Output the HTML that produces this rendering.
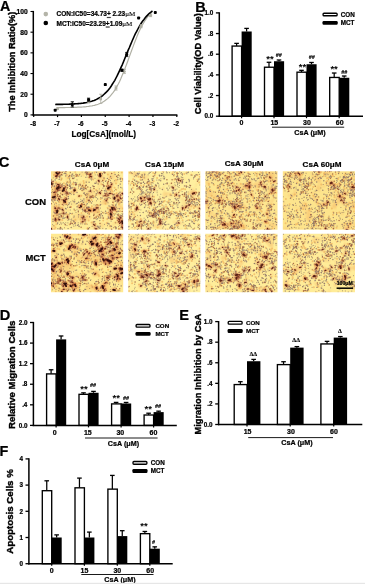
<!DOCTYPE html>
<html lang="en">
<head>
<meta charset="utf-8">
<title>Figure</title>
<style>
html,body{margin:0;padding:0;background:#fff;}
body{width:365px;height:584px;overflow:hidden;}
svg.fig{display:block;font-family:'Liberation Sans', Arial, sans-serif;fill:#000;}
svg.fig text{stroke:#000;stroke-width:.22px;stroke-linejoin:round;}
</style>
</head>
<body>
<svg class="fig" width="365" height="584" viewBox="0 0 365 584">
<text x="0.00" y="11.40" font-size="14.3" text-anchor="start" font-weight="bold">A</text>
<line x1="33.30" y1="10.90" x2="33.30" y2="115.60" stroke="#000" stroke-width="1.5"/>
<line x1="32.60" y1="114.90" x2="177.40" y2="114.90" stroke="#000" stroke-width="1.5"/>
<line x1="30.50" y1="114.90" x2="33.30" y2="114.90" stroke="#000" stroke-width="1.1"/>
<text x="27.70" y="117.30" font-size="6.7" text-anchor="end" font-weight="bold">0</text>
<line x1="30.50" y1="94.22" x2="33.30" y2="94.22" stroke="#000" stroke-width="1.1"/>
<text x="27.70" y="96.62" font-size="6.7" text-anchor="end" font-weight="bold">20</text>
<line x1="30.50" y1="73.54" x2="33.30" y2="73.54" stroke="#000" stroke-width="1.1"/>
<text x="27.70" y="75.94" font-size="6.7" text-anchor="end" font-weight="bold">40</text>
<line x1="30.50" y1="52.86" x2="33.30" y2="52.86" stroke="#000" stroke-width="1.1"/>
<text x="27.70" y="55.26" font-size="6.7" text-anchor="end" font-weight="bold">60</text>
<line x1="30.50" y1="32.18" x2="33.30" y2="32.18" stroke="#000" stroke-width="1.1"/>
<text x="27.70" y="34.58" font-size="6.7" text-anchor="end" font-weight="bold">80</text>
<line x1="30.50" y1="11.50" x2="33.30" y2="11.50" stroke="#000" stroke-width="1.1"/>
<text x="27.70" y="13.90" font-size="6.7" text-anchor="end" font-weight="bold">100</text>
<line x1="33.70" y1="114.90" x2="33.70" y2="117.10" stroke="#000" stroke-width="1.2"/>
<text x="33.10" y="125.80" font-size="6.3" text-anchor="middle" font-weight="bold">-8</text>
<line x1="57.55" y1="114.90" x2="57.55" y2="117.10" stroke="#000" stroke-width="1.2"/>
<text x="56.95" y="125.80" font-size="6.3" text-anchor="middle" font-weight="bold">-7</text>
<line x1="81.40" y1="114.90" x2="81.40" y2="117.10" stroke="#000" stroke-width="1.2"/>
<text x="80.80" y="125.80" font-size="6.3" text-anchor="middle" font-weight="bold">-6</text>
<line x1="105.25" y1="114.90" x2="105.25" y2="117.10" stroke="#000" stroke-width="1.2"/>
<text x="104.65" y="125.80" font-size="6.3" text-anchor="middle" font-weight="bold">-5</text>
<line x1="129.10" y1="114.90" x2="129.10" y2="117.10" stroke="#000" stroke-width="1.2"/>
<text x="128.50" y="125.80" font-size="6.3" text-anchor="middle" font-weight="bold">-4</text>
<line x1="152.95" y1="114.90" x2="152.95" y2="117.10" stroke="#000" stroke-width="1.2"/>
<text x="152.35" y="125.80" font-size="6.3" text-anchor="middle" font-weight="bold">-3</text>
<line x1="176.80" y1="114.90" x2="176.80" y2="117.10" stroke="#000" stroke-width="1.2"/>
<text x="176.20" y="125.80" font-size="6.3" text-anchor="middle" font-weight="bold">-2</text>
<text x="103.80" y="136.80" font-size="8.25" text-anchor="middle" font-weight="bold">Log[CsA](mol/L)</text>
<text transform="translate(15.30,61.80) rotate(-90)" font-size="9.2" text-anchor="middle" font-weight="bold" style="stroke-width:.38px">The Inhibition Ratio(%)</text>
<circle cx="45.8" cy="14.1" r="2.3" fill="#b4b4a8"/>
<circle cx="45.8" cy="23" r="2.3" fill="#000"/>
<text x="56.50" y="16.20" font-size="6.5" text-anchor="start" font-weight="bold">CON:IC50=34.73<tspan text-decoration="underline">+</tspan> 2.23<tspan font-family="'Liberation Serif', 'Times New Roman', serif" font-weight="normal" font-size="7.1" style="stroke-width:.12px">μM</tspan></text>
<text x="56.50" y="25.70" font-size="6.5" text-anchor="start" font-weight="bold">MCT:IC50=23.29<tspan text-decoration="underline">+</tspan>1.09<tspan font-family="'Liberation Serif', 'Times New Roman', serif" font-weight="normal" font-size="7.1" style="stroke-width:.12px">μM</tspan></text>
<polyline points="56.4,107.6 57.6,107.6 58.7,107.6 59.9,107.6 61.1,107.6 62.3,107.6 63.5,107.6 64.7,107.6 65.9,107.5 67.1,107.5 68.3,107.5 69.5,107.5 70.7,107.5 71.9,107.4 73.1,107.4 74.2,107.4 75.4,107.3 76.6,107.3 77.8,107.2 79.0,107.2 80.2,107.1 81.4,107.1 82.6,107.0 83.8,106.9 85.0,106.8 86.2,106.7 87.4,106.5 88.6,106.4 89.7,106.2 90.9,106.0 92.1,105.8 93.3,105.5 94.5,105.3 95.7,104.9 96.9,104.6 98.1,104.2 99.3,103.7 100.5,103.2 101.7,102.7 102.9,102.0 104.1,101.3 105.2,100.5 106.4,99.6 107.6,98.6 108.8,97.5 110.0,96.3 111.2,94.9 112.4,93.5 113.6,91.8 114.8,90.1 116.0,88.1 117.2,86.0 118.4,83.8 119.6,81.4 120.8,78.8 121.9,76.1 123.1,73.2 124.3,70.2 125.5,67.1 126.7,64.0 127.9,60.7 129.1,57.4 130.3,54.1 131.5,50.8 132.7,47.6 133.9,44.4 135.1,41.3 136.3,38.3 137.4,35.4 138.6,32.6 139.8,30.0 141.0,27.6 142.2,25.3 143.4,23.2 144.6,21.2 145.8,19.4 147.0,17.7 148.2,16.2 149.4,14.9 150.6,13.6 151.8,12.5" fill="none" stroke="#b0b0a4" stroke-width="1.2"/>
<polyline points="55.2,104.5 56.4,104.4 57.6,104.4 58.8,104.4 60.0,104.4 61.2,104.4 62.5,104.4 63.7,104.3 64.9,104.3 66.1,104.3 67.3,104.2 68.5,104.2 69.8,104.1 71.0,104.1 72.2,104.0 73.4,104.0 74.6,103.9 75.8,103.8 77.1,103.7 78.3,103.6 79.5,103.5 80.7,103.4 81.9,103.2 83.1,103.1 84.4,102.9 85.6,102.7 86.8,102.5 88.0,102.2 89.2,101.9 90.4,101.6 91.7,101.2 92.9,100.8 94.1,100.4 95.3,99.9 96.5,99.4 97.7,98.7 99.0,98.1 100.2,97.3 101.4,96.5 102.6,95.6 103.8,94.5 105.0,93.4 106.3,92.2 107.5,90.9 108.7,89.4 109.9,87.9 111.1,86.2 112.3,84.3 113.5,82.4 114.8,80.3 116.0,78.0 117.2,75.7 118.4,73.2 119.6,70.6 120.8,67.9 122.1,65.1 123.3,62.2 124.5,59.3 125.7,56.3 126.9,53.4 128.1,50.4 129.4,47.5 130.6,44.6 131.8,41.7 133.0,39.0 134.2,36.3 135.4,33.7 136.7,31.3 137.9,29.0 139.1,26.8 140.3,24.7 141.5,22.8 142.7,21.0 144.0,19.4 145.2,17.8 146.4,16.4 147.6,15.1 148.8,13.9 150.0,12.9 151.3,11.9 152.5,11.0" fill="none" stroke="#000" stroke-width="1.6"/>
<circle cx="57.6" cy="108.7" r="1.5" fill="#b0b0a4"/>
<line x1="72.34" y1="107.15" x2="72.34" y2="101.98" stroke="#b0b0a4" stroke-width="0.8"/>
<line x1="70.74" y1="101.98" x2="73.94" y2="101.98" stroke="#b0b0a4" stroke-width="0.8"/>
<line x1="70.74" y1="107.15" x2="73.94" y2="107.15" stroke="#b0b0a4" stroke-width="0.8"/>
<circle cx="72.3" cy="104.6" r="1.5" fill="#b0b0a4"/>
<line x1="88.56" y1="103.01" x2="88.56" y2="99.91" stroke="#b0b0a4" stroke-width="0.8"/>
<line x1="86.96" y1="99.91" x2="90.16" y2="99.91" stroke="#b0b0a4" stroke-width="0.8"/>
<line x1="86.96" y1="103.01" x2="90.16" y2="103.01" stroke="#b0b0a4" stroke-width="0.8"/>
<circle cx="88.6" cy="101.5" r="1.5" fill="#b0b0a4"/>
<line x1="100.72" y1="103.53" x2="100.72" y2="94.22" stroke="#b0b0a4" stroke-width="0.8"/>
<line x1="99.12" y1="94.22" x2="102.32" y2="94.22" stroke="#b0b0a4" stroke-width="0.8"/>
<line x1="99.12" y1="103.53" x2="102.32" y2="103.53" stroke="#b0b0a4" stroke-width="0.8"/>
<circle cx="100.7" cy="98.9" r="1.5" fill="#b0b0a4"/>
<line x1="115.98" y1="90.08" x2="115.98" y2="85.95" stroke="#b0b0a4" stroke-width="0.8"/>
<line x1="114.38" y1="85.95" x2="117.58" y2="85.95" stroke="#b0b0a4" stroke-width="0.8"/>
<line x1="114.38" y1="90.08" x2="117.58" y2="90.08" stroke="#b0b0a4" stroke-width="0.8"/>
<circle cx="116.0" cy="88.0" r="1.5" fill="#b0b0a4"/>
<line x1="124.33" y1="73.54" x2="124.33" y2="69.40" stroke="#b0b0a4" stroke-width="0.8"/>
<line x1="122.73" y1="69.40" x2="125.93" y2="69.40" stroke="#b0b0a4" stroke-width="0.8"/>
<line x1="122.73" y1="73.54" x2="125.93" y2="73.54" stroke="#b0b0a4" stroke-width="0.8"/>
<circle cx="124.3" cy="71.5" r="1.5" fill="#b0b0a4"/>
<line x1="141.03" y1="27.73" x2="141.03" y2="24.63" stroke="#b0b0a4" stroke-width="0.8"/>
<line x1="139.43" y1="24.63" x2="142.62" y2="24.63" stroke="#b0b0a4" stroke-width="0.8"/>
<line x1="139.43" y1="27.73" x2="142.62" y2="27.73" stroke="#b0b0a4" stroke-width="0.8"/>
<circle cx="141.0" cy="26.2" r="1.5" fill="#b0b0a4"/>
<line x1="150.56" y1="16.67" x2="150.56" y2="14.60" stroke="#b0b0a4" stroke-width="0.8"/>
<line x1="148.97" y1="14.60" x2="152.16" y2="14.60" stroke="#b0b0a4" stroke-width="0.8"/>
<line x1="148.97" y1="16.67" x2="152.16" y2="16.67" stroke="#b0b0a4" stroke-width="0.8"/>
<circle cx="150.6" cy="15.6" r="1.5" fill="#b0b0a4"/>
<rect x="53.7" y="108.7" width="3" height="3" rx="0.9" fill="#000"/>
<line x1="72.34" y1="106.94" x2="72.34" y2="101.77" stroke="#000" stroke-width="0.8"/>
<line x1="70.74" y1="101.77" x2="73.94" y2="101.77" stroke="#000" stroke-width="0.8"/>
<line x1="70.74" y1="106.94" x2="73.94" y2="106.94" stroke="#000" stroke-width="0.8"/>
<rect x="70.8" y="102.9" width="3" height="3" rx="0.9" fill="#000"/>
<line x1="88.56" y1="101.25" x2="88.56" y2="98.15" stroke="#000" stroke-width="0.8"/>
<line x1="86.96" y1="98.15" x2="90.16" y2="98.15" stroke="#000" stroke-width="0.8"/>
<line x1="86.96" y1="101.25" x2="90.16" y2="101.25" stroke="#000" stroke-width="0.8"/>
<rect x="87.1" y="98.2" width="3" height="3" rx="0.9" fill="#000"/>
<rect x="103.8" y="83.1" width="3" height="3" rx="0.9" fill="#000"/>
<line x1="121.95" y1="71.27" x2="121.95" y2="69.20" stroke="#000" stroke-width="0.8"/>
<line x1="120.35" y1="69.20" x2="123.55" y2="69.20" stroke="#000" stroke-width="0.8"/>
<line x1="120.35" y1="71.27" x2="123.55" y2="71.27" stroke="#000" stroke-width="0.8"/>
<rect x="120.4" y="68.7" width="3" height="3" rx="0.9" fill="#000"/>
<line x1="126.72" y1="56.58" x2="126.72" y2="52.45" stroke="#000" stroke-width="0.8"/>
<line x1="125.12" y1="52.45" x2="128.32" y2="52.45" stroke="#000" stroke-width="0.8"/>
<line x1="125.12" y1="56.58" x2="128.32" y2="56.58" stroke="#000" stroke-width="0.8"/>
<rect x="125.2" y="53.0" width="3" height="3" rx="0.9" fill="#000"/>
<rect x="137.1" y="16.4" width="3" height="3" rx="0.9" fill="#000"/>
<rect x="153.8" y="11.0" width="3" height="3" rx="0.9" fill="#000"/>
<text x="195.20" y="12.30" font-size="14.5" text-anchor="start" font-weight="bold">B</text>
<text transform="translate(201.40,63.70) rotate(-90)" font-size="9.2" text-anchor="middle" font-weight="bold" style="stroke-width:.38px">Cell Viability(OD Value)</text>
<line x1="236.60" y1="45.96" x2="236.60" y2="43.37" stroke="#000" stroke-width="1.25"/>
<line x1="234.30" y1="43.37" x2="238.90" y2="43.37" stroke="#000" stroke-width="1.3"/>
<line x1="246.60" y1="31.49" x2="246.60" y2="28.40" stroke="#000" stroke-width="1.25"/>
<line x1="244.30" y1="28.40" x2="248.90" y2="28.40" stroke="#000" stroke-width="1.3"/>
<rect x="232.10" y="46.06" width="9.50" height="70.14" fill="#fff" stroke="#000" stroke-width="1.35"/>
<rect x="241.60" y="31.49" width="10.10" height="84.71" fill="#000"/>
<line x1="269.00" y1="67.13" x2="269.00" y2="62.28" stroke="#000" stroke-width="1.25"/>
<line x1="266.70" y1="62.28" x2="271.30" y2="62.28" stroke="#000" stroke-width="1.3"/>
<line x1="279.00" y1="61.24" x2="279.00" y2="60.00" stroke="#000" stroke-width="1.25"/>
<line x1="276.70" y1="60.00" x2="281.30" y2="60.00" stroke="#000" stroke-width="1.3"/>
<rect x="264.50" y="67.23" width="9.50" height="48.97" fill="#fff" stroke="#000" stroke-width="1.35"/>
<rect x="274.00" y="61.24" width="10.10" height="54.96" fill="#000"/>
<line x1="301.50" y1="72.09" x2="301.50" y2="70.33" stroke="#000" stroke-width="1.25"/>
<line x1="299.20" y1="70.33" x2="303.80" y2="70.33" stroke="#000" stroke-width="1.3"/>
<line x1="311.50" y1="64.24" x2="311.50" y2="62.48" stroke="#000" stroke-width="1.25"/>
<line x1="309.20" y1="62.48" x2="313.80" y2="62.48" stroke="#000" stroke-width="1.3"/>
<rect x="297.00" y="72.19" width="9.50" height="44.01" fill="#fff" stroke="#000" stroke-width="1.35"/>
<rect x="306.50" y="64.24" width="10.10" height="51.96" fill="#000"/>
<line x1="334.20" y1="77.36" x2="334.20" y2="73.02" stroke="#000" stroke-width="1.25"/>
<line x1="331.90" y1="73.02" x2="336.50" y2="73.02" stroke="#000" stroke-width="1.3"/>
<line x1="344.20" y1="77.77" x2="344.20" y2="76.02" stroke="#000" stroke-width="1.25"/>
<line x1="341.90" y1="76.02" x2="346.50" y2="76.02" stroke="#000" stroke-width="1.3"/>
<rect x="329.70" y="77.46" width="9.50" height="38.74" fill="#fff" stroke="#000" stroke-width="1.35"/>
<rect x="339.20" y="77.77" width="10.10" height="38.43" fill="#000"/>
<line x1="219.30" y1="12.30" x2="219.30" y2="116.90" stroke="#000" stroke-width="1.5"/>
<line x1="218.60" y1="116.20" x2="363.00" y2="116.20" stroke="#000" stroke-width="1.5"/>
<line x1="215.90" y1="116.20" x2="219.30" y2="116.20" stroke="#000" stroke-width="1.3"/>
<text x="213.30" y="118.45" font-size="6.3" text-anchor="end" font-weight="bold">0.0</text>
<line x1="215.90" y1="95.54" x2="219.30" y2="95.54" stroke="#000" stroke-width="1.3"/>
<text x="213.30" y="97.79" font-size="6.3" text-anchor="end" font-weight="bold">.2</text>
<line x1="215.90" y1="74.88" x2="219.30" y2="74.88" stroke="#000" stroke-width="1.3"/>
<text x="213.30" y="77.13" font-size="6.3" text-anchor="end" font-weight="bold">.4</text>
<line x1="215.90" y1="54.22" x2="219.30" y2="54.22" stroke="#000" stroke-width="1.3"/>
<text x="213.30" y="56.47" font-size="6.3" text-anchor="end" font-weight="bold">.6</text>
<line x1="215.90" y1="33.56" x2="219.30" y2="33.56" stroke="#000" stroke-width="1.3"/>
<text x="213.30" y="35.81" font-size="6.3" text-anchor="end" font-weight="bold">.8</text>
<line x1="215.90" y1="12.90" x2="219.30" y2="12.90" stroke="#000" stroke-width="1.3"/>
<text x="213.30" y="15.15" font-size="6.3" text-anchor="end" font-weight="bold">1.0</text>
<line x1="241.60" y1="116.20" x2="241.60" y2="118.20" stroke="#000" stroke-width="1.2"/>
<line x1="274.00" y1="116.20" x2="274.00" y2="118.20" stroke="#000" stroke-width="1.2"/>
<line x1="306.50" y1="116.20" x2="306.50" y2="118.20" stroke="#000" stroke-width="1.2"/>
<line x1="339.20" y1="116.20" x2="339.20" y2="118.20" stroke="#000" stroke-width="1.2"/>
<text x="241.50" y="125.20" font-size="7" text-anchor="middle" font-weight="bold">0</text>
<text x="274.30" y="125.20" font-size="7" text-anchor="middle" font-weight="bold">15</text>
<text x="307.00" y="125.20" font-size="7" text-anchor="middle" font-weight="bold">30</text>
<text x="339.70" y="125.20" font-size="7" text-anchor="middle" font-weight="bold">60</text>
<line x1="272.00" y1="127.20" x2="344.20" y2="127.20" stroke="#000" stroke-width="0.9"/>
<text x="310.00" y="134.50" font-size="7.2" text-anchor="middle" font-weight="bold">CsA (μM)</text>
<text x="270.00" y="61.69" font-size="9.5" text-anchor="middle" font-weight="bold" style="stroke-width:0">**</text>
<text x="302.50" y="69.99" font-size="9.5" text-anchor="middle" font-weight="bold" style="stroke-width:0">**</text>
<text x="334.10" y="72.39" font-size="9.5" text-anchor="middle" font-weight="bold" style="stroke-width:0">**</text>
<text x="278.70" y="57.00" font-size="5.3" text-anchor="middle" font-weight="bold" font-style="italic" style="stroke-width:.15px">##</text>
<text x="311.70" y="59.30" font-size="5.3" text-anchor="middle" font-weight="bold" font-style="italic" style="stroke-width:.15px">##</text>
<text x="344.20" y="74.00" font-size="5.3" text-anchor="middle" font-weight="bold" font-style="italic" style="stroke-width:.15px">##</text>
<rect x="323.10" y="13.20" width="14.00" height="2.60" rx="0.9" fill="#fff" stroke="#000" stroke-width="1.35"/>
<rect x="322.50" y="21.00" width="15.20" height="3.80" rx="1.2" fill="#000"/>
<text x="340.80" y="16.70" font-size="6.3" text-anchor="start" font-weight="bold">CON</text>
<text x="340.80" y="25.10" font-size="6.3" text-anchor="start" font-weight="bold">MCT</text>
<text x="-1.20" y="167.00" font-size="14.8" text-anchor="start" font-weight="bold">C</text>
<text x="92.00" y="166.60" font-size="8.1" text-anchor="middle" font-weight="bold">CsA 0μM</text>
<text x="164.50" y="166.60" font-size="8.1" text-anchor="middle" font-weight="bold">CsA 15μM</text>
<text x="244.20" y="165.90" font-size="8.1" text-anchor="middle" font-weight="bold">CsA 30μM</text>
<text x="322.00" y="166.60" font-size="8.1" text-anchor="middle" font-weight="bold">CsA 60μM</text>
<text x="25.00" y="205.20" font-size="9.5" text-anchor="start" font-weight="bold">CON</text>
<text x="25.40" y="261.40" font-size="9.4" text-anchor="start" font-weight="bold">MCT</text>
<defs>
<filter id="o0" x="0" y="0" width="100%" height="100%" color-interpolation-filters="sRGB"><feTurbulence type="fractalNoise" baseFrequency="0.1" numOctaves="2" seed="1"/><feColorMatrix type="matrix" values="0 0 0 0 0.96  0 0 0 0 0.70  0 0 0 0 0.38  4 0 0 0 -2.040"/></filter>
<filter id="o1" x="0" y="0" width="100%" height="100%" color-interpolation-filters="sRGB"><feTurbulence type="fractalNoise" baseFrequency="0.1" numOctaves="2" seed="8"/><feColorMatrix type="matrix" values="0 0 0 0 0.96  0 0 0 0 0.70  0 0 0 0 0.38  4 0 0 0 -2.200"/></filter>
<filter id="o2" x="0" y="0" width="100%" height="100%" color-interpolation-filters="sRGB"><feTurbulence type="fractalNoise" baseFrequency="0.1" numOctaves="2" seed="15"/><feColorMatrix type="matrix" values="0 0 0 0 0.96  0 0 0 0 0.70  0 0 0 0 0.38  4 0 0 0 -2.040"/></filter>
<filter id="o3" x="0" y="0" width="100%" height="100%" color-interpolation-filters="sRGB"><feTurbulence type="fractalNoise" baseFrequency="0.1" numOctaves="2" seed="22"/><feColorMatrix type="matrix" values="0 0 0 0 0.96  0 0 0 0 0.70  0 0 0 0 0.38  4 0 0 0 -2.120"/></filter>
<filter id="o4" x="0" y="0" width="100%" height="100%" color-interpolation-filters="sRGB"><feTurbulence type="fractalNoise" baseFrequency="0.1" numOctaves="2" seed="29"/><feColorMatrix type="matrix" values="0 0 0 0 0.96  0 0 0 0 0.70  0 0 0 0 0.38  4 0 0 0 -1.880"/></filter>
<filter id="o5" x="0" y="0" width="100%" height="100%" color-interpolation-filters="sRGB"><feTurbulence type="fractalNoise" baseFrequency="0.1" numOctaves="2" seed="36"/><feColorMatrix type="matrix" values="0 0 0 0 0.96  0 0 0 0 0.70  0 0 0 0 0.38  4 0 0 0 -2.120"/></filter>
<filter id="o6" x="0" y="0" width="100%" height="100%" color-interpolation-filters="sRGB"><feTurbulence type="fractalNoise" baseFrequency="0.1" numOctaves="2" seed="43"/><feColorMatrix type="matrix" values="0 0 0 0 0.96  0 0 0 0 0.70  0 0 0 0 0.38  4 0 0 0 -2.120"/></filter>
<filter id="o7" x="0" y="0" width="100%" height="100%" color-interpolation-filters="sRGB"><feTurbulence type="fractalNoise" baseFrequency="0.1" numOctaves="2" seed="50"/><feColorMatrix type="matrix" values="0 0 0 0 0.96  0 0 0 0 0.70  0 0 0 0 0.38  4 0 0 0 -2.160"/></filter>
<filter id="tb" x="-5%" y="-5%" width="110%" height="110%"><feGaussianBlur stdDeviation="0.5"/></filter>
<filter id="bh" x="-5%" y="-5%" width="110%" height="110%"><feGaussianBlur stdDeviation="0.9"/></filter>
</defs>
<svg x="51.0" y="171.2" width="72.2" height="58.6" viewBox="0 0 72.2 58.6"><g filter="url(#tb)" fill="none" stroke-linecap="round">
<rect x="-3" y="-3" width="78.2" height="64.6" fill="#ffec98"/>
<rect x="-3" y="-3" width="78.2" height="64.6" filter="url(#o0)" opacity="0.42"/>
<path d="M40.2 39.1h0M27.9 4.4h0M70.3 51.1h0M59.0 18.7h0M9.8 22.6h0M22.4 13.4h0M52.4 9.3h0M40.0 40.3h0M3.8 17.6h0M34.4 34.2h0M28.3 24.7h0M35.5 30.5h0M70.6 7.4h0M24.4 48.5h0M2.2 26.1h0M39.2 38.2h0M15.1 42.7h0M9.6 36.3h0M42.2 8.2h0M63.9 27.7h0M40.9 35.0h0M55.8 51.9h0M56.9 11.1h0M53.2 7.6h0M24.7 5.0h0M47.6 44.2h0M62.3 33.6h0M27.6 34.1h0M5.8 37.5h0M63.5 42.7h0M4.4 56.4h0M6.0 44.0h0M9.0 25.0h0M8.2 45.7h0M35.1 52.5h0M46.3 34.3h0M19.1 1.4h0M23.6 39.0h0M72.4 18.5h0M-0.8 29.8h0M72.8 58.6h0M2.9 3.8h0M59.3 6.6h0M3.6 24.6h0M48.5 42.0h0M45.1 18.8h0M20.1 35.6h0M20.3 20.8h0M40.7 37.6h0M19.3 15.1h0M49.7 27.8h0M3.5 44.3h0M69.2 40.1h0M6.1 24.2h0M38.6 2.1h0M48.3 21.7h0M72.0 9.3h0M50.5 13.1h0M71.4 52.1h0M65.7 22.1h0M63.5 46.7h0M33.5 38.2h0M23.3 51.1h0M77.4 48.6h0M57.1 18.8h0M61.8 20.4h0M3.6 39.5h0M67.9 33.2h0M37.9 36.8h0M10.1 8.7h0M52.2 49.2h0M68.3 28.9h0M6.2 13.0h0M21.0 42.7h0M37.7 49.4h0M22.5 22.3h0M65.0 12.2h0M69.9 30.7h0M14.5 31.4h0M43.7 1.6h0M37.3 23.5h0M40.6 28.8h0M4.8 31.6h0M-0.4 15.7h0M76.5 19.2h0M37.9 6.4h0M68.1 26.6h0M1.6 11.4h0M60.7 42.3h0M73.4 47.4h0M5.1 11.1h0M63.4 1.4h0M59.6 36.1h0M62.4 31.3h0M4.6 23.9h0M16.8 43.4h0M65.2 18.5h0M15.9 24.7h0M9.7 14.0h0M18.7 5.7h0M30.4 46.3h0M-3.7 8.4h0M11.0 36.9h0M8.3 29.6h0M36.3 40.2h0M44.8 46.5h0M44.3 53.0h0M14.5 16.0h0M71.5 54.3h0M16.3 33.4h0M5.0 50.4h0M31.1 35.2h0M9.2 58.5h0M60.9 19.6h0M15.8 3.9h0M8.3 13.3h0M45.4 23.7h0M36.4 57.6h0M18.6 53.4h0M56.2 47.7h0M24.2 0.9h0M55.2 23.8h0M5.1 20.0h0M39.7 26.9h0M3.6 16.0h0M21.6 12.7h0M35.2 2.9h0M46.4 41.1h0M70.8 1.3h0M53.3 15.0h0M13.6 25.7h0M36.0 45.3h0M36.7 56.7h0M71.8 37.4h0M5.5 35.0h0M3.3 54.5h0M12.1 18.4h0M43.1 25.2h0M68.0 57.7h0M69.7 58.6h0M47.9 43.8h0M33.8 35.3h0M56.8 41.7h0M3.6 57.9h0M5.3 53.1h0M6.3 24.5h0M11.0 45.6h0M36.3 36.6h0M32.9 11.9h0M8.9 5.9h0M63.5 28.2h0M30.3 45.6h0M72.0 55.8h0M17.2 6.7h0M56.6 36.6h0M29.3 13.2h0M13.7 16.3h0M33.1 37.5h0M62.7 37.9h0M71.6 23.4h0M34.2 16.9h0M39.8 37.0h0M4.6 21.7h0M71.5 55.5h0M18.1 11.4h0M34.8 39.9h0M6.7 28.0h0M66.5 25.1h0M4.0 48.1h0M31.2 33.3h0M33.5 48.3h0M61.7 45.8h0M55.6 41.6h0M48.1 40.4h0M48.6 5.4h0M65.2 40.3h0M8.1 1.1h0M4.8 11.3h0M6.1 48.6h0M59.3 39.4h0M11.7 45.1h0M7.7 37.0h0M63.6 16.5h0M8.9 4.1h0M63.6 22.9h0M56.3 14.0h0M32.5 9.9h0M69.3 46.0h0M30.5 41.7h0M5.5 6.3h0M19.2 1.0h0M52.1 41.5h0M29.6 48.4h0M61.6 47.2h0M64.2 56.1h0M37.8 41.6h0M30.4 24.6h0M14.3 0.7h0M-0.7 29.5h0M8.6 30.9h0M47.5 34.2h0M59.6 16.2h0M22.6 11.6h0M9.9 42.5h0M16.2 10.8h0M44.1 -0.3h0M68.0 32.3h0M35.0 23.6h0M47.7 45.2h0M30.1 50.6h0M74.4 48.9h0M56.9 3.4h0M64.4 51.2h0M32.5 14.4h0M6.9 3.5h0M10.6 7.1h0M37.3 3.1h0M12.9 12.0h0M10.8 7.5h0M15.1 14.5h0M60.5 18.3h0M36.5 1.1h0M14.9 13.5h0M15.0 31.8h0M11.4 48.8h0M57.5 43.6h0M48.2 3.9h0M73.3 58.4h0M49.8 2.1h0M6.6 23.3h0M36.2 28.3h0M65.1 8.9h0M67.7 43.9h0M54.5 32.6h0M15.2 18.8h0M28.6 14.5h0M70.6 50.6h0M60.4 36.2h0M38.8 31.0h0M40.5 51.2h0" stroke="#f0b25c" stroke-width="2.0" opacity=".7"/>
<path d="M55.7 20.0h0M66.9 8.1h0M48.2 33.9h0M63.0 24.8h0M22.9 46.2h0M6.6 24.3h0M60.0 40.6h0M7.5 16.2h0M11.3 3.9h0M30.1 51.6h0M16.6 13.9h0M60.3 11.6h0M45.3 11.6h0M35.0 37.9h0M8.8 16.8h0M9.0 57.1h0M10.8 42.1h0M19.1 53.3h0M59.0 35.2h0M31.4 37.8h0M12.8 44.0h0M58.6 26.6h0M56.5 54.5h0M10.0 44.3h0M65.4 36.1h0M55.1 9.3h0M2.4 30.9h0M1.4 14.9h0M14.5 42.6h0M52.1 46.1h0M35.9 6.0h0M18.0 14.2h0M20.3 52.1h0M65.4 40.5h0M8.5 6.7h0M23.9 30.5h0M1.7 53.2h0M18.5 13.5h0M54.3 17.9h0M5.0 7.3h0M36.3 23.2h0M11.4 61.2h0M47.4 55.1h0M72.1 42.8h0M26.6 32.0h0M11.8 38.1h0M8.9 4.2h0M9.4 51.7h0M32.7 17.4h0M1.7 10.1h0M32.5 31.1h0M6.6 57.6h0M21.8 16.1h0M70.6 27.7h0M74.4 55.5h0M23.9 11.5h0M12.4 51.6h0M14.6 37.1h0M12.1 28.3h0M69.4 16.1h0M63.5 19.6h0M56.2 24.3h0M63.3 44.0h0M35.5 37.5h0M14.0 22.9h0M70.5 52.5h0M31.2 52.7h0M42.7 47.5h0M3.3 35.1h0M33.3 40.3h0M13.8 16.1h0M13.5 52.6h0M2.4 27.1h0M27.8 54.5h0M13.0 32.6h0M26.0 38.6h0M37.3 29.6h0M49.4 30.5h0M12.6 45.7h0M5.1 26.1h0M18.5 42.0h0M18.7 31.9h0M43.6 15.3h0M9.0 27.8h0M44.7 34.0h0M36.4 42.4h0M2.2 6.7h0M66.0 45.9h0M49.6 36.9h0M59.2 43.3h0M55.3 29.2h0M36.9 22.2h0M68.0 40.2h0M4.4 24.1h0M0.4 21.4h0M9.7 24.5h0M53.8 2.3h0M8.8 5.4h0M76.7 20.8h0M51.8 57.2h0M21.3 7.0h0M30.2 5.0h0M57.1 47.3h0M2.9 23.6h0M4.2 20.1h0M62.4 34.6h0M33.4 23.0h0M27.5 45.8h0M55.4 27.7h0M34.7 23.5h0M54.8 27.7h0M45.2 10.6h0M39.0 24.6h0M31.8 17.8h0M38.0 0.6h0M46.9 12.7h0M16.5 34.6h0M36.6 32.4h0M24.2 11.2h0M27.5 15.0h0M48.3 17.7h0M35.3 11.0h0M9.2 12.2h0M34.6 40.7h0M39.6 18.4h0M27.2 51.6h0M38.6 26.3h0M8.4 2.2h0M54.3 22.6h0M53.9 28.3h0M60.2 40.7h0M40.3 20.7h0M61.5 26.0h0M72.8 25.2h0M67.2 16.7h0M16.0 54.2h0M9.1 3.9h0M53.6 53.2h0M34.5 15.1h0M22.3 53.6h0M8.7 53.3h0M19.6 22.1h0M21.7 42.1h0M5.2 2.1h0M59.4 21.9h0M13.4 27.5h0M68.9 21.2h0M68.0 45.2h0M44.8 24.1h0M19.9 48.6h0M27.6 53.3h0M70.1 54.8h0M34.2 1.2h0M19.5 15.1h0M10.3 3.5h0M33.0 36.2h0M5.7 48.3h0M49.9 46.7h0M8.1 46.1h0M50.2 40.2h0M59.5 9.3h0M35.4 33.0h0M69.6 61.0h0M46.7 21.2h0M66.2 43.2h0M71.4 47.9h0M22.4 49.7h0M49.0 2.4h0M29.8 28.2h0M-4.2 12.1h0M70.1 50.9h0M21.9 2.8h0M9.3 57.6h0M9.1 43.4h0M13.0 2.5h0M16.7 10.8h0M8.0 33.7h0M19.4 15.9h0M10.8 26.5h0M3.5 41.8h0M37.4 36.5h0M57.9 23.7h0M60.1 50.1h0M43.9 50.5h0M20.5 23.0h0M55.3 57.5h0M7.7 59.9h0M31.9 48.9h0M64.7 51.6h0M11.0 51.8h0M15.9 45.5h0M33.2 50.1h0M40.4 8.9h0M60.6 41.3h0M72.5 56.5h0M35.0 24.3h0M28.6 3.4h0M47.4 36.5h0M77.1 52.5h0M60.2 42.5h0M69.5 26.3h0M19.6 1.4h0M4.5 27.3h0M4.6 21.4h0M19.1 14.4h0M35.7 18.0h0M48.1 47.0h0M67.6 28.3h0M29.5 52.7h0M0.7 8.2h0M59.2 22.6h0M45.3 26.4h0M47.2 45.3h0M21.2 5.6h0M67.4 55.5h0M7.8 49.4h0M69.6 27.5h0M23.2 31.5h0M14.8 51.6h0M15.0 42.2h0M69.5 12.9h0M51.0 10.4h0M57.5 41.1h0M56.1 30.8h0M67.3 42.6h0M11.6 12.5h0M45.4 29.6h0M8.2 49.1h0M32.7 39.0h0M27.8 13.5h0M41.4 30.2h0M68.2 47.7h0M14.6 29.4h0M71.7 43.2h0M8.7 19.3h0M9.1 58.0h0M16.9 49.2h0M67.7 48.6h0M36.9 58.2h0M36.2 32.7h0M32.8 31.4h0M14.2 16.4h0M5.3 32.5h0M35.4 14.2h0M61.7 45.2h0M65.4 46.7h0M62.1 24.6h0M69.0 12.9h0M66.7 29.7h0M44.6 52.8h0M22.9 55.1h0M52.5 11.5h0M31.1 0.9h0M26.0 8.7h0M15.1 12.3h0M12.4 34.0h0M37.3 20.1h0M25.8 11.5h0M49.9 43.1h0M60.9 39.9h0M29.1 18.3h0M33.0 29.7h0M25.0 41.2h0M10.4 38.6h0M68.7 4.6h0M16.3 28.0h0M63.6 26.0h0M64.1 30.3h0M19.3 38.8h0M15.5 18.3h0M34.6 40.1h0M12.2 39.9h0M15.1 46.3h0M66.1 23.8h0M66.0 26.1h0M9.3 1.3h0M43.7 56.9h0M71.7 23.2h0M46.9 41.1h0M4.8 27.1h0M47.4 12.8h0M15.1 21.7h0M3.6 14.7h0M20.6 47.9h0M47.9 56.8h0M63.8 25.4h0M64.8 18.2h0M1.7 20.6h0M38.5 6.5h0M21.8 29.7h0M14.0 46.4h0M22.3 20.7h0M8.8 38.1h0M5.8 37.9h0M7.6 44.8h0M11.3 42.5h0M62.4 56.5h0M0.8 9.0h0M53.0 41.8h0M5.5 1.9h0M65.9 31.8h0M56.0 22.8h0M2.1 28.4h0M23.7 28.7h0M64.0 55.5h0M36.2 53.0h0M60.3 44.7h0M4.3 19.0h0M70.2 24.3h0M10.0 4.6h0M28.9 13.0h0M63.3 23.1h0M37.5 30.9h0M27.0 34.8h0M2.2 54.6h0M6.8 20.3h0M10.9 38.2h0M56.3 23.8h0M35.1 10.9h0M27.0 5.3h0M7.0 23.2h0M35.1 40.7h0M56.9 37.6h0M72.8 45.4h0M67.0 37.4h0M61.7 34.5h0M3.1 21.3h0M66.2 4.4h0M31.8 44.0h0M3.4 33.0h0M64.8 42.6h0M69.1 20.9h0M51.4 41.2h0M10.2 57.1h0M15.2 24.3h0M60.6 7.2h0M34.1 1.8h0M27.3 39.5h0M35.6 40.4h0M9.4 21.9h0M9.3 38.1h0M47.0 22.1h0M49.4 26.5h0M33.4 45.2h0M-1.7 15.6h0M34.6 40.8h0M46.1 44.7h0M-0.9 28.6h0M70.4 53.3h0M35.1 13.6h0M7.4 18.0h0M2.5 40.9h0M39.8 19.5h0M55.7 22.4h0M15.8 11.7h0M44.0 7.1h0M42.1 52.7h0M49.8 21.3h0M51.9 17.0h0M52.5 15.5h0M69.1 31.7h0M20.7 32.9h0M45.2 48.4h0M9.9 16.4h0M39.3 7.7h0M7.9 0.1h0M56.0 15.2h0M59.4 20.2h0M49.5 20.3h0M67.0 47.0h0M34.5 50.7h0M66.9 43.5h0M35.1 34.7h0M59.4 27.2h0M14.5 22.0h0M10.3 52.9h0M70.4 53.9h0M31.5 39.8h0M5.5 60.2h0M4.1 48.8h0M75.2 45.5h0M6.4 52.7h0M30.1 43.9h0M68.6 54.2h0M67.5 1.2h0M42.6 40.2h0M44.3 54.7h0M10.2 7.9h0M64.8 37.1h0M37.6 35.7h0M61.1 44.9h0M6.0 21.8h0M15.6 23.2h0M54.2 25.4h0M37.2 40.7h0M24.2 39.5h0M16.9 51.7h0M47.8 38.6h0M22.3 7.4h0M43.0 33.7h0M1.6 18.2h0M6.7 17.8h0M57.1 31.6h0M8.6 16.1h0M71.5 21.7h0M47.8 46.3h0M15.7 21.0h0M27.4 16.8h0M53.5 27.9h0M1.0 29.2h0M44.2 47.1h0M15.8 -3.3h0M24.7 54.5h0M24.2 12.9h0M62.1 42.3h0M48.3 21.5h0M66.7 8.6h0M71.0 42.5h0M8.9 18.8h0M19.8 30.6h0M31.9 47.1h0M8.3 18.6h0M66.2 40.6h0M13.4 56.6h0M7.6 28.3h0M43.2 20.5h0M35.3 2.3h0M6.8 19.4h0M28.9 3.0h0M34.5 6.1h0M1.8 24.9h0M44.2 3.7h0M22.9 4.3h0M37.9 36.3h0M18.1 43.5h0M49.6 34.0h0M39.0 27.0h0M70.2 50.0h0M63.7 9.5h0M71.1 16.9h0M23.1 16.6h0M20.6 5.2h0M25.1 32.8h0M66.6 30.1h0M31.4 30.7h0M61.1 33.3h0M20.0 13.5h0M70.0 16.4h0M6.1 46.9h0M0.6 10.5h0M36.4 25.0h0M68.3 28.7h0M21.0 49.3h0M24.7 11.5h0M7.5 30.6h0M49.5 46.7h0M58.5 47.0h0M5.7 21.2h0M1.7 30.0h0M17.9 48.5h0M46.5 3.8h0M7.9 57.6h0M22.4 10.9h0M54.7 57.7h0M9.0 42.6h0M66.2 23.4h0M41.1 55.3h0M35.5 22.5h0M68.8 25.4h0M16.7 36.2h0M45.1 35.9h0M40.0 3.8h0M7.5 19.2h0M65.2 33.0h0M69.5 45.4h0M34.5 23.6h0M8.5 45.2h0M53.8 14.6h0M7.8 39.7h0M23.0 4.8h0" stroke="#7e665e" stroke-width="0.95" opacity=".8"/>
<path d="M68.5 37.5h0M29.4 13.8h0M69.2 7.1h0M49.5 44.7h0M46.3 55.0h0M18.1 31.7h0M38.1 11.1h0M4.1 8.8h0M19.7 42.2h0M23.1 44.9h0M51.0 26.8h0M7.7 27.8h0M64.1 3.3h0M29.8 17.0h0M71.9 29.2h0M17.7 47.8h0M14.5 16.4h0M17.7 33.4h0M27.7 43.5h0M44.7 12.2h0M74.5 44.0h0M46.1 19.7h0M5.0 12.6h0M13.8 2.0h0M30.8 17.0h0M32.7 18.5h0M29.7 17.8h0M32.9 27.8h0M32.8 22.0h0M70.5 46.0h0M48.5 43.4h0M11.7 23.6h0M31.4 38.3h0M0.3 16.1h0M2.5 12.6h0M18.7 36.0h0M-1.8 18.0h0M31.3 29.2h0M3.4 25.1h0M51.4 44.6h0M41.8 14.7h0M40.5 31.9h0M9.9 45.7h0M10.3 13.8h0M38.1 29.0h0M70.9 44.4h0M65.4 56.7h0M7.1 2.8h0M40.2 25.8h0M69.6 61.6h0M59.3 41.1h0M0.8 28.5h0M54.6 10.2h0M1.3 14.0h0M67.4 14.6h0M53.0 0.6h0M13.5 16.9h0M2.0 48.0h0M15.3 41.2h0M24.3 51.5h0M6.1 18.9h0M56.9 16.5h0M25.9 32.2h0M23.1 37.9h0M56.9 52.0h0M41.3 1.7h0M53.6 22.1h0M23.0 50.0h0M4.3 28.9h0M61.4 43.7h0M49.1 55.1h0M24.9 14.1h0M43.3 50.5h0M2.0 50.0h0M40.0 2.6h0M60.5 40.0h0M42.2 26.5h0M71.9 58.7h0M64.1 26.5h0M3.7 48.0h0M16.2 13.3h0M17.6 47.9h0M33.2 39.4h0M56.9 52.3h0M66.0 29.6h0M2.8 26.7h0M26.5 54.1h0M33.4 21.8h0M6.5 29.4h0M14.8 37.4h0M5.4 14.5h0M39.2 30.2h0M64.8 57.6h0M51.4 2.6h0M70.1 44.5h0M64.7 34.7h0M4.0 41.6h0M36.7 36.0h0M39.2 19.7h0M45.6 1.0h0M18.1 21.6h0M57.6 46.7h0M7.3 37.3h0M31.8 48.5h0M71.8 53.2h0M64.0 37.8h0M58.1 52.8h0M23.1 6.7h0M64.7 38.4h0M15.2 26.9h0M69.2 43.9h0M19.5 11.7h0M36.8 40.4h0M13.2 16.7h0M45.3 22.5h0M35.6 3.5h0M27.7 31.1h0M64.6 29.8h0M28.1 55.3h0M43.9 12.0h0M15.5 20.0h0M13.0 14.2h0M69.4 7.6h0M33.7 46.6h0M54.9 42.3h0M46.3 47.6h0M66.9 30.7h0M38.1 36.1h0M58.0 34.7h0M38.6 4.6h0M69.2 47.0h0M57.2 24.0h0M8.7 14.6h0M19.7 16.6h0M30.5 46.2h0M20.9 16.8h0M11.6 46.9h0M66.8 6.3h0M19.0 17.4h0M4.8 42.3h0M1.5 10.6h0M44.3 25.7h0M26.1 35.5h0M64.8 33.8h0M72.1 49.2h0M69.3 8.4h0M40.7 7.7h0M4.5 36.8h0M25.1 12.8h0M19.6 17.6h0M57.9 22.5h0M19.0 22.3h0M53.0 6.7h0M45.3 37.6h0M36.6 1.6h0M66.4 47.0h0M59.7 11.4h0M22.9 23.3h0M53.0 15.0h0M47.3 56.2h0M8.7 25.2h0M13.2 42.8h0M48.7 56.7h0M7.7 46.9h0M18.5 15.0h0M60.4 55.1h0M23.7 52.1h0M12.2 -0.3h0M3.2 15.1h0M47.6 4.9h0M67.8 22.2h0M48.9 57.1h0M70.2 56.3h0M7.9 17.3h0M11.3 15.6h0M26.0 21.4h0M75.0 59.8h0M20.2 56.3h0M67.1 40.0h0M5.8 6.9h0M38.5 56.4h0M32.1 33.3h0M32.0 46.8h0M57.2 26.2h0M0.2 9.9h0M14.7 4.7h0M4.7 39.6h0M8.0 43.1h0M12.6 31.1h0M7.9 2.2h0M33.9 52.8h0M14.9 2.6h0M34.0 17.6h0M15.1 37.7h0M14.5 -0.2h0M69.2 25.1h0M8.9 19.1h0M39.5 16.6h0M6.7 4.8h0M54.8 19.7h0M50.3 42.6h0M8.5 5.6h0M62.3 27.6h0M62.6 23.4h0M17.9 5.3h0M37.5 57.4h0M57.3 45.8h0M17.1 57.4h0M56.4 7.2h0M53.4 19.5h0M48.8 49.4h0M24.2 52.5h0M70.0 10.2h0M42.7 37.3h0M70.8 31.1h0M38.6 45.6h0M6.8 3.9h0M68.0 46.9h0M58.2 17.9h0M15.1 33.4h0M35.8 0.7h0M6.0 43.9h0M17.5 27.4h0M23.0 30.3h0M18.6 7.8h0M54.6 40.1h0M21.2 3.1h0M7.0 5.4h0M11.3 58.1h0M64.8 56.1h0M46.6 27.7h0M48.3 9.3h0M29.9 30.2h0M49.7 33.4h0M59.6 5.4h0M17.3 25.3h0M8.2 8.2h0M13.0 47.0h0M20.9 4.0h0M6.7 51.8h0" stroke="#7c6260" stroke-width="1.45" opacity=".75"/>
<path d="M31.4 14.2h0M13.1 19.2h0M69.4 23.6h0M4.2 46.7h0M57.4 10.3h0M60.3 22.3h0M16.3 22.9h0M59.1 54.9h0M48.8 3.9h0M6.6 0.3h0M65.6 5.3h0M57.9 8.5h0M56.8 12.7h0M25.5 13.0h0M6.0 4.6h0M8.9 16.1h0M56.9 23.8h0M60.8 40.9h0M14.5 16.6h0M29.8 33.9h0M7.3 19.4h0M6.7 16.3h0M56.0 23.9h0M67.4 3.8h0M25.0 3.0h0M21.9 7.2h0M61.3 41.1h0M23.9 17.1h0M36.8 3.0h0M72.7 56.6h0M66.9 28.1h0M24.6 13.3h0M12.8 31.3h0M12.1 42.5h0M35.6 36.2h0M32.9 16.1h0M11.3 13.9h0M43.0 43.0h0M30.6 33.6h0M3.8 49.4h0M4.9 49.9h0M9.5 56.2h0M59.9 14.8h0M37.2 57.9h0M60.1 48.4h0M40.9 25.9h0M71.5 49.8h0M19.5 52.5h0M8.1 37.1h0M31.1 19.2h0M27.3 40.6h0M69.4 24.0h0M11.0 28.5h0M3.7 37.1h0M70.0 49.3h0M31.0 15.6h0M67.4 50.7h0M8.3 25.0h0M61.9 31.1h0M14.3 53.5h0M54.5 22.2h0M72.0 57.2h0M60.7 2.4h0M38.0 38.0h0M39.6 26.0h0M6.5 38.2h0M36.8 15.9h0M14.3 20.3h0M37.3 38.6h0M54.0 1.2h0M61.3 48.1h0M48.6 43.6h0M4.3 23.0h0M71.9 45.1h0M62.2 39.1h0M12.9 29.5h0M52.2 47.0h0M3.3 28.8h0M51.7 9.2h0M66.4 49.0h0M66.7 25.4h0M65.4 24.8h0M59.4 40.4h0M42.3 50.9h0M39.7 3.1h0M71.2 40.2h0M71.5 26.9h0M14.5 15.2h0M26.4 3.7h0M19.1 9.8h0M37.4 29.0h0M69.9 47.2h0M57.5 24.3h0M45.2 45.7h0M0.0 11.5h0M55.9 21.9h0M14.1 31.1h0M30.8 32.5h0M18.7 4.3h0M56.4 11.8h0M68.7 45.5h0M71.9 7.8h0M70.1 50.0h0M60.6 58.0h0M11.4 33.2h0M6.7 25.1h0M34.8 17.0h0M53.1 1.3h0M10.6 3.2h0M17.5 22.8h0M37.5 37.8h0M43.3 46.7h0M31.4 47.2h0M74.4 57.9h0M35.8 26.2h0M6.9 60.6h0M55.8 15.0h0M50.7 19.3h0M41.8 24.2h0M34.8 14.2h0M7.0 16.1h0M33.3 33.3h0M56.1 28.6h0M12.9 28.4h0M71.9 59.1h0M68.0 29.3h0M41.9 25.7h0M38.4 6.0h0M6.8 23.2h0M71.2 59.3h0M52.5 14.3h0M73.1 42.4h0M14.8 26.8h0M11.2 1.4h0M25.5 4.8h0M3.4 26.8h0M16.3 21.1h0M67.9 57.7h0M50.1 4.3h0M0.3 32.5h0M7.9 36.0h0M16.2 16.7h0M5.1 17.7h0M38.2 3.0h0M57.5 14.6h0M12.3 42.5h0M15.1 0.2h0M4.8 20.6h0M30.1 56.1h0M73.6 60.1h0M9.4 25.8h0M67.1 44.1h0M11.3 23.4h0M59.9 47.2h0M55.9 25.3h0M6.8 36.8h0M72.2 54.6h0M19.6 36.1h0M63.5 36.1h0M39.8 25.9h0M6.9 15.7h0M8.0 16.2h0M14.2 29.7h0M46.0 33.5h0M10.2 15.3h0M42.7 44.2h0M13.1 -2.7h0M19.9 50.9h0M52.2 24.9h0M42.7 15.2h0M38.4 29.1h0M6.4 19.8h0M0.2 12.6h0M38.0 38.6h0M38.2 42.7h0M36.2 37.4h0M49.0 52.3h0M39.2 25.5h0M60.4 38.4h0M37.5 38.3h0M10.3 44.2h0M61.2 22.6h0M34.8 0.9h0M8.8 37.2h0M72.1 60.9h0M52.0 13.2h0M61.8 23.3h0M21.3 52.2h0M2.5 10.1h0M43.0 17.2h0M64.0 38.6h0M10.5 45.4h0M16.5 16.5h0M16.4 14.3h0M35.8 2.1h0M56.6 27.6h0M5.8 15.1h0M2.4 44.9h0M40.4 25.0h0M67.0 23.5h0" stroke="#965034" stroke-width="1.5" opacity=".8"/>
<g filter="url(#bh)" stroke="#d66a40" opacity=".72"><path d="M59.4 22.3l-1.0 0.0M68.5 49.9l-0.6 0.5M16.6 44.9l0.1 1.8M48.5 21.2l1.0 1.2M39.6 2.9l-0.7 0.8M28.3 36.3l0.7 0.1M39.0 5.1l1.7 0.5M0.4 57.3l0.3 1.6M59.1 15.3l0.5 0.7M44.3 57.6l1.5 0.0M69.1 26.6l0.8 0.9M11.5 38.3l0.6 0.8M32.1 50.4l-0.8 0.3M67.5 47.5l1.1 1.0M39.5 19.6l-0.4 0.5M63.7 37.5l0.4 1.2M28.4 24.8l-0.5 0.1M34.2 48.6l-0.4 0.0M15.6 27.7l-1.4 1.1M7.6 27.0l0.9 1.5M-0.7 13.9l-0.8 1.6M42.7 53.3l1.0 0.9M6.0 18.0l0.7 0.6M69.3 46.4l0.3 0.3M8.0 14.9l-0.3 0.1M34.1 38.8l-0.0 1.0M6.6 13.2l1.5 0.5M67.1 28.4l0.2 1.4M62.9 36.2l-0.4 0.5M71.0 22.2l1.4 0.5M8.9 16.5l0.7 0.0M59.2 38.4l0.3 1.0M15.4 21.8l0.9 0.2M61.0 12.8l-0.7 0.5M45.3 36.6l1.6 0.1M5.2 4.5l-0.7 0.6M4.5 47.5l0.3 1.4M6.7 16.9l1.2 0.5M70.9 55.7l0.7 0.9M55.2 29.1l-0.1 0.5M5.5 39.5l1.1 1.0M12.3 41.8l0.6 0.1M7.7 1.8l-0.4 0.8M3.8 21.0l-1.0 0.4M59.8 45.2l-0.2 1.3M7.7 48.0l1.1 0.6M54.3 23.9l-0.4 0.6M23.0 18.4l0.2 0.9M67.0 24.6l-1.4 0.1M4.1 36.8l0.4 0.5M6.2 4.0l-0.7 1.3M75.4 58.8l-0.2 0.3M47.3 9.1l0.8 1.5M8.6 1.0l-0.0 0.6M69.4 51.0l-0.7 1.2M32.6 44.9l-0.6 1.7" stroke-width="2.4"/><path d="M6.4 39.4l-0.4 2.0M13.0 17.1l-0.5 1.6M49.0 2.7l0.3 2.5M5.3 1.4l1.2 1.2M58.0 16.3l-1.0 1.0M71.0 50.0l0.6 2.0M43.9 38.6l-1.1 0.4M38.0 39.0l1.3 0.4M59.6 42.4l0.5 1.2M-0.6 11.2l1.5 1.6M3.9 25.6l-2.2 0.6M29.8 34.7l0.3 0.7M12.9 18.9l-1.3 0.9M12.8 29.4l1.4 1.3M63.5 26.4l-0.1 1.1M24.0 19.0l-0.5 0.5M7.7 15.9l-1.8 1.1M61.0 36.5l0.7 1.7" stroke-width="3.3"/></g>
<path d="M59.4 22.3l-1.0 0.0M68.5 49.9l-0.6 0.5M16.6 44.9l0.1 1.8M48.5 21.2l1.0 1.2M39.6 2.9l-0.7 0.8M28.3 36.3l0.7 0.1M39.0 5.1l1.7 0.5M0.4 57.3l0.3 1.6M59.1 15.3l0.5 0.7M44.3 57.6l1.5 0.0M69.1 26.6l0.8 0.9M11.5 38.3l0.6 0.8M32.1 50.4l-0.8 0.3M67.5 47.5l1.1 1.0M39.5 19.6l-0.4 0.5M63.7 37.5l0.4 1.2M28.4 24.8l-0.5 0.1M34.2 48.6l-0.4 0.0M15.6 27.7l-1.4 1.1M7.6 27.0l0.9 1.5M-0.7 13.9l-0.8 1.6M42.7 53.3l1.0 0.9M6.0 18.0l0.7 0.6M69.3 46.4l0.3 0.3M8.0 14.9l-0.3 0.1M34.1 38.8l-0.0 1.0M6.6 13.2l1.5 0.5M67.1 28.4l0.2 1.4M62.9 36.2l-0.4 0.5M71.0 22.2l1.4 0.5M8.9 16.5l0.7 0.0M59.2 38.4l0.3 1.0M15.4 21.8l0.9 0.2M61.0 12.8l-0.7 0.5M45.3 36.6l1.6 0.1M5.2 4.5l-0.7 0.6M4.5 47.5l0.3 1.4M6.7 16.9l1.2 0.5M70.9 55.7l0.7 0.9M55.2 29.1l-0.1 0.5M5.5 39.5l1.1 1.0M12.3 41.8l0.6 0.1M7.7 1.8l-0.4 0.8M3.8 21.0l-1.0 0.4M59.8 45.2l-0.2 1.3M7.7 48.0l1.1 0.6M54.3 23.9l-0.4 0.6M23.0 18.4l0.2 0.9M67.0 24.6l-1.4 0.1M4.1 36.8l0.4 0.5M6.2 4.0l-0.7 1.3M75.4 58.8l-0.2 0.3M47.3 9.1l0.8 1.5M8.6 1.0l-0.0 0.6M69.4 51.0l-0.7 1.2M32.6 44.9l-0.6 1.7" stroke="#62281c" stroke-width="1.25"/>
<path d="M6.4 39.4l-0.4 2.0M13.0 17.1l-0.5 1.6M49.0 2.7l0.3 2.5M5.3 1.4l1.2 1.2M58.0 16.3l-1.0 1.0M71.0 50.0l0.6 2.0M43.9 38.6l-1.1 0.4M38.0 39.0l1.3 0.4M59.6 42.4l0.5 1.2M-0.6 11.2l1.5 1.6M3.9 25.6l-2.2 0.6M29.8 34.7l0.3 0.7M12.9 18.9l-1.3 0.9M12.8 29.4l1.4 1.3M63.5 26.4l-0.1 1.1M24.0 19.0l-0.5 0.5M7.7 15.9l-1.8 1.1M61.0 36.5l0.7 1.7" stroke="#38140f" stroke-width="1.9"/>
</g></svg>
<svg x="128.2" y="171.2" width="72.2" height="58.6" viewBox="0 0 72.2 58.6"><g filter="url(#tb)" fill="none" stroke-linecap="round">
<rect x="-3" y="-3" width="78.2" height="64.6" fill="#ffef9e"/>
<rect x="-3" y="-3" width="78.2" height="64.6" filter="url(#o1)" opacity="0.42"/>
<path d="M28.0 41.8h0M44.6 37.0h0M51.6 40.3h0M45.8 31.2h0M12.4 12.4h0M33.2 41.3h0M14.1 53.5h0M48.2 54.4h0M35.2 37.6h0M53.5 18.1h0M38.4 35.6h0M3.0 38.2h0M46.0 4.4h0M70.6 45.6h0M4.5 34.5h0M25.8 39.2h0M0.7 10.1h0M48.8 41.3h0M63.3 35.1h0M70.1 53.2h0M6.1 43.4h0M60.0 44.5h0M70.5 27.1h0M35.2 40.0h0M21.4 22.9h0M25.0 1.7h0M44.7 56.2h0M52.3 44.5h0M48.7 1.5h0M70.1 53.6h0M38.0 40.5h0M54.4 49.0h0M4.6 16.5h0M-5.3 34.3h0M25.9 25.6h0M9.0 50.2h0M5.1 32.9h0M22.0 13.1h0M6.7 56.3h0M70.9 11.3h0M24.4 25.4h0M53.2 46.8h0M65.8 57.8h0M25.9 15.6h0M9.3 10.4h0M17.0 51.2h0M61.1 28.8h0M66.5 42.4h0M78.4 45.5h0M25.3 51.9h0M9.3 53.8h0M71.5 5.6h0M45.4 43.1h0M20.1 54.0h0M6.6 45.5h0M56.5 37.2h0M12.3 8.4h0M-0.3 49.9h0M28.9 6.8h0M8.9 51.9h0M42.2 23.4h0M15.6 14.0h0M7.5 51.8h0M26.5 45.5h0M25.9 41.2h0M5.0 8.1h0M38.8 12.5h0M22.5 41.2h0M35.2 44.4h0M36.7 41.4h0M31.9 52.2h0M28.2 46.0h0M46.2 8.4h0M38.4 47.6h0M9.6 17.7h0M70.3 46.3h0M40.5 29.7h0M16.2 27.6h0M71.0 30.6h0M69.2 8.6h0M45.0 0.3h0M26.6 32.1h0M34.7 0.3h0M23.0 43.0h0M57.6 41.7h0M23.8 11.3h0M25.4 10.1h0M37.0 41.1h0M43.6 40.4h0M50.0 43.4h0M66.3 34.8h0M39.7 31.3h0M21.7 11.1h0M22.5 41.8h0M0.1 12.2h0M28.6 39.8h0M39.9 39.1h0M47.8 40.7h0M36.5 29.7h0M63.0 25.5h0M48.2 47.2h0M5.2 12.4h0M25.8 29.1h0M13.2 52.5h0M66.7 5.3h0M21.0 36.0h0M21.2 18.0h0M57.1 57.2h0M31.7 42.7h0M55.1 17.6h0M20.6 39.8h0M26.7 3.5h0M58.0 35.4h0M70.8 21.1h0M58.5 1.4h0M55.9 43.1h0M35.5 37.7h0M57.5 54.9h0M39.4 58.3h0M5.7 14.0h0M65.3 43.0h0M63.4 3.6h0M19.7 12.3h0M70.6 27.2h0M9.2 36.1h0M40.4 39.2h0M8.0 38.5h0M45.5 57.0h0M46.7 24.6h0M8.3 13.4h0M37.8 35.6h0M26.5 44.9h0M4.0 52.7h0M32.3 49.9h0M20.6 44.0h0M3.0 1.7h0M8.7 50.2h0M34.0 34.1h0M19.7 59.3h0M15.2 6.4h0M51.5 25.5h0M12.5 12.1h0M11.2 54.0h0M50.0 46.6h0M60.2 48.9h0M1.3 1.6h0M2.3 49.4h0M1.0 33.4h0M69.0 44.6h0M61.4 38.4h0M21.2 11.8h0M22.5 28.5h0M52.7 45.0h0M33.4 38.4h0M44.2 2.2h0M5.7 31.7h0M4.4 41.0h0M35.2 30.8h0M60.3 23.1h0M12.6 20.5h0M67.3 35.3h0M30.9 46.8h0M11.3 0.1h0M29.4 56.3h0M36.3 48.4h0M16.3 60.7h0M38.3 46.6h0M44.8 34.1h0M12.6 47.8h0M62.7 30.1h0M55.5 25.0h0M68.2 28.3h0M56.0 2.9h0M51.5 19.5h0M40.8 41.8h0M53.3 18.3h0M26.0 59.9h0M42.2 33.6h0M57.0 18.0h0M26.5 60.4h0M10.3 5.6h0M3.4 12.1h0M64.4 26.0h0M68.7 40.8h0M12.9 14.5h0M25.9 30.9h0M22.8 19.4h0M66.0 31.0h0M65.7 36.8h0M25.6 36.5h0M59.0 25.4h0M46.8 22.8h0M65.6 48.6h0M71.1 57.7h0M26.3 41.1h0M31.6 40.1h0M29.0 42.6h0M25.1 50.4h0M69.3 3.7h0M67.8 21.1h0M14.2 52.7h0M27.3 31.8h0M49.3 54.0h0M72.3 34.1h0M1.3 41.1h0M15.1 50.8h0M42.6 40.8h0M25.9 45.9h0M66.2 50.0h0M35.1 42.0h0" stroke="#f0b25c" stroke-width="2.0" opacity=".7"/>
<path d="M56.4 39.2h0M14.9 29.9h0M18.3 44.8h0M3.1 42.9h0M51.9 44.0h0M71.1 53.5h0M64.8 41.7h0M32.6 23.1h0M37.5 58.0h0M49.8 55.2h0M55.0 46.1h0M30.5 33.6h0M41.3 1.5h0M62.9 41.5h0M67.4 44.3h0M37.7 50.2h0M6.1 5.4h0M36.3 42.2h0M54.0 12.2h0M34.4 52.9h0M57.2 43.3h0M63.0 31.1h0M59.1 30.5h0M61.6 48.7h0M53.9 20.4h0M49.7 27.7h0M52.1 2.0h0M34.5 56.9h0M46.6 1.2h0M38.5 25.1h0M10.7 53.6h0M23.1 53.4h0M70.1 39.9h0M23.2 34.6h0M4.7 49.2h0M57.9 2.1h0M20.4 25.8h0M5.3 54.6h0M62.0 14.1h0M25.8 44.9h0M5.1 27.5h0M33.2 32.5h0M29.0 30.4h0M49.2 11.3h0M69.3 31.4h0M34.5 26.6h0M11.5 22.9h0M40.7 53.1h0M61.7 49.2h0M15.0 31.7h0M64.7 46.1h0M72.7 44.4h0M69.7 45.9h0M36.3 7.4h0M37.9 39.7h0M28.9 19.7h0M24.9 17.3h0M29.6 28.9h0M48.9 34.7h0M28.0 38.5h0M54.7 42.6h0M36.6 6.6h0M14.2 22.2h0M19.1 50.6h0M70.2 1.3h0M23.3 33.7h0M42.7 55.1h0M26.7 43.9h0M19.4 54.0h0M63.2 30.2h0M28.8 41.2h0M21.0 9.7h0M60.2 32.5h0M57.8 31.8h0M30.2 53.2h0M12.9 52.8h0M26.0 43.6h0M50.1 29.6h0M66.5 52.2h0M28.0 41.9h0M6.9 29.9h0M14.7 54.5h0M10.7 26.6h0M26.9 2.3h0M12.6 23.3h0M6.3 0.5h0M3.1 43.2h0M37.7 40.9h0M31.7 17.1h0M50.3 49.4h0M7.7 49.1h0M59.7 27.6h0M8.1 4.8h0M49.2 13.8h0M20.9 28.8h0M70.1 9.0h0M31.2 40.0h0M59.3 39.5h0M49.1 49.9h0M32.2 51.3h0M21.4 24.8h0M2.1 13.8h0M26.7 2.2h0M24.0 22.8h0M14.2 25.0h0M20.8 52.7h0M35.6 40.8h0M8.5 17.8h0M29.8 12.4h0M21.8 32.1h0M9.4 25.3h0M48.5 41.9h0M60.0 55.2h0M63.7 30.9h0M62.8 3.9h0M33.1 52.2h0M20.0 8.9h0M31.8 51.5h0M61.0 52.3h0M53.6 44.1h0M61.7 27.4h0M31.8 48.0h0M8.9 10.5h0M37.8 33.6h0M69.0 33.8h0M40.7 27.9h0M9.6 27.5h0M23.9 44.2h0M63.5 32.4h0M21.5 22.6h0M10.3 57.5h0M49.8 33.7h0M69.1 49.7h0M19.8 44.1h0M48.2 10.8h0M0.8 48.6h0M38.3 42.9h0M21.8 62.6h0M52.4 43.7h0M24.4 51.9h0M7.2 45.4h0M48.6 9.2h0M0.3 25.5h0M18.8 14.6h0M52.3 41.8h0M3.6 40.4h0M35.2 1.0h0M64.7 44.6h0M9.4 36.7h0M-0.2 35.2h0M21.1 42.4h0M51.6 43.6h0M49.7 15.4h0M26.0 29.8h0M50.0 44.9h0M42.2 55.8h0M34.7 50.7h0M29.5 23.8h0M41.8 31.1h0M43.6 30.4h0M18.9 22.1h0M49.0 27.4h0M54.6 6.3h0M6.9 28.8h0M40.7 42.4h0M31.1 52.0h0M57.1 22.8h0M16.7 21.5h0M17.2 25.7h0M13.2 53.6h0M51.7 40.0h0M57.6 50.2h0M46.9 0.3h0M14.2 18.6h0M34.6 26.2h0M31.3 47.9h0M25.9 43.2h0M6.3 34.0h0M57.8 29.0h0M34.6 45.9h0M40.0 44.5h0M37.4 51.2h0M30.6 15.6h0M43.5 24.1h0M71.1 3.2h0M58.6 26.5h0M4.1 19.8h0M24.2 27.7h0M2.4 35.8h0M57.7 34.6h0M20.1 24.1h0M18.2 24.9h0M32.6 47.6h0M25.3 42.2h0M27.5 58.5h0M26.8 40.5h0M54.1 2.6h0M62.5 23.9h0M50.2 29.4h0M35.0 7.0h0M54.4 9.6h0M60.3 0.8h0M25.3 21.3h0M41.4 16.9h0M22.9 52.2h0M34.0 52.5h0M12.8 9.1h0M58.5 54.5h0M46.0 57.5h0M8.7 37.6h0M17.7 15.7h0M64.4 32.1h0M45.7 32.7h0M23.5 13.7h0M63.6 49.0h0M17.1 48.2h0M19.6 41.0h0M8.6 15.3h0M54.3 3.1h0M53.3 1.3h0M19.9 3.6h0M21.6 24.7h0M37.6 12.5h0M62.3 40.9h0M8.4 39.3h0M38.8 43.7h0M31.3 38.9h0M50.6 57.1h0M47.9 44.3h0M50.0 6.8h0M28.1 49.2h0M58.5 56.8h0M25.6 50.8h0M54.4 11.1h0M64.1 50.6h0M59.0 57.7h0M22.4 16.0h0M26.0 44.3h0M53.7 6.4h0M16.8 26.3h0M36.5 41.0h0M5.5 11.3h0M38.8 30.6h0M26.5 4.5h0M59.0 39.5h0M35.7 52.5h0M6.8 40.0h0M35.0 47.7h0M50.2 44.8h0M0.2 34.7h0M26.0 28.1h0M13.0 29.4h0M35.8 36.3h0M57.6 26.6h0M45.9 41.7h0M70.5 56.3h0M49.3 46.9h0M62.4 42.5h0M63.3 18.3h0M33.9 39.7h0M19.3 46.5h0M43.3 59.3h0M14.6 21.3h0M33.2 50.3h0M8.2 34.1h0M25.6 30.7h0M44.1 35.5h0M33.7 42.1h0M51.4 47.3h0M21.1 18.4h0M39.8 53.1h0M54.1 23.4h0M48.7 29.1h0M29.5 11.6h0M10.4 24.3h0M0.4 30.8h0M13.6 57.8h0M9.4 44.2h0M8.3 35.0h0M4.3 22.5h0M18.2 39.7h0M14.4 4.9h0M44.3 17.4h0M58.6 11.4h0M3.3 18.7h0M53.0 5.7h0M36.0 38.6h0M32.5 39.1h0M44.5 57.3h0M58.5 45.4h0M38.4 0.4h0M61.9 29.0h0M54.3 39.0h0M27.9 46.5h0M20.3 49.1h0M59.9 20.8h0M9.6 3.8h0M4.8 49.5h0M12.7 38.7h0M69.5 55.9h0M6.4 30.6h0M71.3 21.7h0M47.0 32.7h0M39.9 40.9h0M10.1 3.3h0M0.6 48.4h0M14.7 15.9h0M46.3 59.3h0M3.3 33.0h0M58.0 26.8h0M0.5 34.7h0M31.7 25.8h0M30.9 45.1h0M50.3 45.2h0M70.0 32.3h0M70.0 44.6h0M56.0 23.1h0M15.3 10.6h0M71.3 41.4h0M47.0 23.1h0M38.7 37.2h0M11.3 54.9h0M39.2 36.7h0M26.9 42.2h0M32.7 7.6h0M0.7 10.0h0M50.8 27.3h0M50.3 42.6h0M9.9 16.1h0M24.4 28.4h0M71.6 57.5h0M53.2 8.5h0M48.1 21.8h0M15.9 47.0h0M45.4 4.5h0M61.2 28.2h0M54.7 50.9h0M28.1 50.8h0M24.9 11.9h0M30.6 53.0h0M61.0 10.6h0M60.1 39.8h0M16.4 49.5h0M19.3 30.5h0M42.0 43.2h0M16.9 35.6h0M31.3 51.5h0M54.6 10.8h0M71.4 23.5h0M47.4 42.2h0M25.8 40.4h0M57.6 36.1h0M11.6 50.9h0M25.7 5.8h0M32.6 49.8h0M61.7 54.2h0M35.3 55.6h0M11.4 15.4h0M10.2 50.7h0M34.6 2.5h0M61.0 30.9h0M36.0 40.6h0M15.3 25.9h0M25.2 46.0h0M41.2 41.1h0M74.1 35.1h0M6.6 25.7h0M46.3 25.2h0M25.6 42.8h0M20.9 28.8h0M57.8 26.4h0M48.8 33.0h0M64.7 28.5h0M61.8 26.9h0M54.2 4.0h0M19.3 26.4h0M64.5 26.1h0M61.2 30.3h0M12.9 24.9h0M50.3 31.9h0M58.2 27.7h0M66.8 21.5h0M31.0 52.8h0M28.9 21.5h0M53.8 11.6h0M34.3 53.1h0M31.3 53.1h0M36.5 51.8h0M3.9 56.4h0M58.1 25.8h0M25.3 54.7h0M3.2 1.7h0M36.1 45.6h0M21.9 0.9h0M67.3 23.4h0M0.8 55.1h0M70.6 40.3h0M45.5 32.0h0M9.1 26.3h0M25.3 21.4h0M42.0 24.1h0M9.7 17.4h0M23.0 11.8h0M65.3 7.7h0M17.3 28.9h0M40.7 38.4h0M66.5 56.9h0M48.7 17.9h0M23.6 0.0h0M23.9 11.3h0M54.0 34.6h0M56.4 38.7h0M50.8 16.3h0M63.0 25.8h0M29.3 40.0h0M48.5 10.4h0M22.0 1.3h0M13.8 20.6h0M29.5 40.8h0M40.7 14.8h0M27.5 1.4h0M29.9 12.1h0M5.2 55.1h0M20.7 32.1h0M28.1 47.4h0M66.6 44.9h0M11.7 41.3h0M58.7 2.6h0M15.7 22.4h0M46.6 11.5h0M53.3 2.9h0M58.5 31.8h0M1.4 44.6h0M31.8 35.3h0M55.0 36.0h0M51.2 49.0h0M51.2 14.3h0M38.1 39.2h0M5.5 53.7h0M24.6 43.2h0M18.6 15.9h0M21.8 56.0h0M0.9 35.2h0M41.9 46.7h0M47.6 14.5h0M64.4 0.2h0M46.8 13.6h0M21.8 45.4h0M35.7 41.6h0M7.9 38.9h0M45.9 3.2h0M11.3 32.8h0M67.2 41.6h0M12.3 18.4h0M24.7 44.2h0M37.6 25.8h0M38.7 41.9h0M2.9 37.1h0M67.3 47.3h0M19.6 15.9h0M35.9 51.9h0M18.2 26.6h0M33.6 51.5h0M4.4 28.8h0M21.0 9.9h0M2.1 0.6h0M24.6 38.0h0M39.5 43.2h0M45.5 58.7h0M40.0 46.4h0M4.1 2.3h0M34.0 36.7h0M58.8 49.3h0M70.1 8.0h0M71.6 13.8h0M46.8 58.8h0M1.5 40.0h0M60.5 15.9h0M26.4 16.5h0M38.6 39.5h0M46.1 32.6h0M24.9 29.1h0M49.4 56.5h0M11.4 51.3h0M14.4 53.4h0M66.1 52.6h0M15.9 52.5h0M34.7 4.0h0M26.5 45.7h0M63.8 4.1h0M30.7 13.9h0M13.6 23.3h0M67.9 17.9h0M44.1 55.0h0M63.1 56.1h0M19.7 36.5h0M40.4 37.5h0M73.4 46.2h0M45.0 19.0h0M6.9 12.1h0M16.5 6.7h0M71.0 54.8h0M51.5 0.5h0M26.5 33.0h0M49.8 49.7h0M68.8 3.6h0M67.7 33.5h0M21.5 37.4h0M35.7 34.9h0M27.3 44.7h0M70.4 54.3h0M7.9 29.5h0M57.0 53.3h0M18.2 23.8h0M58.1 16.3h0M30.3 43.9h0M45.5 40.5h0M30.6 28.6h0M26.8 44.8h0M33.2 37.9h0M49.8 6.7h0M28.6 8.9h0M26.2 41.5h0M48.0 31.7h0M61.2 14.0h0M53.7 36.3h0M34.9 29.9h0M20.6 57.9h0M58.8 31.9h0M13.4 58.1h0M59.4 34.5h0M76.3 44.8h0M0.5 32.8h0M14.8 16.3h0M15.0 20.6h0M58.2 20.3h0M21.5 63.0h0M62.4 42.3h0M13.7 4.5h0M2.9 32.1h0M5.3 52.9h0M17.8 49.2h0M8.9 48.8h0M9.6 37.3h0M16.2 4.6h0M7.2 12.9h0" stroke="#7e665e" stroke-width="0.95" opacity=".8"/>
<path d="M35.5 13.1h0M27.2 41.6h0M18.4 55.6h0M58.0 21.6h0M51.3 31.2h0M19.6 46.0h0M60.6 30.9h0M13.9 3.5h0M34.2 18.3h0M69.0 33.4h0M44.3 3.2h0M51.0 11.8h0M16.5 3.1h0M12.4 33.9h0M70.3 40.0h0M67.3 39.8h0M33.8 31.1h0M14.8 20.9h0M62.5 31.9h0M16.5 12.4h0M70.4 23.5h0M13.5 33.3h0M50.8 24.3h0M49.5 5.0h0M61.9 55.0h0M65.4 52.1h0M26.5 39.5h0M31.5 4.9h0M23.7 7.7h0M-1.5 26.2h0M45.7 37.1h0M18.9 18.3h0M42.9 43.4h0M33.5 50.5h0M33.4 30.3h0M22.8 41.7h0M64.7 45.9h0M33.5 2.4h0M5.4 48.0h0M24.0 15.1h0M53.1 43.2h0M55.5 42.4h0M20.9 58.0h0M41.9 28.5h0M13.2 22.0h0M64.8 58.0h0M19.0 24.7h0M33.2 4.6h0M15.5 29.0h0M37.1 53.7h0M0.7 34.6h0M22.4 21.3h0M69.4 44.0h0M70.9 7.8h0M47.0 27.3h0M35.7 5.3h0M3.2 27.6h0M28.6 42.2h0M38.8 17.0h0M19.6 20.9h0M44.9 22.0h0M60.2 36.7h0M25.3 45.9h0M6.5 8.9h0M45.6 18.7h0M21.0 26.2h0M61.5 16.4h0M15.2 15.6h0M40.6 31.7h0M56.3 14.7h0M48.8 52.2h0M21.8 45.1h0M61.4 52.8h0M19.7 28.0h0M35.5 41.4h0M13.5 6.2h0M20.8 43.9h0M24.3 39.2h0M57.9 45.3h0M71.6 30.4h0M60.5 33.2h0M48.5 8.3h0M18.9 25.4h0M49.4 12.8h0M32.3 48.2h0M46.7 56.0h0M67.0 44.6h0M27.3 13.9h0M58.6 24.8h0M13.2 12.0h0M36.4 53.2h0M20.8 59.8h0M54.3 44.6h0M20.9 2.1h0M19.2 58.2h0M31.2 4.0h0M40.3 38.9h0M0.4 30.4h0M24.7 46.1h0M17.5 33.7h0M67.8 41.3h0M39.8 18.9h0M70.7 22.1h0M39.0 11.7h0M60.7 8.4h0M6.4 9.1h0M67.9 3.5h0M64.9 42.1h0M14.2 8.5h0M71.5 57.9h0M27.9 14.0h0M36.3 42.4h0M29.1 48.8h0M11.3 15.6h0M29.2 43.0h0M31.3 32.4h0M29.6 53.9h0M20.0 33.9h0M22.0 58.1h0M48.4 5.6h0M50.2 7.3h0M41.5 33.3h0M9.5 2.4h0M23.0 19.9h0M32.3 27.7h0M54.8 8.4h0M22.9 18.5h0M34.0 48.6h0M41.8 42.1h0M3.3 17.9h0M24.3 9.2h0M32.5 9.6h0M24.4 25.1h0M44.9 21.2h0M64.7 30.4h0M23.3 44.3h0M26.0 42.5h0M20.2 10.4h0M21.8 29.4h0M26.6 30.5h0M68.0 31.6h0M58.1 23.6h0M68.8 28.6h0M44.1 19.5h0M30.9 8.8h0M15.0 41.3h0M12.2 44.3h0M25.0 53.7h0M15.9 50.1h0M27.1 43.2h0M13.2 19.6h0M50.9 7.2h0M9.5 12.1h0M9.3 58.2h0M0.6 36.7h0M42.3 55.7h0M20.7 14.0h0M10.9 2.0h0M70.3 48.6h0M35.6 37.7h0M38.8 1.6h0M60.0 26.1h0M23.3 41.9h0M63.8 50.5h0M12.7 12.1h0M54.2 10.1h0M33.5 41.8h0M70.4 29.3h0M35.9 7.7h0M31.3 30.6h0M55.7 54.6h0M54.1 10.8h0M60.2 24.9h0M25.4 38.2h0M51.0 25.6h0M43.2 15.8h0M16.8 53.7h0M30.3 44.0h0M6.3 48.1h0M48.6 44.5h0M37.7 53.6h0M67.1 34.7h0M32.2 32.2h0M45.8 31.4h0M2.8 48.3h0M48.2 51.7h0M20.9 21.1h0M8.0 10.0h0M31.9 52.2h0M15.2 11.2h0M18.0 19.5h0M67.2 34.6h0M60.0 54.3h0M1.8 47.2h0M51.4 42.6h0M15.0 54.6h0M17.3 31.2h0M8.9 14.9h0M27.9 42.6h0M69.8 44.0h0M7.5 51.6h0M49.7 36.3h0M39.0 12.3h0M6.6 59.2h0M0.5 55.6h0M27.4 45.5h0M59.6 29.9h0M71.1 21.5h0M7.7 4.0h0M30.2 40.1h0M26.2 33.8h0M0.6 58.4h0M9.1 2.2h0M47.1 52.9h0M15.4 51.7h0M58.7 34.7h0M70.9 39.9h0M46.3 53.5h0M65.7 6.4h0M66.9 4.8h0M51.7 24.2h0M49.9 2.2h0M10.1 28.4h0M20.5 57.8h0M27.8 36.3h0M30.5 42.9h0M1.0 36.5h0M42.5 35.0h0M24.1 44.8h0M18.3 53.1h0M22.7 56.5h0M61.2 9.5h0M70.7 28.2h0M26.6 16.7h0M67.1 41.4h0M59.8 1.3h0M17.8 39.9h0M58.1 11.2h0M15.6 59.2h0M66.5 4.8h0M41.6 56.8h0M52.8 42.1h0M22.9 44.8h0M58.7 15.4h0M2.7 45.5h0M20.5 50.4h0M21.6 15.9h0M27.3 31.3h0M12.0 16.6h0M3.6 42.9h0M47.2 18.7h0M66.6 32.7h0M43.4 54.5h0M48.0 28.6h0M35.7 40.2h0M19.5 30.4h0M67.6 49.0h0M23.4 17.5h0M66.2 30.8h0M16.3 36.3h0M33.7 40.1h0M29.4 35.5h0M4.1 52.9h0M46.7 41.2h0M52.8 -1.0h0M24.8 7.6h0M66.2 39.8h0M33.5 37.9h0M62.9 24.8h0M41.2 46.0h0M10.7 11.0h0M25.1 17.4h0M62.0 33.2h0" stroke="#7c6260" stroke-width="1.45" opacity=".75"/>
<path d="M56.7 24.7h0M13.1 56.9h0M32.9 40.1h0M54.2 37.7h0M61.3 41.7h0M54.9 36.8h0M19.1 27.3h0M68.3 21.6h0M44.1 57.2h0M18.3 15.3h0M54.2 23.2h0M16.5 29.0h0M1.7 47.3h0M5.9 46.6h0M43.2 12.1h0M69.6 24.8h0M10.6 38.2h0M11.2 17.6h0M1.5 46.4h0M31.6 40.3h0M64.2 28.7h0M17.5 23.1h0M35.3 40.9h0M5.5 20.8h0M48.5 31.6h0M22.7 31.1h0M19.3 10.7h0M5.5 33.7h0M21.0 16.0h0M39.8 37.2h0M30.8 28.1h0M72.8 27.7h0M43.9 8.6h0M27.1 37.9h0M73.6 29.7h0M27.9 14.9h0M1.6 45.6h0M8.9 14.3h0M22.4 51.9h0M56.4 21.9h0M22.1 17.8h0M71.2 45.8h0M66.8 45.2h0M35.6 37.7h0M69.3 10.0h0M28.2 44.3h0M13.1 55.4h0M49.1 3.8h0M42.0 44.4h0M30.9 41.2h0M20.3 13.7h0M8.9 14.7h0M58.4 34.8h0M4.8 47.8h0M5.5 13.9h0M49.8 42.8h0M61.3 28.5h0M3.8 32.2h0M37.6 39.5h0M63.2 28.1h0M66.4 40.5h0M21.9 17.4h0M56.2 23.0h0M4.1 10.3h0M48.9 2.1h0M31.3 33.2h0M31.7 50.2h0M12.8 17.9h0M19.1 52.5h0M70.2 45.8h0M25.4 42.5h0M31.6 52.8h0M68.2 27.6h0M58.6 27.8h0M47.1 7.8h0M60.6 29.7h0M57.4 29.2h0M31.5 50.8h0M32.2 38.3h0M8.7 55.1h0M16.2 32.3h0M16.5 50.9h0M20.8 33.1h0M27.4 0.7h0M71.2 44.8h0M58.2 28.5h0M38.7 8.6h0M20.1 8.0h0M30.3 47.2h0M42.0 60.0h0M62.3 14.5h0M13.4 54.9h0M11.0 16.4h0M12.3 5.9h0M38.5 45.3h0M50.6 21.2h0M63.7 41.9h0M3.0 35.6h0M49.8 8.1h0M68.8 41.5h0M20.0 58.6h0M30.5 47.9h0M25.0 5.1h0M22.8 15.9h0M9.6 29.8h0M35.2 42.3h0M57.9 14.7h0M43.4 56.9h0M26.9 41.0h0M35.8 26.9h0M64.9 33.5h0M21.3 41.5h0M71.4 33.5h0M17.2 59.5h0M30.5 39.3h0M6.9 37.7h0M58.1 26.1h0M2.3 21.1h0M43.6 42.3h0M18.7 11.8h0" stroke="#965034" stroke-width="1.5" opacity=".8"/>
<g filter="url(#bh)" stroke="#d66a40" opacity=".72"><path d="M54.5 36.5l-0.1 1.3M32.0 48.7l-0.3 1.5M20.0 57.1l0.1 0.3M25.1 43.9l-0.9 0.8M11.0 53.8l0.3 0.1M14.1 29.5l-0.9 1.0M31.9 51.1l0.7 1.6M50.3 8.6l0.3 0.6M44.5 15.9l0.7 0.9M50.1 51.5l0.8 0.4M13.1 49.9l-1.3 0.6M11.1 53.8l-0.6 1.4M52.2 9.5l0.4 0.3M71.2 37.0l1.0 0.7M65.9 27.8l0.2 0.3M42.7 60.9l-0.5 0.6M26.3 18.1l-0.5 0.5M48.3 23.1l-0.3 1.1M61.5 33.4l-0.8 1.0M70.9 42.8l0.2 0.2M16.6 26.1l-0.4 0.5M58.1 35.5l-0.7 1.0" stroke-width="2.4"/><path d="M66.1 21.9l-1.6 0.6M8.9 36.3l-0.5 1.7M22.1 27.6l-1.7 0.7M12.5 26.9l0.4 0.5M22.1 31.5l0.6 0.9" stroke-width="3.3"/></g>
<path d="M54.5 36.5l-0.1 1.3M32.0 48.7l-0.3 1.5M20.0 57.1l0.1 0.3M25.1 43.9l-0.9 0.8M11.0 53.8l0.3 0.1M14.1 29.5l-0.9 1.0M31.9 51.1l0.7 1.6M50.3 8.6l0.3 0.6M44.5 15.9l0.7 0.9M50.1 51.5l0.8 0.4M13.1 49.9l-1.3 0.6M11.1 53.8l-0.6 1.4M52.2 9.5l0.4 0.3M71.2 37.0l1.0 0.7M65.9 27.8l0.2 0.3M42.7 60.9l-0.5 0.6M26.3 18.1l-0.5 0.5M48.3 23.1l-0.3 1.1M61.5 33.4l-0.8 1.0M70.9 42.8l0.2 0.2M16.6 26.1l-0.4 0.5M58.1 35.5l-0.7 1.0" stroke="#62281c" stroke-width="1.25"/>
<path d="M66.1 21.9l-1.6 0.6M8.9 36.3l-0.5 1.7M22.1 27.6l-1.7 0.7M12.5 26.9l0.4 0.5M22.1 31.5l0.6 0.9" stroke="#5a2014" stroke-width="1.9"/>
</g></svg>
<svg x="205.3" y="171.2" width="72.2" height="58.6" viewBox="0 0 72.2 58.6"><g filter="url(#tb)" fill="none" stroke-linecap="round">
<rect x="-3" y="-3" width="78.2" height="64.6" fill="#fde690"/>
<rect x="-3" y="-3" width="78.2" height="64.6" filter="url(#o2)" opacity="0.42"/>
<path d="M3.4 17.6h0M65.7 38.0h0M61.9 39.1h0M63.4 10.4h0M31.4 56.2h0M27.9 44.9h0M12.3 5.7h0M26.6 34.5h0M44.4 19.8h0M11.0 29.5h0M31.4 33.2h0M58.0 4.2h0M44.8 44.4h0M14.2 56.1h0M41.0 41.0h0M20.1 52.6h0M33.0 0.5h0M60.5 8.5h0M21.6 4.7h0M25.4 33.8h0M32.0 52.6h0M18.4 47.4h0M33.6 41.3h0M43.6 42.3h0M60.5 29.5h0M15.6 2.8h0M41.0 48.8h0M3.7 44.8h0M26.0 52.4h0M54.1 35.8h0M28.1 45.5h0M66.0 22.6h0M61.0 57.9h0M7.6 0.5h0M23.9 1.9h0M38.6 56.3h0M33.8 45.7h0M37.3 18.6h0M61.4 41.7h0M11.8 42.7h0M52.2 26.9h0M31.6 56.9h0M59.8 50.7h0M29.2 45.4h0M11.7 50.9h0M28.9 51.1h0M47.2 56.7h0M49.4 42.3h0M27.2 46.0h0M66.1 33.4h0M61.0 6.4h0M19.3 31.3h0M44.3 29.7h0M6.4 24.5h0M53.7 26.6h0M33.3 22.7h0M29.0 45.6h0M22.6 0.6h0M34.6 20.2h0M20.9 10.5h0M31.6 35.9h0M5.4 -0.6h0M42.9 1.3h0M9.8 -0.3h0M51.2 43.9h0M30.2 32.5h0M12.9 39.9h0M17.9 2.9h0M36.9 35.8h0M24.1 47.3h0M17.7 13.6h0M30.9 53.8h0M35.7 43.8h0M31.3 0.4h0M7.8 30.0h0M17.7 36.1h0M15.1 49.9h0M67.0 57.4h0M63.4 26.4h0M3.6 13.8h0M52.3 31.6h0M46.8 43.6h0M9.1 7.0h0M55.2 39.3h0M27.6 1.6h0M11.0 43.4h0M73.3 19.0h0M21.0 23.7h0M37.2 46.1h0M70.9 21.6h0M37.7 42.7h0M32.1 15.7h0M28.4 -0.5h0M-0.9 28.2h0M57.0 44.9h0M34.4 4.2h0M35.9 27.4h0M35.4 12.6h0M34.7 2.5h0M31.0 51.4h0M64.4 34.2h0M16.5 41.3h0M13.3 1.0h0M36.3 36.3h0M30.5 49.1h0M60.9 0.6h0M67.1 9.0h0M5.0 18.9h0M20.5 43.2h0M0.3 28.0h0M32.2 58.6h0M22.6 56.6h0M17.0 21.5h0M27.3 39.9h0M12.3 56.9h0M16.8 33.3h0M49.1 30.1h0M35.6 35.3h0M25.8 29.9h0M5.8 59.2h0M65.6 12.3h0M24.6 3.0h0M38.0 54.6h0M38.5 36.7h0M69.6 46.6h0M37.5 18.1h0M11.9 16.9h0M18.9 49.6h0M33.2 37.7h0M9.9 20.9h0M11.4 6.4h0M71.0 47.7h0M31.1 49.4h0M26.3 33.4h0M51.8 18.8h0M6.1 50.1h0M68.4 22.4h0M68.3 11.1h0M19.0 8.6h0M58.1 9.7h0M54.3 24.9h0M58.9 6.4h0M12.4 2.6h0M65.6 6.5h0M61.6 28.3h0M35.6 12.9h0M69.3 16.3h0M16.9 13.2h0M18.3 14.6h0M43.3 7.7h0M60.8 1.6h0M47.8 25.9h0M12.3 14.9h0M23.8 2.1h0M19.5 35.8h0M41.4 12.4h0M61.0 51.8h0M35.1 50.9h0M30.1 59.6h0M17.0 32.2h0M11.5 0.0h0M55.9 1.3h0M54.1 7.0h0M22.6 18.5h0M14.1 17.8h0M34.6 37.3h0M22.3 28.3h0M9.8 32.2h0M44.1 10.0h0M47.0 19.8h0M27.4 36.4h0M15.4 1.6h0M53.9 48.7h0M3.0 33.8h0M15.6 50.6h0M1.9 19.4h0M21.1 7.0h0M30.9 33.6h0M25.3 60.6h0M42.1 30.7h0M32.6 49.2h0M36.1 33.5h0M24.1 5.8h0M18.6 29.6h0M48.1 27.3h0M3.5 12.5h0M17.2 29.2h0M62.5 46.4h0M21.5 10.5h0M69.7 17.1h0M35.4 45.7h0M40.1 26.8h0M44.2 15.7h0M41.1 4.6h0M54.7 21.4h0M29.3 33.0h0M29.9 35.9h0M20.6 56.2h0M44.9 29.4h0M33.4 50.6h0M25.0 55.1h0M7.4 4.8h0M41.9 17.6h0M15.4 49.1h0M16.2 20.2h0M17.7 23.2h0M67.2 18.0h0M56.2 48.8h0M63.8 38.7h0M51.5 54.7h0M26.8 46.5h0M56.4 40.4h0M6.4 3.3h0M28.8 12.5h0M2.1 26.3h0M29.7 4.4h0M33.8 38.2h0M13.3 14.5h0M5.8 60.3h0M14.2 16.2h0M32.6 51.1h0M27.1 40.1h0M62.9 51.7h0M51.6 4.7h0M29.7 38.9h0M26.1 58.7h0M28.6 31.1h0M68.5 26.0h0M19.0 56.8h0M34.0 32.0h0M55.3 19.9h0M9.0 58.5h0M43.1 43.0h0M21.3 18.1h0M65.0 33.7h0M48.0 26.3h0M43.8 58.2h0M64.0 2.2h0M55.0 0.5h0M63.4 23.1h0M27.5 31.4h0M6.7 2.5h0M34.0 30.3h0M52.2 2.5h0M27.6 11.5h0M8.6 26.5h0M7.3 59.5h0M23.1 11.1h0M35.6 24.7h0M52.9 46.9h0M22.3 14.3h0M53.3 15.7h0M8.7 13.6h0M13.5 31.6h0M35.1 22.7h0M24.2 54.3h0M63.9 29.3h0M33.4 56.0h0M11.2 31.6h0M8.1 56.9h0M34.1 35.3h0M0.8 28.2h0M10.8 31.4h0M68.3 33.3h0M32.3 29.7h0M50.1 1.9h0M0.9 49.0h0M62.8 39.2h0M19.5 20.3h0M22.7 53.4h0" stroke="#f0b25c" stroke-width="2.0" opacity=".7"/>
<path d="M61.2 23.7h0M47.0 33.7h0M0.2 8.4h0M67.1 45.3h0M62.8 25.9h0M62.9 17.7h0M46.3 7.4h0M20.9 9.9h0M2.5 51.2h0M22.5 52.8h0M71.3 2.6h0M8.1 -2.5h0M60.4 10.0h0M53.4 52.7h0M45.1 36.0h0M50.4 53.9h0M41.2 54.5h0M25.0 31.0h0M14.8 51.7h0M36.2 20.1h0M29.8 14.7h0M18.8 12.1h0M30.5 49.4h0M18.4 36.2h0M17.6 51.5h0M24.0 1.2h0M36.0 48.6h0M29.9 28.4h0M13.2 35.6h0M24.0 30.1h0M51.5 54.7h0M29.4 55.9h0M30.1 40.0h0M40.3 49.8h0M44.2 19.8h0M59.2 58.3h0M13.9 2.9h0M28.2 27.7h0M15.8 50.4h0M41.3 43.9h0M0.4 24.8h0M23.8 32.9h0M48.3 2.3h0M54.8 55.0h0M41.8 9.1h0M25.6 58.0h0M28.0 62.0h0M40.0 6.1h0M51.1 26.4h0M12.2 24.8h0M49.9 34.9h0M37.2 52.0h0M22.5 43.2h0M59.4 21.8h0M21.9 21.2h0M16.2 49.0h0M30.7 57.1h0M69.3 57.4h0M57.4 3.1h0M60.6 10.0h0M20.4 33.7h0M31.6 16.3h0M6.0 1.9h0M65.5 48.5h0M28.2 29.9h0M56.3 23.3h0M1.1 1.0h0M23.3 31.1h0M27.2 52.6h0M24.5 34.3h0M8.4 20.7h0M42.9 23.4h0M34.0 49.5h0M35.2 48.3h0M-1.7 30.1h0M39.1 5.0h0M13.4 47.3h0M58.6 28.6h0M63.8 36.7h0M41.1 4.9h0M61.9 26.8h0M19.0 34.6h0M26.9 41.3h0M0.5 31.1h0M53.4 22.2h0M14.4 49.4h0M4.1 35.5h0M23.6 43.0h0M67.4 8.9h0M31.6 12.6h0M70.3 50.6h0M3.5 57.8h0M15.3 21.4h0M1.2 4.3h0M44.7 3.0h0M70.6 6.5h0M17.9 35.4h0M16.0 11.5h0M62.8 24.1h0M50.4 22.0h0M60.8 19.9h0M25.8 12.7h0M57.6 12.9h0M11.4 45.2h0M28.3 18.3h0M32.7 35.6h0M1.6 0.4h0M23.1 0.3h0M42.5 28.2h0M15.4 12.9h0M10.8 29.7h0M5.0 1.5h0M30.5 2.5h0M22.1 8.5h0M13.5 6.1h0M64.5 33.1h0M22.1 26.8h0M22.4 57.2h0M30.7 54.8h0M18.8 32.1h0M70.3 0.2h0M1.7 28.8h0M54.4 26.7h0M19.6 52.3h0M60.8 27.8h0M40.8 5.3h0M6.2 29.1h0M7.4 8.7h0M61.6 50.1h0M31.9 33.3h0M70.0 17.5h0M17.2 22.4h0M15.7 11.9h0M7.9 12.4h0M16.7 48.1h0M11.0 4.0h0M12.3 55.3h0M55.1 5.8h0M22.8 14.3h0M24.1 1.8h0M58.9 27.8h0M3.2 2.4h0M33.9 51.3h0M28.8 34.9h0M54.8 33.0h0M39.5 -2.5h0M52.6 53.5h0M71.1 29.9h0M43.9 32.9h0M35.7 24.4h0M27.5 36.4h0M21.2 7.7h0M53.4 22.3h0M16.8 11.8h0M10.9 5.5h0M6.4 27.1h0M45.9 30.7h0M66.7 15.8h0M43.3 13.0h0M15.9 40.0h0M15.4 21.0h0M8.0 6.9h0M3.7 37.2h0M20.2 35.3h0M25.1 57.6h0M12.5 -0.6h0M25.5 19.4h0M61.7 49.7h0M32.6 52.0h0M41.9 23.9h0M67.9 52.5h0M52.2 56.0h0M61.0 2.9h0M57.5 28.6h0M54.3 46.6h0M3.5 26.5h0M61.5 24.6h0M1.0 3.6h0M43.0 13.0h0M61.5 2.9h0M14.1 9.2h0M10.0 32.5h0M51.8 49.1h0M12.4 16.7h0M22.7 57.8h0M35.2 35.8h0M5.3 20.2h0M67.1 17.5h0M29.1 56.9h0M14.0 3.4h0M70.2 2.1h0M26.6 46.0h0M55.1 46.5h0M58.9 23.3h0M54.8 2.8h0M21.7 41.7h0M61.6 48.3h0M23.4 56.6h0M33.4 53.6h0M47.7 58.5h0M50.8 33.4h0M0.3 30.1h0M22.5 15.3h0M34.4 27.5h0M70.7 1.6h0M6.7 33.4h0M55.2 42.1h0M59.9 26.2h0M44.9 3.3h0M68.9 22.2h0M42.6 25.5h0M69.6 15.9h0M9.0 0.8h0M12.4 54.4h0M43.9 27.3h0M30.6 55.2h0M49.5 3.8h0M33.2 7.8h0M27.5 15.5h0M8.4 59.9h0M50.7 55.0h0M43.1 11.2h0M14.8 7.2h0M13.0 19.8h0M45.1 21.0h0M8.1 0.8h0M15.6 47.2h0M36.2 19.1h0M0.0 14.9h0M7.1 -0.9h0M53.0 26.9h0M44.6 14.4h0M42.2 49.6h0M31.0 37.3h0M41.9 31.0h0M15.3 15.8h0M13.1 27.0h0M22.7 45.1h0M34.5 20.4h0M13.9 27.2h0M56.7 1.9h0M59.3 11.7h0M38.7 15.5h0M10.9 57.0h0M51.9 35.0h0M17.7 33.4h0M19.8 29.5h0M69.1 33.3h0M33.4 0.1h0M28.4 35.2h0M66.8 14.5h0M13.6 32.5h0M1.5 18.0h0M11.2 44.0h0M52.0 7.7h0M67.5 2.2h0M70.4 49.9h0M1.2 16.8h0M30.6 30.9h0M54.0 2.8h0M10.5 4.7h0M21.3 54.3h0M9.6 3.9h0M8.5 58.7h0M40.6 16.7h0M27.9 49.3h0M31.5 43.9h0M19.9 11.3h0M4.1 42.6h0M56.1 10.8h0M1.3 24.9h0M5.8 34.1h0M36.8 20.7h0M63.7 34.2h0M0.5 21.5h0M3.6 30.0h0M8.0 8.5h0M-1.6 37.4h0M19.9 10.9h0M12.6 25.1h0M65.7 43.1h0M35.0 22.0h0M31.0 8.9h0M26.3 33.2h0M10.2 21.2h0M48.3 16.2h0M55.0 53.3h0M12.0 31.9h0M32.5 53.6h0M43.0 55.1h0M34.0 55.3h0M45.3 45.4h0M53.3 45.6h0M25.9 57.6h0M17.1 6.8h0M10.2 56.9h0M64.6 54.0h0M63.3 15.8h0M30.8 32.0h0M44.2 43.3h0M51.1 45.8h0M70.7 43.7h0M1.2 32.1h0M60.9 16.7h0M2.0 32.0h0M13.6 31.4h0M25.0 2.6h0M26.2 2.6h0M63.3 30.3h0M52.0 32.1h0M36.2 35.4h0M34.9 16.5h0M10.9 0.8h0M29.1 57.2h0M50.9 43.0h0M54.7 29.7h0M-2.0 31.9h0M58.2 9.8h0M35.9 26.6h0M5.3 30.6h0M27.1 34.3h0M4.8 40.3h0M66.9 21.3h0M17.4 44.4h0M12.5 14.2h0M14.2 47.2h0M55.9 4.3h0M3.6 54.7h0M62.0 26.5h0M0.6 48.4h0M35.7 38.6h0M70.9 17.1h0M42.2 12.4h0M40.0 44.9h0M31.4 49.7h0M30.2 46.2h0M7.8 -0.4h0M49.5 34.3h0M9.0 46.5h0M51.1 29.0h0M42.9 19.4h0M30.1 17.1h0M15.5 12.8h0M70.1 15.0h0M8.3 59.0h0M14.8 13.6h0M24.2 6.4h0M5.4 56.4h0M32.1 16.1h0M46.8 14.4h0M3.7 5.4h0M11.8 47.0h0M44.2 13.0h0M53.2 29.0h0M63.7 37.4h0M37.4 36.4h0M29.4 32.5h0M68.4 33.1h0M31.2 39.0h0M35.1 16.3h0M37.5 33.5h0M55.9 20.5h0M37.7 3.1h0M42.1 29.7h0M22.2 0.1h0M8.6 55.7h0M17.1 38.3h0M9.8 36.6h0M50.9 55.3h0M56.1 7.0h0M5.6 52.3h0M25.6 12.1h0M12.0 7.4h0M53.2 31.8h0M40.7 13.8h0M56.2 6.0h0M34.5 45.3h0M27.3 32.0h0M67.9 17.4h0M15.7 47.2h0M54.8 23.9h0M24.7 22.9h0M58.8 30.0h0M46.0 40.5h0M25.1 9.4h0M63.8 36.6h0M58.5 6.2h0M36.1 44.7h0M47.9 57.8h0M23.2 11.4h0M3.1 37.6h0M55.5 19.7h0M31.5 25.5h0M44.2 40.9h0M14.1 13.1h0M11.7 38.1h0M11.9 51.7h0M62.8 32.7h0M22.5 23.9h0M17.4 57.2h0M67.5 49.8h0M1.7 56.1h0M47.9 19.8h0M19.0 54.5h0M65.4 20.9h0M24.9 16.8h0M38.2 27.7h0M9.5 48.2h0M56.6 51.7h0M3.4 36.7h0M58.0 17.8h0M69.9 50.4h0M2.4 6.6h0M69.8 17.7h0M14.5 53.2h0M68.9 26.6h0M40.6 21.7h0M17.8 54.3h0M3.3 -1.7h0M26.3 57.4h0M16.5 11.8h0M5.0 34.3h0M22.8 -0.2h0M53.8 25.9h0M39.6 14.4h0M30.3 38.4h0M18.3 37.9h0M23.9 44.3h0M49.0 8.8h0M18.0 28.2h0M33.5 50.6h0M57.1 15.4h0M29.5 30.0h0M29.3 30.8h0M61.9 23.0h0M42.2 48.1h0M54.7 52.1h0M15.0 58.3h0M31.6 55.4h0M53.9 15.6h0M51.3 2.6h0M16.0 41.7h0M69.3 17.1h0M22.0 2.0h0M55.0 9.8h0M12.6 57.1h0M18.4 34.8h0M18.7 14.3h0M24.6 -0.6h0M49.3 48.8h0M32.8 31.2h0M35.4 19.3h0M59.3 26.1h0M50.0 15.7h0M58.9 11.1h0M16.4 11.6h0M61.7 13.0h0M50.5 52.4h0M14.4 33.1h0M22.5 17.1h0M49.7 41.5h0M35.9 49.8h0M10.0 8.4h0M2.6 29.0h0M37.9 58.4h0M66.7 55.4h0M52.0 6.9h0M39.9 6.6h0M61.1 50.1h0M30.6 33.5h0M36.7 34.0h0M20.3 29.6h0M27.4 52.6h0M28.3 15.8h0M26.0 56.0h0M63.8 39.2h0M-0.5 30.1h0M43.0 4.9h0M49.5 40.6h0M10.2 1.4h0M8.1 46.9h0M50.1 33.1h0M1.5 48.9h0M55.0 29.4h0M70.8 6.8h0M42.7 2.5h0M33.0 50.4h0M15.9 21.3h0M37.3 31.5h0M14.6 49.3h0M1.4 9.3h0M54.7 54.7h0M4.2 19.6h0M40.4 13.6h0M34.0 34.5h0M28.4 43.6h0M11.2 29.5h0M36.1 43.4h0M40.8 21.0h0M53.1 25.2h0M39.0 58.2h0M44.1 19.0h0M64.1 40.0h0M8.0 12.6h0M18.0 57.4h0M30.1 35.3h0M35.9 1.5h0M3.3 5.6h0M22.8 -0.4h0M6.9 9.0h0M63.0 34.1h0M64.9 36.2h0M66.6 6.8h0M34.9 -0.8h0M66.4 18.2h0M10.1 4.7h0M2.6 40.0h0M6.4 56.0h0M51.3 62.4h0M28.8 20.5h0M41.7 44.5h0M26.4 5.7h0M39.7 20.5h0M37.6 31.6h0M12.6 41.9h0M31.3 51.8h0M30.9 23.6h0M56.2 14.1h0M61.3 26.4h0M12.2 48.9h0M31.1 30.3h0M2.1 2.6h0M67.9 23.8h0M60.2 10.4h0M27.5 17.1h0M10.7 8.8h0M59.0 21.1h0M30.7 53.7h0M54.6 42.9h0M21.9 55.4h0M55.2 49.2h0M9.9 54.0h0M23.0 11.7h0M18.5 14.3h0M14.0 51.2h0M25.9 19.1h0" stroke="#7e665e" stroke-width="0.95" opacity=".8"/>
<path d="M62.2 3.2h0M34.1 56.2h0M33.1 16.2h0M47.9 56.6h0M35.7 40.5h0M65.0 49.0h0M51.9 53.7h0M23.8 47.1h0M14.9 49.0h0M16.3 51.1h0M56.7 20.5h0M23.7 33.5h0M15.1 39.6h0M14.1 19.2h0M29.4 37.7h0M20.4 9.5h0M0.8 22.6h0M37.0 40.8h0M43.0 8.1h0M19.1 42.1h0M5.9 46.8h0M11.2 58.7h0M37.9 12.8h0M16.1 24.9h0M11.1 42.3h0M7.1 1.4h0M5.6 56.0h0M22.5 42.3h0M9.5 3.6h0M29.7 22.4h0M48.0 29.4h0M71.1 53.5h0M48.0 51.2h0M30.2 52.3h0M45.0 40.7h0M20.3 9.4h0M36.6 28.9h0M21.5 31.9h0M34.7 45.1h0M29.4 34.3h0M24.6 45.1h0M30.2 3.3h0M63.3 48.6h0M49.2 44.9h0M64.1 44.5h0M44.0 35.2h0M34.8 31.9h0M35.0 34.4h0M57.1 20.7h0M28.7 1.2h0M17.2 2.1h0M20.2 39.5h0M5.1 7.1h0M60.2 54.9h0M34.2 34.8h0M24.6 8.9h0M1.5 41.2h0M64.0 26.6h0M3.2 48.9h0M27.0 21.7h0M14.3 -1.3h0M33.0 51.4h0M46.8 8.4h0M39.4 48.4h0M54.2 41.2h0M30.9 33.4h0M52.8 20.0h0M20.3 4.3h0M27.0 11.4h0M64.4 35.0h0M14.6 15.1h0M12.5 4.5h0M64.3 41.9h0M13.4 2.8h0M5.0 26.8h0M32.2 26.2h0M34.0 24.1h0M53.8 -1.3h0M51.6 32.6h0M31.6 27.5h0M69.2 38.9h0M48.3 57.1h0M7.4 55.9h0M48.3 48.9h0M29.7 55.6h0M62.8 39.4h0M38.2 36.4h0M34.6 6.3h0M57.9 27.2h0M72.8 15.0h0M5.3 53.3h0M36.1 0.6h0M37.7 40.3h0M61.0 18.7h0M44.1 36.2h0M41.7 10.1h0M36.8 -1.0h0M2.1 49.2h0M15.4 3.0h0M7.3 39.2h0M55.2 54.9h0M50.6 9.6h0M12.4 24.5h0M61.2 58.5h0M5.1 20.2h0M69.5 18.9h0M20.9 33.3h0M29.4 20.4h0M43.0 19.4h0M13.7 54.1h0M68.0 24.7h0M27.1 49.4h0M32.2 57.3h0M48.8 7.8h0M2.4 5.9h0M58.9 44.8h0M40.8 7.9h0M60.0 17.6h0M12.0 49.8h0M23.7 32.8h0M15.5 22.1h0M70.3 9.6h0M56.4 15.3h0M28.9 5.0h0M25.8 32.8h0M18.5 53.1h0M54.5 34.8h0M14.8 45.0h0M53.2 7.1h0M31.4 43.5h0M19.1 29.9h0M14.2 1.5h0M13.8 34.3h0M26.7 35.2h0M3.9 2.3h0M43.7 37.5h0M8.1 28.6h0M32.0 32.7h0M11.6 25.3h0M50.8 58.4h0M27.3 33.1h0M54.5 26.2h0M69.4 42.0h0M12.6 42.7h0M59.5 4.2h0M34.4 40.6h0M13.1 25.1h0M29.5 32.9h0M29.1 59.3h0M31.9 23.8h0M8.4 56.8h0M49.2 26.5h0M49.1 27.0h0M65.8 21.0h0M6.6 11.5h0M70.6 26.8h0M32.6 37.7h0M29.1 20.9h0M13.0 16.7h0M52.9 29.1h0M31.6 16.3h0M29.6 19.5h0M18.2 18.4h0M44.1 17.8h0M14.5 30.6h0M67.4 47.2h0M56.5 37.4h0M53.3 29.1h0M42.3 9.8h0M23.5 30.2h0M26.0 54.3h0M29.0 34.0h0M30.7 57.2h0M67.8 13.3h0M49.8 14.7h0M56.7 26.5h0M36.8 34.0h0M66.1 18.7h0M33.7 2.4h0M45.3 19.2h0M27.5 57.1h0M33.5 54.8h0M7.2 -1.5h0M45.5 13.8h0M57.6 1.9h0M0.3 32.3h0M8.0 36.6h0M23.6 -1.0h0M0.6 31.6h0M2.4 8.8h0M57.3 -0.5h0M40.8 39.4h0M13.0 16.4h0M24.7 16.8h0M55.1 11.3h0M48.8 43.8h0M5.4 6.5h0M71.5 51.2h0M15.6 44.5h0M0.8 2.0h0M65.4 44.6h0M10.4 62.0h0M25.4 48.6h0M30.0 2.6h0M38.5 7.0h0M4.3 32.6h0M18.5 1.1h0M30.0 22.0h0M57.2 44.0h0M30.2 7.5h0M4.0 0.9h0M33.2 38.5h0M5.9 4.2h0M55.6 21.7h0M61.7 9.5h0M16.5 9.4h0M17.6 21.5h0M32.0 56.6h0M32.8 22.1h0M40.9 38.8h0M7.2 45.7h0M48.2 41.0h0M71.4 15.2h0M16.7 46.7h0M55.5 53.5h0M34.8 35.2h0M36.4 31.7h0M57.8 22.0h0M9.5 52.4h0M4.5 15.8h0M22.4 11.5h0M57.0 4.2h0M37.6 18.2h0M24.7 21.9h0M65.4 36.0h0M7.1 37.3h0M1.2 55.5h0M68.3 13.9h0M31.3 29.9h0M34.2 36.3h0M11.2 5.6h0M0.9 32.3h0M17.5 7.4h0M65.4 34.3h0M34.7 30.4h0M28.5 49.4h0M19.8 50.5h0M55.8 53.5h0M64.4 49.2h0M39.3 1.2h0M9.9 29.3h0M28.3 56.4h0M27.0 33.5h0M27.3 30.2h0M40.7 24.9h0M60.5 5.7h0M1.2 57.6h0M48.9 7.9h0M5.4 3.2h0M64.6 34.7h0M25.1 63.2h0M27.9 32.7h0M41.6 27.5h0M13.8 49.5h0M70.6 16.7h0M61.3 34.7h0M28.9 8.7h0M68.2 42.3h0M6.5 45.2h0M23.2 19.6h0M65.8 39.1h0M0.7 20.5h0M65.6 58.1h0" stroke="#7c6260" stroke-width="1.45" opacity=".75"/>
<path d="M12.1 29.6h0M29.7 45.7h0M23.3 5.6h0M5.0 4.5h0M45.6 48.6h0M30.8 36.4h0M3.2 36.4h0M66.3 35.6h0M12.7 9.5h0M20.3 32.9h0M25.0 32.1h0M54.3 24.1h0M34.1 2.4h0M43.0 44.7h0M25.0 50.8h0M13.5 21.0h0M35.7 21.6h0M51.3 29.3h0M58.9 10.6h0M43.7 2.8h0M55.8 35.8h0M14.5 28.7h0M43.7 14.3h0M70.2 48.0h0M27.6 49.4h0M62.8 30.4h0M-1.8 29.7h0M48.1 55.3h0M6.5 58.3h0M49.1 56.6h0M8.6 0.2h0M14.0 36.7h0M31.1 49.8h0M-0.7 32.2h0M24.1 5.2h0M22.5 6.1h0M14.5 31.5h0M62.8 37.6h0M9.9 56.2h0M42.0 15.2h0M41.7 36.6h0M28.3 52.0h0M58.7 6.9h0M-3.3 28.1h0M27.4 58.0h0M25.0 58.0h0M27.3 14.9h0M32.7 4.0h0M33.6 9.3h0M15.8 52.9h0M13.9 5.9h0M69.5 18.9h0M18.1 53.9h0M27.6 46.4h0M18.0 53.5h0M14.6 8.3h0M-0.9 29.8h0M56.0 28.8h0M7.7 59.4h0M53.2 32.9h0M35.7 36.6h0M16.4 47.3h0M64.0 58.0h0M26.3 12.3h0M31.3 30.1h0M28.4 19.7h0M27.2 32.7h0M53.8 13.6h0M31.2 3.7h0M-0.0 31.2h0M43.8 12.3h0M18.9 22.8h0M68.5 19.2h0M54.8 37.9h0M28.5 50.2h0M59.0 7.6h0M19.7 4.5h0M65.3 9.7h0M7.4 -1.1h0M17.1 29.4h0M5.8 31.7h0M26.9 48.6h0M27.7 20.3h0M22.0 13.3h0M34.0 2.4h0M54.6 53.9h0M31.5 27.3h0M7.0 0.2h0M61.7 4.9h0M41.6 49.9h0M22.3 55.0h0M28.0 52.4h0M27.8 55.5h0M64.2 22.2h0M53.7 22.1h0M16.6 50.8h0M66.4 21.7h0M39.4 21.3h0M51.9 54.0h0M49.0 42.9h0M34.5 46.9h0M17.2 32.4h0M-3.5 30.7h0M43.3 44.0h0M50.7 57.3h0M24.4 58.2h0M32.7 28.4h0M30.4 28.5h0M33.7 19.4h0M61.3 50.6h0M19.6 30.0h0M4.2 40.7h0M20.6 56.5h0M51.0 36.6h0M28.8 56.3h0M51.8 32.2h0M7.2 -0.7h0M44.9 50.1h0M11.4 1.7h0M32.4 55.9h0M66.5 35.5h0M39.5 47.8h0M14.0 26.6h0M15.3 46.6h0M31.6 33.6h0M35.1 29.9h0M66.3 38.0h0M21.8 6.4h0M32.9 57.1h0M42.9 4.7h0M58.1 43.3h0M12.1 5.0h0M33.3 51.5h0M5.1 -1.6h0M56.1 10.7h0M49.0 57.5h0M37.6 47.7h0M24.4 14.4h0M57.1 29.8h0M27.4 32.8h0M44.5 5.6h0M72.0 12.2h0M21.5 26.0h0M20.8 33.6h0M54.5 3.5h0M23.6 12.8h0M47.8 52.7h0M16.1 33.0h0M16.9 31.0h0M57.5 33.3h0M25.9 32.4h0M16.0 26.5h0M53.2 18.9h0M69.9 21.2h0M64.0 1.6h0M54.2 30.5h0M22.5 7.5h0M28.6 43.7h0M14.7 4.0h0M18.0 51.2h0" stroke="#965034" stroke-width="1.5" opacity=".8"/>
<g filter="url(#bh)" stroke="#d66a40" opacity=".72"><path d="M33.4 34.5l-1.0 0.7M45.8 23.0l0.6 1.0M29.1 43.3l-0.9 0.9M62.2 57.1l0.5 1.7M64.3 5.8l0.7 0.9M28.8 54.6l-0.0 0.7M41.9 14.3l-1.6 0.3M44.8 11.4l-0.6 0.2M35.7 53.5l0.4 1.4M11.2 -1.4l0.6 0.8M2.0 29.9l-0.4 0.4M69.6 9.8l-1.3 0.6M52.4 36.8l-0.7 0.4M34.0 17.9l-1.0 1.2M26.4 52.0l-0.7 0.6M59.8 25.0l0.3 0.1M62.3 42.9l-1.1 0.0M55.8 13.3l0.0 0.4M31.2 19.4l-0.3 0.8M59.6 50.0l0.7 0.7M51.0 34.8l-0.5 0.2M17.4 53.1l0.1 0.8M55.4 11.6l-0.3 0.2M35.3 0.4l0.9 0.9M31.4 15.8l-0.4 0.1M0.1 30.3l-0.4 0.3" stroke-width="2.4"/><path d="M44.1 15.2l-0.0 1.2M59.0 15.6l0.8 0.1M14.4 29.2l-1.3 0.9M67.2 18.5l0.2 1.1M29.2 35.5l0.4 1.3M19.1 52.9l0.5 0.6" stroke-width="3.3"/></g>
<path d="M33.4 34.5l-1.0 0.7M45.8 23.0l0.6 1.0M29.1 43.3l-0.9 0.9M62.2 57.1l0.5 1.7M64.3 5.8l0.7 0.9M28.8 54.6l-0.0 0.7M41.9 14.3l-1.6 0.3M44.8 11.4l-0.6 0.2M35.7 53.5l0.4 1.4M11.2 -1.4l0.6 0.8M2.0 29.9l-0.4 0.4M69.6 9.8l-1.3 0.6M52.4 36.8l-0.7 0.4M34.0 17.9l-1.0 1.2M26.4 52.0l-0.7 0.6M59.8 25.0l0.3 0.1M62.3 42.9l-1.1 0.0M55.8 13.3l0.0 0.4M31.2 19.4l-0.3 0.8M59.6 50.0l0.7 0.7M51.0 34.8l-0.5 0.2M17.4 53.1l0.1 0.8M55.4 11.6l-0.3 0.2M35.3 0.4l0.9 0.9M31.4 15.8l-0.4 0.1M0.1 30.3l-0.4 0.3" stroke="#62281c" stroke-width="1.25"/>
<path d="M44.1 15.2l-0.0 1.2M59.0 15.6l0.8 0.1M14.4 29.2l-1.3 0.9M67.2 18.5l0.2 1.1M29.2 35.5l0.4 1.3M19.1 52.9l0.5 0.6" stroke="#5a2014" stroke-width="1.9"/>
</g></svg>
<svg x="282.8" y="171.2" width="72.2" height="58.6" viewBox="0 0 72.2 58.6"><g filter="url(#tb)" fill="none" stroke-linecap="round">
<rect x="-3" y="-3" width="78.2" height="64.6" fill="#fde48c"/>
<rect x="-3" y="-3" width="78.2" height="64.6" filter="url(#o3)" opacity="0.42"/>
<path d="M63.8 17.1h0M45.2 6.7h0M2.4 10.6h0M27.9 51.3h0M61.7 17.9h0M63.7 13.4h0M28.9 11.7h0M5.1 17.6h0M65.2 34.2h0M56.2 12.1h0M13.5 39.6h0M8.4 26.1h0M2.8 52.0h0M36.5 51.1h0M2.2 39.8h0M25.0 13.5h0M28.7 21.6h0M67.1 9.2h0M26.0 14.4h0M55.4 7.9h0M37.5 1.0h0M53.0 3.0h0M43.1 58.2h0M55.7 22.8h0M44.6 9.9h0M72.7 25.8h0M44.6 33.0h0M49.1 37.4h0M17.2 4.3h0M14.4 11.5h0M28.9 10.4h0M43.5 10.6h0M7.5 5.5h0M3.1 27.8h0M66.6 52.6h0M-0.1 14.3h0M52.8 16.5h0M54.2 41.9h0M62.2 52.3h0M76.2 19.3h0M40.3 50.1h0M36.5 2.4h0M45.8 46.6h0M55.0 14.7h0M20.0 13.0h0M2.6 2.4h0M35.3 32.0h0M38.5 13.3h0M58.0 13.2h0M50.2 4.8h0M38.5 0.6h0M34.2 31.3h0M4.6 16.0h0M17.4 45.1h0M24.3 18.3h0M5.6 7.4h0M53.1 16.0h0M54.3 13.7h0M50.1 17.9h0M48.4 16.3h0M68.5 27.2h0M32.4 49.9h0M50.5 41.1h0M43.7 54.9h0M66.4 31.4h0M68.6 16.3h0M56.2 1.7h0M43.8 12.9h0M44.4 29.3h0M68.8 11.6h0M5.3 13.2h0M30.4 15.9h0M65.2 54.7h0M14.7 42.1h0M68.8 1.7h0M70.4 20.0h0M27.6 14.0h0M52.6 17.5h0M53.0 19.2h0M44.3 35.4h0M41.8 1.6h0M38.9 54.9h0M65.4 21.3h0M33.4 54.2h0M51.8 26.1h0M64.1 9.2h0M68.4 7.4h0M33.1 -0.1h0M12.1 7.0h0M5.4 46.7h0M50.3 43.5h0M61.1 26.6h0M64.0 45.0h0M68.0 51.0h0M37.4 50.2h0M67.0 31.8h0M46.0 18.3h0M13.1 53.3h0M37.7 5.6h0M72.3 23.9h0M38.7 36.1h0M38.7 45.4h0M41.1 4.8h0M47.7 13.9h0M28.4 37.7h0M56.7 12.6h0M6.2 7.9h0M51.6 24.4h0M28.3 56.7h0M38.6 52.0h0M23.9 52.5h0M20.3 21.1h0M18.5 20.6h0M4.3 3.9h0M61.9 4.0h0M44.2 7.0h0M-1.4 10.6h0M6.8 33.1h0M20.4 38.1h0M66.5 13.7h0M60.8 9.7h0M68.0 22.1h0M63.0 36.5h0M60.0 25.2h0M56.5 41.4h0M5.3 13.5h0M26.7 12.0h0M55.1 20.9h0M40.8 43.2h0M24.7 14.5h0M55.5 6.7h0M33.0 5.2h0M53.8 56.6h0M71.4 23.4h0M66.3 44.7h0M31.0 55.8h0M27.7 18.1h0M35.9 25.7h0M51.1 -2.0h0M61.5 28.7h0M4.3 9.8h0M37.9 57.9h0M70.2 57.7h0M69.2 13.1h0M32.0 49.2h0M8.0 47.7h0M70.5 35.8h0M63.5 6.9h0M14.0 38.7h0M23.0 21.9h0M50.2 55.3h0M3.8 15.9h0M49.4 4.8h0M67.0 48.6h0M57.8 10.7h0M42.7 33.1h0M36.1 40.4h0M45.0 54.3h0M65.3 40.2h0M6.1 19.7h0M22.9 32.8h0M61.3 8.0h0M22.6 14.3h0M52.5 12.7h0M49.5 4.3h0M45.2 25.5h0M53.0 16.3h0M35.3 0.3h0M11.9 23.3h0M54.7 13.0h0M19.5 3.3h0M23.6 34.6h0M22.4 19.0h0M44.1 30.4h0M36.5 44.4h0M45.7 53.3h0M26.5 39.3h0M17.4 9.1h0M37.1 48.6h0M39.1 34.9h0M46.7 52.5h0M62.7 2.1h0M48.5 53.2h0M41.1 2.5h0M69.9 30.8h0M66.8 10.6h0M16.5 48.3h0M67.6 52.7h0M50.3 57.5h0M23.1 9.0h0M14.7 52.5h0M61.1 15.8h0M35.8 50.9h0M71.0 35.7h0M51.2 52.9h0M41.0 26.7h0M30.6 24.5h0M67.0 2.4h0M71.0 40.2h0M64.1 32.9h0" stroke="#f0b25c" stroke-width="2.0" opacity=".7"/>
<path d="M2.4 4.5h0M32.5 36.7h0M41.2 37.3h0M17.9 44.1h0M50.5 57.2h0M66.3 22.0h0M29.7 17.8h0M4.6 33.9h0M14.4 44.6h0M35.3 57.1h0M60.9 56.1h0M4.7 50.5h0M24.6 12.2h0M24.2 20.5h0M54.3 54.9h0M57.3 5.8h0M17.3 6.8h0M30.4 41.5h0M65.2 41.8h0M37.2 -0.4h0M66.9 49.8h0M40.4 46.8h0M39.3 29.5h0M28.8 21.3h0M28.3 40.3h0M28.2 12.8h0M30.1 3.4h0M61.5 5.3h0M67.5 8.2h0M7.9 8.5h0M1.5 34.4h0M36.3 32.3h0M7.3 12.9h0M13.2 56.7h0M20.0 17.9h0M-0.5 10.2h0M40.5 53.9h0M8.9 10.8h0M23.3 2.1h0M6.7 5.1h0M33.4 48.6h0M72.0 30.9h0M35.5 47.1h0M9.0 53.2h0M53.8 28.1h0M21.5 53.5h0M29.1 45.3h0M17.0 13.7h0M36.0 47.0h0M11.6 39.8h0M45.7 15.3h0M51.5 21.0h0M20.0 1.1h0M36.4 44.3h0M65.5 12.8h0M51.3 23.7h0M14.8 6.0h0M27.5 59.6h0M51.1 28.9h0M48.8 5.9h0M59.3 41.3h0M69.9 2.5h0M44.2 48.5h0M54.1 23.7h0M24.5 16.4h0M45.2 14.3h0M61.4 12.8h0M44.4 58.5h0M34.4 43.4h0M29.8 38.3h0M44.1 14.4h0M58.1 36.3h0M51.0 54.2h0M1.9 17.0h0M68.0 21.6h0M56.9 12.3h0M50.3 54.4h0M31.0 54.6h0M48.6 10.4h0M50.1 12.6h0M18.2 36.3h0M53.8 48.6h0M60.5 39.3h0M62.7 37.7h0M11.9 7.8h0M47.6 5.0h0M60.9 5.7h0M34.0 50.3h0M69.6 21.6h0M69.9 45.1h0M37.6 33.0h0M32.8 49.9h0M61.5 29.7h0M32.8 8.0h0M61.7 11.4h0M26.3 54.7h0M45.6 8.5h0M31.7 8.9h0M38.6 37.4h0M7.9 50.7h0M69.8 49.6h0M22.8 20.6h0M60.3 27.6h0M28.9 55.1h0M19.2 27.3h0M46.6 33.9h0M12.3 5.7h0M32.8 47.4h0M71.2 8.8h0M37.0 54.4h0M6.4 1.6h0M9.2 56.9h0M29.6 28.2h0M69.8 25.2h0M37.2 57.5h0M43.6 55.6h0M61.0 41.1h0M46.0 31.3h0M18.2 11.2h0M49.4 50.4h0M7.3 5.8h0M27.1 34.2h0M71.8 13.1h0M29.0 36.8h0M25.3 22.4h0M64.5 23.8h0M28.8 9.7h0M6.3 34.6h0M10.9 11.2h0M70.1 57.9h0M15.7 45.9h0M49.3 23.0h0M40.3 37.2h0M66.0 13.7h0M7.8 10.4h0M24.7 24.0h0M67.2 41.2h0M41.0 32.4h0M38.8 40.7h0M16.3 7.5h0M13.7 39.6h0M70.2 -0.3h0M70.4 1.1h0M50.1 18.3h0M60.4 57.2h0M70.7 49.6h0M20.4 17.6h0M1.9 9.2h0M7.9 23.6h0M64.1 52.5h0M54.2 15.8h0M2.2 19.7h0M60.8 19.3h0M39.3 48.6h0M59.4 22.8h0M62.0 15.4h0M48.9 49.6h0M30.8 53.6h0M57.7 42.1h0M21.6 13.7h0M13.3 5.0h0M32.7 50.1h0M61.4 54.4h0M28.7 59.3h0M44.8 53.8h0M42.5 54.9h0M29.8 27.8h0M70.7 23.8h0M65.2 33.3h0M68.7 16.0h0M53.6 41.8h0M20.1 19.5h0M26.0 12.8h0M39.1 34.3h0M10.7 46.4h0M66.5 38.5h0M25.4 12.0h0M59.1 18.5h0M30.6 51.3h0M16.5 9.5h0M65.0 6.6h0M20.8 29.3h0M71.1 55.5h0M57.8 47.8h0M65.4 2.7h0M3.7 9.0h0M60.7 27.2h0M50.2 30.7h0M22.8 16.3h0M5.8 7.7h0M59.8 48.2h0M23.3 22.1h0M23.5 10.6h0M39.6 42.8h0M38.6 34.1h0M26.6 5.9h0M46.8 33.3h0M69.3 3.9h0M21.7 34.7h0M64.5 3.1h0M47.6 49.7h0M4.7 54.7h0M64.0 53.6h0M61.9 22.3h0M1.3 11.2h0M27.2 26.5h0M54.8 9.8h0M57.8 21.2h0M49.0 28.5h0M34.7 28.8h0M0.9 13.1h0M73.5 0.3h0M18.8 20.4h0M2.0 7.6h0M72.6 6.7h0M60.7 6.6h0M36.9 43.5h0M13.5 27.7h0M68.1 0.8h0M25.7 10.9h0M10.6 43.9h0M32.0 37.4h0M18.4 32.3h0M17.0 3.9h0M30.4 12.8h0M2.8 9.4h0M47.7 21.6h0M12.4 4.6h0M53.7 11.3h0M59.8 54.9h0M19.0 15.8h0M13.6 21.5h0M25.8 13.2h0M48.6 15.4h0M45.5 47.1h0M33.4 38.4h0M43.8 27.0h0M15.4 51.4h0M64.9 53.9h0M7.9 43.1h0M46.3 47.0h0M35.0 35.1h0M13.6 4.1h0M31.8 1.3h0M3.1 34.7h0M17.5 39.2h0M6.2 7.1h0M43.0 4.9h0M72.2 22.9h0M19.0 18.1h0M28.6 53.6h0M22.8 4.5h0M31.6 23.4h0M65.5 55.8h0M41.4 34.7h0M65.9 49.5h0M61.8 27.6h0M23.1 41.7h0M65.1 45.1h0M51.4 5.4h0M36.3 3.4h0M35.7 35.5h0M25.9 54.8h0M61.0 27.7h0M40.9 48.8h0M66.7 37.0h0M6.1 54.8h0M6.7 42.1h0M58.2 9.5h0M39.4 29.7h0M6.8 57.7h0M72.1 42.3h0M0.1 30.1h0M68.7 56.5h0M63.2 8.0h0M3.4 2.9h0M67.1 38.4h0M20.1 34.5h0M38.9 49.9h0M69.9 51.8h0M13.1 43.7h0M24.7 15.7h0M31.6 1.1h0M13.8 7.1h0M47.2 13.8h0M1.0 30.6h0M9.1 6.1h0M48.5 24.7h0M57.4 9.5h0M32.6 40.1h0M52.2 14.3h0M70.3 34.1h0M72.5 15.3h0M70.6 16.2h0M8.8 3.1h0M35.7 47.1h0M21.7 34.4h0M33.4 46.6h0M55.5 2.1h0M53.6 9.5h0M68.7 40.6h0M43.8 34.5h0M50.3 15.1h0M48.7 56.1h0M38.9 45.8h0M40.8 27.8h0M10.9 45.4h0M56.1 21.9h0M22.2 47.8h0M46.2 45.0h0M62.6 6.7h0M15.1 8.3h0M21.2 9.2h0M15.8 53.0h0M40.4 13.3h0M36.0 34.7h0M57.1 46.8h0M5.1 55.5h0M68.8 8.2h0M36.5 40.1h0M18.3 13.8h0M65.7 8.3h0M7.0 45.6h0M6.9 16.7h0M69.1 11.7h0M24.5 29.0h0M13.3 17.6h0M15.5 18.2h0M62.6 46.1h0M61.2 20.1h0M38.2 39.8h0M68.8 24.9h0M20.7 12.4h0M39.9 5.5h0M19.1 49.3h0M62.0 12.0h0M4.9 49.4h0M20.3 2.5h0M32.4 19.9h0M35.5 25.7h0M71.4 17.1h0M60.4 20.9h0M67.6 50.1h0M59.4 9.4h0M47.8 4.6h0M39.5 37.4h0M0.6 47.9h0M64.6 20.5h0M33.5 19.1h0M70.8 35.4h0M3.2 14.8h0M25.7 8.3h0M37.5 50.9h0M59.4 8.5h0M35.0 4.5h0M60.4 18.1h0M9.8 47.2h0M5.9 41.0h0M17.9 50.4h0M33.4 2.4h0M1.6 4.9h0M17.7 49.6h0M8.4 17.4h0M2.6 9.6h0M38.0 16.8h0M24.1 57.1h0M13.2 34.2h0M36.1 51.0h0M47.1 34.2h0M32.3 51.3h0M2.0 13.2h0M59.8 2.2h0M28.1 45.7h0M3.1 14.0h0M29.6 1.9h0M29.7 56.9h0M47.1 32.3h0M51.2 16.8h0M24.5 15.3h0M46.0 27.2h0M72.7 4.4h0M23.7 26.9h0M25.3 7.2h0M70.1 19.1h0M68.0 11.7h0M12.5 6.4h0M12.7 32.1h0M29.8 6.8h0M31.8 54.4h0M30.3 58.6h0M43.3 34.9h0M5.4 16.0h0M9.6 37.9h0M45.9 21.1h0M51.7 15.5h0M11.3 7.1h0M17.1 35.0h0M40.4 37.2h0M68.9 0.9h0M38.8 37.1h0M72.2 22.8h0M66.1 32.7h0M20.5 15.2h0M69.4 24.7h0M31.3 53.4h0M50.2 29.0h0M38.1 29.0h0M16.9 30.3h0M4.9 47.5h0M7.7 45.8h0M15.1 -1.6h0M54.6 7.6h0M55.8 16.2h0M73.4 25.0h0M30.4 51.9h0M31.5 13.6h0M21.0 50.2h0M-0.9 12.3h0M23.4 9.6h0M46.8 52.5h0M24.0 34.6h0M8.1 11.7h0M7.9 1.4h0M42.9 34.4h0M18.6 8.4h0M6.5 43.0h0M41.1 33.6h0M63.0 21.6h0M18.4 37.5h0M31.9 46.1h0M-0.9 8.6h0M10.7 28.4h0M19.0 21.6h0M35.7 48.4h0M57.2 16.8h0M55.4 20.9h0M64.3 14.1h0M70.3 4.8h0M-0.0 15.1h0M44.5 55.2h0M17.7 20.8h0M68.1 32.3h0M70.0 51.7h0M30.2 6.8h0M22.2 6.2h0M33.6 25.0h0M61.3 33.8h0M53.4 31.5h0M67.1 42.0h0M35.9 49.7h0M22.6 14.4h0M14.2 6.1h0M9.2 6.6h0M60.1 10.5h0M47.0 48.2h0M63.3 5.5h0M16.3 12.7h0M31.7 0.5h0M0.4 25.6h0M62.7 2.4h0M11.8 8.3h0M63.5 3.1h0M44.6 0.1h0M25.8 6.3h0M19.8 33.8h0M5.5 54.2h0M15.5 19.3h0M45.9 19.2h0M8.6 0.3h0M11.5 53.3h0M9.2 25.0h0M55.7 2.5h0M66.2 9.2h0M13.2 15.9h0M11.2 0.0h0M65.3 40.1h0M22.7 38.0h0M31.9 53.8h0M48.4 16.5h0M47.0 31.8h0M67.8 8.2h0M64.0 16.5h0M54.8 25.3h0M66.7 52.1h0M22.4 9.9h0M11.2 0.2h0M25.8 33.6h0M36.8 52.9h0M68.4 18.6h0M45.3 3.5h0M67.6 39.5h0M67.5 15.6h0M9.5 1.4h0M50.6 16.6h0M49.0 22.0h0M20.4 22.0h0M18.4 53.5h0M23.6 17.4h0M24.1 26.3h0M40.9 55.2h0M16.8 2.5h0M72.8 3.8h0M11.5 56.2h0M5.0 20.6h0M28.9 57.6h0M8.7 56.2h0M42.6 23.7h0M47.3 47.7h0M71.7 24.4h0M34.3 23.9h0M44.2 2.8h0M67.3 3.6h0M70.0 31.6h0M51.8 17.5h0M16.1 56.9h0M42.2 57.8h0M4.8 55.3h0M51.2 55.8h0M11.9 46.1h0M11.0 47.9h0" stroke="#7e665e" stroke-width="0.95" opacity=".8"/>
<path d="M17.6 46.0h0M1.0 8.0h0M63.1 38.6h0M39.3 51.8h0M65.4 15.4h0M43.6 11.8h0M14.8 41.2h0M8.4 13.1h0M27.9 33.3h0M69.6 3.2h0M67.7 42.0h0M10.6 34.1h0M5.9 44.4h0M48.5 53.0h0M26.2 37.5h0M10.3 0.8h0M1.4 40.0h0M1.5 8.4h0M38.6 35.0h0M21.4 7.9h0M17.3 31.4h0M38.5 7.0h0M52.7 31.0h0M65.8 9.8h0M40.1 45.2h0M28.3 27.3h0M67.8 22.4h0M0.1 12.5h0M28.1 11.7h0M33.5 52.6h0M46.6 5.9h0M17.5 23.4h0M11.4 16.3h0M51.3 49.5h0M0.7 37.7h0M21.3 26.1h0M43.0 49.0h0M67.1 3.3h0M18.7 2.1h0M71.3 22.1h0M43.2 53.8h0M18.1 37.6h0M39.1 44.6h0M65.2 18.9h0M30.7 47.7h0M57.9 9.8h0M16.6 14.0h0M39.1 39.1h0M48.2 54.3h0M52.3 52.4h0M57.8 19.3h0M67.2 26.4h0M73.4 19.5h0M39.7 36.3h0M41.1 49.2h0M22.5 7.7h0M40.1 42.1h0M44.2 23.8h0M22.7 22.4h0M66.7 24.5h0M33.5 30.7h0M25.1 57.0h0M36.7 35.7h0M71.9 18.6h0M72.0 3.0h0M2.7 3.0h0M62.0 9.9h0M70.0 20.9h0M18.5 41.0h0M58.4 27.8h0M25.3 28.4h0M22.1 57.8h0M53.6 33.6h0M29.1 11.2h0M53.8 43.4h0M44.4 33.4h0M1.6 10.4h0M67.6 4.3h0M69.0 10.6h0M25.6 53.0h0M7.5 50.6h0M49.3 15.5h0M23.0 16.1h0M16.8 9.3h0M63.2 50.0h0M16.8 53.7h0M33.8 23.4h0M21.1 12.3h0M72.6 4.9h0M26.7 37.0h0M43.8 25.4h0M30.9 29.4h0M5.3 1.4h0M61.9 6.4h0M49.7 54.0h0M6.1 5.1h0M50.5 46.4h0M36.5 51.8h0M68.7 19.3h0M20.4 1.4h0M64.7 9.1h0M31.8 40.9h0M52.6 29.5h0M48.6 16.6h0M8.4 40.5h0M7.7 27.1h0M58.6 20.5h0M34.0 28.9h0M55.3 -0.3h0M18.4 52.4h0M30.6 54.5h0M9.5 38.4h0M64.1 5.8h0M30.8 50.6h0M42.6 0.1h0M68.3 24.5h0M6.6 12.0h0M43.3 34.4h0M64.5 52.3h0M22.5 49.7h0M50.8 41.7h0M59.9 23.0h0M20.6 10.6h0M26.7 49.8h0M38.0 44.7h0M66.2 5.2h0M61.9 14.3h0M34.7 45.8h0M7.5 10.1h0M21.7 19.3h0M69.0 18.2h0M68.3 35.3h0M66.9 37.0h0M25.4 13.4h0M65.2 11.1h0M50.9 52.5h0M53.5 7.3h0M27.1 46.2h0M40.3 29.7h0M60.7 5.6h0M17.6 9.0h0M59.2 11.2h0M14.6 18.9h0M21.3 8.4h0M38.1 7.2h0M66.5 8.9h0M38.8 54.6h0M56.8 23.9h0M60.2 30.0h0M35.6 7.3h0M56.1 18.3h0M43.8 29.8h0M8.7 24.2h0M46.1 56.2h0M3.4 10.8h0M54.7 15.0h0M33.4 3.4h0M7.9 53.1h0M54.3 17.0h0M4.8 44.3h0M9.4 42.9h0M13.8 43.6h0M46.3 27.5h0M51.3 17.5h0M30.1 49.1h0M-3.0 8.8h0M16.2 27.8h0M34.0 19.4h0M42.3 3.1h0M75.0 23.6h0M36.4 37.7h0M56.3 0.3h0M67.6 8.5h0M67.9 19.5h0M52.5 16.9h0M50.6 17.9h0M32.9 -0.1h0M24.1 54.2h0M63.9 31.2h0M4.1 40.9h0M13.9 24.9h0M59.3 53.2h0M32.6 25.6h0M37.2 6.4h0M15.2 -0.7h0M49.9 12.7h0M38.8 45.7h0M29.9 52.3h0M40.0 19.0h0M60.4 6.7h0M33.1 57.3h0M69.2 47.3h0M65.5 54.4h0M20.6 43.0h0M41.5 41.3h0M6.1 37.1h0M71.4 44.4h0M64.0 46.1h0M41.2 23.0h0M43.9 57.3h0M70.3 17.8h0M68.0 35.5h0M61.7 28.8h0M72.1 12.2h0M20.7 17.7h0M70.4 19.9h0M72.3 58.5h0M44.6 29.8h0M34.8 40.7h0M17.5 22.8h0M57.9 13.5h0M65.4 6.4h0M45.5 17.5h0M10.6 45.2h0M59.7 21.4h0M63.3 34.8h0M62.2 31.9h0M10.1 33.6h0M14.3 45.9h0M29.8 57.1h0M0.9 5.6h0M21.8 15.6h0M16.9 13.9h0M15.4 1.1h0M48.4 16.7h0M39.3 41.8h0M33.9 10.9h0M24.1 24.2h0M56.1 44.7h0M34.4 46.3h0M28.5 43.6h0M66.7 36.5h0M13.7 12.4h0M20.4 8.2h0M57.9 26.1h0M10.9 16.9h0M28.5 8.3h0M31.1 52.3h0M20.9 10.7h0M4.1 11.3h0M69.2 23.1h0M32.1 22.7h0M48.3 5.7h0M7.0 3.2h0M66.8 22.6h0M69.4 29.3h0M41.0 9.6h0M0.0 35.8h0M68.9 47.0h0M61.4 51.6h0M48.7 21.9h0M58.9 8.8h0M31.8 50.0h0M70.1 23.8h0M6.4 53.8h0M18.7 8.8h0M31.8 48.1h0M32.4 5.2h0M65.3 14.0h0M66.8 15.7h0" stroke="#7c6260" stroke-width="1.45" opacity=".75"/>
<path d="M38.4 53.2h0M73.7 17.0h0M38.1 45.6h0M7.0 45.5h0M34.6 28.5h0M5.5 17.7h0M17.3 8.2h0M56.7 15.0h0M51.4 10.0h0M69.2 13.2h0M47.0 23.7h0M56.3 49.4h0M49.1 12.5h0M34.6 39.3h0M51.4 15.6h0M68.7 7.7h0M1.5 17.4h0M55.3 18.2h0M45.8 49.0h0M70.7 14.1h0M25.7 14.9h0M20.3 20.5h0M32.0 51.8h0M44.0 36.9h0M67.3 17.9h0M52.7 0.7h0M42.6 56.1h0M50.8 57.6h0M66.5 12.7h0M35.0 3.3h0M72.0 24.7h0M5.7 13.1h0M6.7 4.9h0M54.9 17.4h0M24.4 17.0h0M47.6 54.7h0M32.5 15.1h0M26.9 24.5h0M13.1 2.1h0M48.0 18.3h0M31.0 0.1h0M49.9 2.9h0M59.7 8.5h0M7.4 4.6h0M17.6 9.8h0M38.9 53.9h0M11.9 2.1h0M62.5 27.0h0M4.6 4.7h0M68.4 39.7h0M48.4 -0.2h0M12.7 3.8h0M67.3 52.8h0M57.2 13.7h0M8.5 44.6h0M7.8 2.4h0M52.1 16.1h0M0.7 16.1h0M18.6 21.9h0M59.9 29.3h0M25.7 18.5h0M67.9 52.5h0M44.6 33.7h0M33.0 50.5h0M64.8 42.7h0M67.8 41.2h0M6.0 14.9h0M38.7 48.9h0M47.7 7.0h0M26.6 7.3h0M60.7 9.8h0M46.8 0.4h0M59.2 26.0h0M55.6 18.4h0M27.9 43.5h0M65.7 56.1h0M61.4 26.6h0M68.1 1.2h0M23.8 12.2h0M35.9 45.4h0M23.4 15.0h0M68.8 6.8h0M5.4 13.7h0M35.6 54.6h0M41.5 53.6h0M48.2 11.4h0M4.6 14.2h0M22.0 16.3h0M5.8 20.1h0M4.2 15.7h0" stroke="#965034" stroke-width="1.5" opacity=".8"/>
<g filter="url(#bh)" stroke="#d66a40" opacity=".72"><path d="M61.1 31.2l-0.3 0.4M45.6 30.7l-1.3 1.1M36.1 0.3l0.1 0.6M41.1 33.1l0.1 0.6M71.5 16.2l-0.4 0.2M6.7 15.5l0.4 0.3M42.4 57.2l0.5 0.3M15.2 2.0l0.9 0.3M16.7 2.9l0.2 0.4M51.4 13.8l-0.7 0.3M58.8 28.7l-0.9 0.8M61.7 22.3l1.2 0.5M63.5 58.3l1.5 0.3" stroke-width="2.4"/><path d="M49.0 11.6l-1.2 0.4M70.1 15.8l-0.6 0.2M57.2 24.7l-0.5 0.7" stroke-width="3.3"/></g>
<path d="M61.1 31.2l-0.3 0.4M45.6 30.7l-1.3 1.1M36.1 0.3l0.1 0.6M41.1 33.1l0.1 0.6M71.5 16.2l-0.4 0.2M6.7 15.5l0.4 0.3M42.4 57.2l0.5 0.3M15.2 2.0l0.9 0.3M16.7 2.9l0.2 0.4M51.4 13.8l-0.7 0.3M58.8 28.7l-0.9 0.8M61.7 22.3l1.2 0.5M63.5 58.3l1.5 0.3" stroke="#62281c" stroke-width="1.25"/>
<path d="M49.0 11.6l-1.2 0.4M70.1 15.8l-0.6 0.2M57.2 24.7l-0.5 0.7" stroke="#5a2014" stroke-width="1.9"/>
</g></svg>
<svg x="51.0" y="233.7" width="72.2" height="58.6" viewBox="0 0 72.2 58.6"><g filter="url(#tb)" fill="none" stroke-linecap="round">
<rect x="-3" y="-3" width="78.2" height="64.6" fill="#ffe992"/>
<rect x="-3" y="-3" width="78.2" height="64.6" filter="url(#o4)" opacity="0.42"/>
<path d="M51.5 19.9h0M67.5 47.8h0M22.3 51.4h0M44.0 3.7h0M66.8 24.1h0M30.3 45.5h0M-0.2 36.0h0M55.8 26.5h0M0.7 3.9h0M51.4 17.6h0M70.4 17.2h0M23.1 52.0h0M46.6 58.2h0M60.6 26.9h0M61.4 18.6h0M20.3 32.7h0M46.4 27.2h0M69.2 19.9h0M31.0 46.4h0M31.8 44.2h0M50.3 1.4h0M59.9 -1.5h0M23.8 49.1h0M47.5 41.4h0M43.7 26.6h0M59.1 21.9h0M65.6 -0.5h0M66.4 17.6h0M11.3 56.1h0M13.1 37.6h0M-0.8 34.5h0M58.2 40.5h0M2.7 11.1h0M-3.8 40.0h0M71.5 17.0h0M50.2 11.3h0M17.6 39.9h0M35.6 26.1h0M13.4 48.4h0M61.3 18.4h0M5.2 52.5h0M41.1 28.0h0M40.4 19.9h0M32.2 45.4h0M-0.5 32.8h0M60.2 9.1h0M59.9 23.1h0M69.6 31.1h0M15.0 26.5h0M57.4 31.4h0M66.4 37.6h0M24.8 49.7h0M28.7 33.2h0M57.2 36.0h0M8.5 47.2h0M58.7 41.3h0M54.7 29.8h0M54.8 10.9h0M29.2 49.4h0M1.9 9.7h0M27.4 27.5h0M2.5 46.6h0M68.7 35.8h0M69.9 31.1h0M27.5 0.9h0M44.2 53.3h0M4.7 32.8h0M33.2 33.8h0M17.5 53.4h0M50.2 15.9h0M29.9 49.8h0M60.5 42.5h0M8.7 55.3h0M54.5 25.9h0M58.6 10.6h0M61.9 27.1h0M59.9 9.5h0M22.1 53.2h0M59.7 18.2h0M63.7 33.0h0M52.5 19.8h0M50.6 20.7h0M49.0 57.5h0M13.4 16.3h0M64.7 19.5h0M9.7 33.2h0M0.2 45.6h0M5.0 34.2h0M63.2 24.4h0M7.2 30.6h0M54.8 42.2h0M3.3 39.6h0M15.4 1.2h0M32.0 43.8h0M57.8 22.0h0M44.7 29.3h0M6.4 14.8h0M54.1 24.5h0M35.8 50.3h0M2.8 37.8h0M10.1 22.4h0M68.6 37.6h0M65.5 7.6h0M27.1 43.0h0M62.7 -0.6h0M47.9 55.3h0M6.0 27.0h0M56.3 4.8h0M12.4 43.4h0M36.3 17.0h0M23.8 32.2h0M7.2 32.6h0M18.8 0.2h0M-0.4 10.0h0M20.9 30.5h0M34.5 15.4h0M54.4 25.4h0M35.2 28.6h0M71.2 22.5h0M66.4 29.6h0M16.2 42.5h0M39.7 26.4h0M56.8 43.3h0M66.2 22.5h0M57.8 2.7h0M68.3 37.8h0M10.5 42.2h0M24.7 54.3h0M51.3 35.1h0M46.4 26.5h0M67.6 56.8h0M8.3 15.5h0M55.0 5.8h0M43.3 23.0h0M52.8 6.5h0M67.9 44.5h0M19.4 43.3h0M43.4 18.0h0M67.6 41.7h0M46.0 0.3h0M47.7 9.6h0M45.9 12.4h0M37.7 26.5h0M43.5 26.5h0M62.4 10.8h0M60.3 18.1h0M19.6 24.0h0M15.6 57.0h0M56.2 47.6h0M52.3 29.3h0M34.6 41.7h0M9.0 46.7h0M70.7 38.8h0M0.5 52.3h0M29.3 5.6h0M69.6 28.6h0M3.7 34.9h0M24.3 10.2h0M10.8 40.4h0M42.8 28.7h0M36.9 20.6h0M55.0 8.9h0M38.0 3.9h0M54.0 30.0h0M31.7 39.6h0M2.3 32.5h0M69.4 40.0h0M3.9 26.9h0M62.4 10.6h0M31.8 4.9h0M30.4 24.2h0M27.2 56.9h0M19.4 30.7h0M74.3 18.0h0M3.2 14.6h0M25.4 31.8h0M51.9 13.7h0M44.4 15.8h0M6.0 21.2h0M50.1 28.3h0M14.6 16.9h0M11.6 32.2h0M11.2 46.0h0M53.7 19.5h0M30.3 15.6h0M26.5 5.4h0M15.1 28.7h0M50.0 8.7h0M59.5 9.8h0M17.9 47.6h0M15.8 48.4h0M17.8 6.6h0M17.9 -4.0h0M40.5 5.6h0M30.9 37.0h0M62.5 9.6h0M18.5 42.4h0M53.7 52.2h0M15.8 49.8h0M11.3 49.3h0M57.4 30.2h0M40.7 51.8h0M62.3 20.8h0M16.9 41.7h0M67.9 28.1h0M58.1 49.6h0M35.8 33.2h0M27.4 49.2h0M19.3 39.7h0M44.5 50.8h0M2.0 29.8h0M21.8 43.0h0M13.0 47.9h0M68.7 -0.4h0M6.8 45.4h0M2.1 34.7h0M53.6 3.5h0M55.8 13.0h0M41.6 53.6h0M46.2 50.4h0M16.8 46.4h0M44.2 16.2h0M44.2 30.6h0M67.1 56.3h0M19.8 48.5h0M16.4 13.6h0M66.7 18.5h0M39.3 21.7h0M62.4 5.0h0M65.4 5.9h0M25.8 21.5h0M19.0 7.7h0M33.5 3.1h0M63.3 19.6h0M54.6 30.2h0M20.5 4.3h0M33.9 33.9h0M8.2 43.9h0M38.8 22.3h0M48.0 42.3h0M70.9 39.8h0M39.2 17.0h0M3.2 42.7h0M69.7 29.1h0M28.0 16.2h0M24.0 18.2h0M4.8 57.8h0M3.7 11.2h0M52.2 38.3h0M26.8 13.2h0M53.4 18.4h0M7.6 33.1h0M18.3 37.6h0M39.5 58.3h0M3.2 49.6h0M15.7 24.2h0M21.6 54.4h0M29.5 45.4h0M20.9 48.3h0M72.6 32.5h0M-2.1 37.5h0M48.7 15.7h0M0.5 17.9h0M11.1 26.1h0M51.6 54.5h0M57.3 26.0h0M22.7 13.6h0M45.6 33.1h0M10.2 23.6h0M54.2 2.0h0M54.5 26.6h0M6.5 48.7h0M52.7 49.9h0M27.0 53.7h0M27.6 9.7h0M6.5 12.1h0M54.9 25.4h0M7.3 32.8h0M11.8 46.7h0M67.5 46.6h0" stroke="#f0b25c" stroke-width="2.0" opacity=".7"/>
<path d="M19.6 25.6h0M55.8 3.5h0M7.8 29.2h0M59.3 55.9h0M42.3 14.6h0M11.5 21.6h0M59.0 18.1h0M5.0 55.7h0M13.0 33.0h0M13.3 15.1h0M13.0 17.6h0M4.5 47.6h0M17.5 38.2h0M40.3 25.1h0M58.0 16.5h0M43.3 39.7h0M32.0 45.5h0M56.4 46.2h0M11.4 43.8h0M67.7 50.7h0M35.8 7.5h0M59.7 41.5h0M30.6 32.1h0M44.1 26.5h0M70.8 38.4h0M7.4 49.1h0M20.0 14.8h0M14.1 46.5h0M64.7 17.0h0M36.4 4.3h0M65.5 25.8h0M12.3 32.8h0M59.0 5.5h0M54.2 22.0h0M54.8 29.6h0M51.0 46.0h0M3.7 53.8h0M-2.7 9.0h0M33.5 36.8h0M34.8 30.0h0M14.1 45.6h0M62.6 13.1h0M20.9 30.8h0M45.1 54.5h0M56.7 9.2h0M12.4 35.3h0M56.8 22.3h0M47.9 19.1h0M57.6 19.8h0M33.8 42.8h0M64.0 53.4h0M71.9 6.9h0M11.3 28.1h0M4.8 4.1h0M47.4 10.4h0M19.4 4.0h0M66.3 52.7h0M14.6 38.6h0M39.7 34.2h0M51.3 38.8h0M51.6 16.8h0M21.4 27.8h0M32.5 28.4h0M34.1 44.2h0M62.6 4.2h0M-2.4 8.6h0M3.8 36.0h0M28.6 57.0h0M65.6 47.8h0M49.1 14.2h0M67.6 10.7h0M19.1 16.4h0M54.5 57.3h0M54.1 13.4h0M21.3 18.2h0M34.5 19.6h0M31.2 48.5h0M49.9 14.0h0M54.5 6.4h0M24.7 6.8h0M2.6 11.5h0M25.7 5.6h0M68.1 45.9h0M49.7 27.1h0M71.9 44.2h0M4.1 34.0h0M49.8 17.5h0M40.4 35.2h0M50.7 5.8h0M36.1 18.8h0M9.9 12.9h0M44.3 11.6h0M64.2 34.2h0M61.2 25.3h0M15.3 39.9h0M48.2 21.4h0M50.7 48.0h0M38.9 15.1h0M21.4 11.1h0M2.8 44.2h0M58.0 8.7h0M71.6 19.9h0M45.4 9.6h0M41.0 39.7h0M6.4 4.5h0M28.2 30.6h0M9.1 46.5h0M15.4 23.5h0M13.9 37.3h0M35.3 40.9h0M30.6 4.8h0M43.4 10.1h0M9.0 29.8h0M17.9 5.1h0M67.0 34.9h0M16.3 26.5h0M56.7 15.3h0M69.9 10.9h0M5.3 37.6h0M4.4 49.7h0M63.2 55.9h0M12.7 25.5h0M56.2 49.7h0M14.9 51.3h0M12.7 50.7h0M59.7 4.3h0M19.9 48.0h0M63.9 11.5h0M48.1 22.4h0M70.8 37.9h0M1.9 41.0h0M8.9 3.0h0M21.4 54.7h0M64.2 4.2h0M28.7 53.9h0M59.7 40.9h0M32.6 18.5h0M29.0 14.6h0M44.8 20.7h0M68.3 17.2h0M11.6 46.9h0M19.4 42.6h0M59.5 38.4h0M64.8 10.5h0M3.6 6.6h0M20.8 44.4h0M4.9 39.4h0M25.3 54.5h0M28.0 45.3h0M31.3 48.5h0M63.4 6.3h0M71.9 24.1h0M50.9 4.1h0M26.9 13.5h0M48.6 21.0h0M20.3 22.4h0M26.0 31.5h0M58.8 17.5h0M7.0 28.2h0M57.9 23.9h0M64.1 2.4h0M-0.9 35.9h0M37.7 8.7h0M71.4 29.0h0M22.5 48.5h0M1.6 35.0h0M11.9 52.1h0M4.2 13.7h0M13.4 50.4h0M1.5 46.8h0M61.2 23.4h0M0.3 11.0h0M3.6 54.8h0M19.0 23.0h0M44.3 2.1h0M62.0 42.5h0M13.6 21.8h0M13.4 3.1h0M0.9 34.9h0M9.7 45.7h0M3.3 10.6h0M26.7 14.6h0M76.4 36.1h0M31.1 37.5h0M19.0 22.1h0M64.9 13.6h0M23.1 51.3h0M13.0 55.0h0M60.3 28.4h0M43.0 19.1h0M54.3 4.4h0M40.6 30.7h0M66.4 13.7h0M37.0 37.2h0M7.7 57.0h0M12.9 38.2h0M35.1 50.1h0M29.0 29.0h0M30.5 4.0h0M23.1 44.0h0M35.9 52.9h0M64.6 50.5h0M7.6 28.9h0M38.7 54.8h0M7.3 44.6h0M15.0 12.2h0M66.7 26.7h0M2.3 4.1h0M32.4 50.1h0M62.6 50.5h0M31.3 44.7h0M5.9 19.7h0M10.2 42.2h0M28.7 19.0h0M50.5 53.4h0M38.4 1.1h0M48.1 28.8h0M7.0 37.2h0M38.7 7.5h0M59.3 11.3h0M55.8 39.3h0M59.5 52.9h0M70.2 23.4h0M27.5 5.4h0M31.8 23.4h0M2.6 48.1h0M65.6 19.4h0M56.1 49.0h0M45.0 51.3h0M69.0 42.7h0M63.6 8.3h0M37.1 27.8h0M62.1 25.2h0M14.5 48.0h0M40.0 5.9h0M47.6 14.7h0M50.2 28.0h0M24.3 36.6h0M33.5 46.5h0M-0.7 8.9h0M62.6 4.8h0M-0.4 31.5h0M67.2 57.0h0M68.1 2.9h0M15.9 40.7h0M39.9 46.0h0M59.0 15.3h0M35.6 43.9h0M65.2 19.1h0M62.9 33.9h0M66.9 13.8h0M24.3 51.4h0M61.6 48.4h0M55.1 12.8h0M70.9 7.4h0M0.3 48.5h0M30.1 17.4h0M69.7 34.9h0M56.8 4.0h0M60.7 15.3h0M12.9 41.7h0M54.0 25.8h0M16.1 50.8h0M43.6 16.9h0M44.8 3.6h0M3.1 37.3h0M56.7 32.4h0M36.1 17.2h0M55.9 11.4h0M46.8 6.1h0M12.3 5.8h0M58.3 38.1h0M1.7 51.6h0M26.8 15.1h0M47.3 46.1h0M27.7 0.1h0M19.1 51.7h0M70.0 40.7h0M10.6 49.6h0M68.9 57.1h0M31.9 31.7h0M51.7 52.4h0M61.1 39.3h0M40.7 7.8h0M17.5 40.5h0M48.4 20.3h0M51.2 20.3h0M51.4 46.3h0M21.0 43.2h0M41.2 17.7h0M68.7 36.1h0M51.1 17.3h0M6.2 30.6h0M45.9 54.6h0M52.8 14.7h0M-0.1 36.0h0M16.2 57.7h0M19.3 56.1h0M35.1 24.4h0M18.9 34.6h0M42.2 10.3h0M57.4 9.7h0M18.7 48.2h0M21.2 48.2h0M66.1 19.0h0M23.7 51.2h0M40.4 13.5h0M63.4 33.6h0M58.7 50.9h0M37.9 38.2h0M53.5 44.3h0M26.1 47.4h0M33.6 26.8h0M36.3 7.7h0M13.8 2.0h0M6.9 29.1h0M52.8 44.1h0M42.6 16.8h0M17.9 7.9h0M40.9 28.2h0M20.5 39.0h0M56.1 23.1h0M35.3 24.4h0M54.0 25.9h0M70.5 36.3h0M15.4 4.0h0M31.0 10.2h0M-1.5 32.5h0M33.2 17.6h0M56.2 25.2h0M15.9 7.6h0M31.1 1.7h0M20.0 37.6h0M52.6 16.3h0M11.5 1.0h0M6.1 26.4h0M57.9 11.2h0M15.1 27.3h0M23.7 52.5h0M31.7 50.9h0M14.4 45.0h0M40.0 21.7h0M52.5 16.8h0M74.1 35.3h0M18.7 55.4h0M57.1 28.7h0M77.4 34.8h0M67.5 34.3h0M15.3 30.3h0M1.3 56.1h0M20.6 47.4h0M26.9 26.6h0M64.4 51.4h0M33.7 31.9h0M26.3 42.7h0M53.9 27.9h0M13.5 29.3h0M60.4 32.8h0M66.2 39.0h0M12.2 53.2h0M71.6 33.7h0M2.1 48.4h0M34.2 19.0h0M31.4 45.2h0M51.0 21.5h0M54.9 29.0h0M0.7 28.1h0M50.7 36.2h0M23.9 19.6h0M22.4 38.1h0M67.6 6.3h0M13.8 37.4h0M17.2 43.9h0M41.2 53.3h0M-1.2 31.8h0M69.8 9.1h0M10.9 6.3h0M69.4 33.6h0M65.4 47.0h0M33.6 55.6h0M39.5 46.8h0M48.3 15.0h0M11.4 50.5h0M60.9 29.2h0M25.3 22.8h0M29.3 39.8h0M20.9 48.6h0M67.3 43.5h0M24.1 55.3h0M16.3 57.6h0M69.3 14.2h0M70.1 37.1h0M53.7 46.8h0M28.6 27.2h0M1.8 10.6h0M62.7 22.0h0M24.7 11.1h0M15.6 25.9h0M59.6 12.5h0M24.3 32.0h0M55.0 38.8h0M48.5 49.0h0M62.4 12.3h0M51.9 24.0h0M65.9 57.3h0M59.7 27.7h0M59.1 8.5h0M3.2 25.8h0M29.3 50.2h0M53.4 22.2h0M49.6 14.3h0M50.1 56.7h0M20.6 10.4h0" stroke="#7e665e" stroke-width="0.95" opacity=".8"/>
<path d="M57.3 7.8h0M3.7 33.7h0M41.8 11.0h0M58.9 49.2h0M16.4 -0.3h0M58.0 41.9h0M47.9 15.6h0M10.1 34.4h0M-0.7 33.7h0M50.1 23.4h0M31.8 8.6h0M49.6 54.5h0M18.6 4.3h0M70.2 52.2h0M43.5 18.0h0M31.4 46.7h0M4.3 32.3h0M37.3 49.4h0M39.4 22.1h0M54.4 25.4h0M56.2 41.5h0M32.8 41.8h0M25.2 5.3h0M47.4 56.7h0M45.0 11.4h0M12.8 20.6h0M55.0 12.7h0M66.4 24.4h0M9.3 50.6h0M52.4 20.6h0M18.8 37.7h0M50.8 15.9h0M48.6 36.1h0M44.9 48.0h0M20.6 18.2h0M68.6 37.6h0M36.0 34.2h0M3.7 27.0h0M40.8 29.3h0M17.7 27.0h0M28.3 19.4h0M32.4 15.8h0M31.8 7.5h0M32.7 46.8h0M31.6 43.1h0M67.1 7.4h0M67.7 1.5h0M45.6 47.7h0M29.4 28.3h0M6.2 33.5h0M19.7 14.8h0M57.9 6.6h0M58.6 45.8h0M0.1 39.7h0M16.6 2.6h0M66.9 9.7h0M12.5 16.2h0M46.5 9.1h0M12.3 46.4h0M64.8 16.1h0M60.3 22.2h0M-0.4 51.1h0M66.4 43.8h0M60.6 12.3h0M60.8 17.2h0M67.6 27.5h0M43.5 27.8h0M19.8 46.5h0M36.5 22.3h0M14.1 47.5h0M4.4 50.0h0M72.1 17.6h0M69.9 34.3h0M70.0 2.1h0M43.0 4.5h0M38.0 24.7h0M59.0 40.4h0M5.0 9.6h0M21.6 56.3h0M1.7 31.1h0M30.6 41.7h0M32.7 57.1h0M55.8 13.1h0M44.2 28.7h0M56.7 4.9h0M30.1 17.1h0M5.4 38.1h0M19.5 16.7h0M20.4 7.6h0M8.1 54.6h0M31.8 45.6h0M49.8 18.0h0M23.3 12.6h0M39.7 8.0h0M57.3 29.2h0M1.5 37.7h0M71.3 38.8h0M13.8 23.2h0M-1.7 30.9h0M4.1 46.3h0M17.1 24.7h0M10.9 25.0h0M10.3 46.7h0M21.7 43.1h0M23.3 24.2h0M63.6 20.5h0M28.9 46.5h0M2.8 37.4h0M34.6 10.5h0M33.1 31.8h0M2.1 34.3h0M9.3 10.3h0M58.0 1.3h0M59.0 32.8h0M6.3 12.4h0M19.9 50.5h0M45.9 53.3h0M62.7 50.5h0M65.9 12.7h0M34.6 55.7h0M53.7 46.4h0M7.0 32.2h0M27.9 8.6h0M63.7 4.5h0M61.9 11.6h0M63.1 46.4h0M22.5 5.3h0M34.4 41.5h0M19.2 0.6h0M57.6 44.2h0M57.1 24.5h0M25.5 28.8h0M41.4 3.5h0M46.5 21.9h0M67.5 9.0h0M70.4 26.9h0M57.3 46.8h0M10.4 21.6h0M51.3 44.9h0M53.4 27.8h0M64.0 29.8h0M68.0 18.0h0M37.7 34.4h0M46.4 53.2h0M59.3 14.1h0M27.6 18.9h0M41.6 40.1h0M27.2 9.1h0M41.4 27.8h0M9.5 3.5h0M67.2 43.6h0M29.4 16.5h0M19.7 43.5h0M65.6 32.0h0M71.0 35.8h0M9.5 43.9h0M71.6 36.1h0M15.8 4.2h0M63.6 17.3h0M3.5 35.7h0M6.6 41.4h0M24.3 8.6h0M49.2 27.5h0M25.6 36.4h0M53.4 42.4h0M56.7 13.5h0M70.1 15.8h0M25.4 20.3h0M5.8 48.3h0M25.2 42.8h0M63.5 45.8h0M52.9 28.3h0M45.5 16.7h0M23.4 54.9h0M7.4 20.6h0M63.3 24.0h0M14.8 5.4h0M57.1 18.2h0M71.4 43.9h0M52.7 20.4h0M3.2 27.2h0M59.0 11.0h0M20.9 47.3h0M30.0 44.6h0M4.0 22.0h0M1.6 25.0h0M35.6 33.2h0M33.7 29.0h0M71.8 10.9h0M23.3 20.5h0M67.0 5.2h0M19.3 48.2h0M62.7 51.3h0M28.7 55.8h0M26.2 15.3h0M42.6 39.1h0M1.8 45.6h0M8.0 42.6h0M20.2 22.7h0M37.5 29.5h0M23.6 11.3h0M39.1 14.6h0M52.0 4.0h0M6.2 9.8h0M62.7 4.8h0M-0.0 29.6h0" stroke="#7c6260" stroke-width="1.45" opacity=".75"/>
<path d="M68.8 33.8h0M71.0 16.7h0M50.9 22.6h0M67.1 0.1h0M53.5 27.7h0M57.8 44.1h0M17.4 46.9h0M43.6 31.1h0M51.4 42.8h0M45.2 10.6h0M13.7 8.4h0M61.3 16.5h0M69.0 23.5h0M28.7 6.9h0M57.3 42.5h0M23.9 13.0h0M21.3 46.7h0M1.9 36.2h0M48.1 31.2h0M33.9 17.1h0M19.7 31.6h0M2.1 32.3h0M65.3 54.7h0M37.8 44.3h0M60.5 3.3h0M8.0 48.2h0M59.0 22.3h0M17.1 55.4h0M56.7 33.5h0M54.7 15.3h0M27.3 43.7h0M13.6 28.5h0M50.7 53.7h0M59.6 37.6h0M43.4 20.6h0M45.1 7.3h0M5.6 29.7h0M59.5 58.1h0M16.3 2.9h0M7.9 46.5h0M65.8 0.3h0M66.9 15.6h0M52.0 0.6h0M15.1 55.6h0M8.7 44.8h0M44.8 26.4h0M16.9 50.8h0M18.2 47.0h0M30.7 28.8h0M64.9 2.5h0M17.5 56.4h0M23.2 14.1h0M57.4 42.6h0M3.0 50.2h0M68.2 34.6h0M21.5 49.1h0M63.3 43.9h0M55.2 8.5h0M55.5 20.1h0M9.0 29.7h0M-0.4 49.4h0M8.0 46.4h0M48.1 0.6h0M50.3 11.2h0M24.7 51.7h0M45.3 28.2h0M1.9 37.4h0M65.3 31.7h0M6.5 48.3h0M50.1 30.5h0M5.5 11.3h0M67.2 31.3h0M12.5 47.5h0M12.8 43.3h0M71.7 38.7h0M53.1 58.0h0M57.5 3.5h0M49.2 22.4h0M38.7 9.7h0M70.5 35.4h0M48.0 16.2h0M56.6 25.8h0M20.4 24.2h0M31.9 19.3h0M24.3 49.7h0M19.6 48.5h0M4.9 49.9h0M64.4 0.7h0M65.6 0.6h0M18.6 42.2h0M35.9 46.2h0M60.0 7.1h0M9.3 45.8h0M55.8 49.1h0M34.8 32.0h0M17.7 4.5h0M18.8 44.9h0M13.3 50.1h0M49.3 25.6h0M42.6 9.5h0M22.6 50.1h0M67.1 0.4h0M22.2 11.9h0M58.0 27.2h0M35.8 17.8h0M6.6 7.0h0M66.3 0.8h0M61.8 9.0h0M59.5 4.2h0M2.5 12.2h0M33.0 43.0h0M12.2 52.9h0M23.6 14.1h0M0.2 26.2h0M6.7 45.2h0M29.1 52.1h0M7.5 48.3h0M50.2 23.5h0M61.7 16.0h0M32.9 45.8h0M32.8 28.4h0M47.6 49.4h0M51.0 17.9h0M25.9 21.1h0M52.4 17.1h0M44.9 7.3h0M46.2 0.4h0M-1.8 46.8h0M58.5 9.4h0M66.4 10.1h0M57.8 28.4h0M67.8 35.4h0M64.4 13.2h0M67.7 42.4h0M1.6 30.8h0M54.4 27.0h0M57.5 25.7h0M-0.7 37.3h0M71.3 43.4h0M68.7 55.1h0M26.3 18.3h0M3.0 15.0h0M44.2 27.8h0M8.2 47.3h0M43.7 49.7h0M61.6 14.8h0M68.1 3.0h0M8.2 50.3h0M11.0 51.8h0M22.1 51.5h0M16.5 57.1h0M51.7 23.3h0M62.1 17.1h0M58.1 28.3h0M53.5 25.8h0M0.7 42.5h0M46.9 15.6h0M55.2 18.6h0M56.2 27.5h0M54.5 8.2h0M33.7 49.7h0M62.7 16.1h0M73.2 38.2h0M1.9 26.2h0M42.4 19.1h0M64.4 10.3h0M20.1 43.0h0M54.8 26.7h0M0.4 51.6h0M66.5 9.1h0M65.4 9.2h0M29.1 49.7h0M44.5 22.0h0M36.2 18.2h0M55.6 26.9h0M54.3 29.4h0M23.0 25.3h0M8.3 30.5h0M30.7 27.0h0M57.8 13.6h0M7.5 49.5h0M55.3 56.6h0M39.6 32.6h0M0.8 11.6h0M53.3 8.8h0M51.2 12.7h0M14.1 51.0h0M13.5 43.3h0M-0.4 33.7h0M51.9 53.9h0M9.2 38.6h0M54.6 55.1h0M21.8 51.6h0M20.6 10.6h0M2.8 5.7h0M49.8 8.4h0M6.7 47.3h0M6.5 49.9h0M57.8 3.7h0M77.0 38.9h0M22.9 57.3h0M53.7 15.4h0M61.6 44.8h0M47.4 19.3h0M49.6 53.6h0M14.0 26.8h0M34.9 16.1h0M44.8 17.7h0M72.8 38.3h0M56.5 8.0h0M65.3 11.5h0M33.7 40.2h0M72.5 36.8h0M37.0 32.4h0M29.9 47.3h0M66.0 3.4h0M46.6 13.5h0M40.7 19.8h0M29.8 47.5h0M2.4 51.3h0M12.7 6.8h0M60.2 24.2h0M55.9 45.4h0M2.6 49.5h0M8.5 35.7h0M69.8 23.1h0M1.4 28.7h0M2.4 11.7h0M44.7 5.9h0M67.7 39.7h0M67.4 42.9h0M29.3 57.7h0M43.3 29.6h0M43.0 9.6h0M11.9 48.5h0M20.9 53.9h0M37.9 21.0h0M58.0 42.5h0M11.0 50.7h0M73.0 36.7h0M59.0 43.3h0M56.5 6.1h0M65.2 10.0h0M47.2 47.7h0M45.8 28.3h0M36.0 1.9h0M42.1 35.5h0M6.8 41.5h0M70.1 31.7h0M33.4 45.7h0M19.1 51.4h0M63.1 25.3h0M2.5 15.0h0M2.3 35.1h0M-1.0 47.4h0M35.8 15.9h0M22.6 32.0h0M16.6 4.1h0M71.1 35.4h0M69.3 15.0h0" stroke="#965034" stroke-width="1.5" opacity=".8"/>
<g filter="url(#bh)" stroke="#d66a40" opacity=".72"><path d="M34.7 46.3l-0.5 0.1M59.2 17.2l-0.8 0.9M38.8 19.2l-1.0 0.6M0.7 32.6l0.5 0.3M44.7 39.6l-1.0 1.3M20.8 11.5l-0.7 0.7M68.8 36.1l1.5 0.1M61.8 23.9l0.1 1.3M2.7 37.0l-0.1 0.7M2.5 32.6l-1.0 0.0M32.0 42.7l-0.1 0.6M54.9 48.6l-1.0 1.1M19.1 11.7l-0.6 0.9M41.0 10.2l-0.3 1.3M64.0 42.8l-0.4 0.9M55.8 43.7l1.4 0.7M53.7 55.9l-0.7 1.1M66.9 44.5l-1.0 1.3M10.5 57.8l0.6 0.2M42.4 9.6l-0.6 0.9M33.5 20.0l-0.9 1.4M21.7 43.8l0.5 0.3M11.1 28.6l0.2 0.8M10.1 36.3l-0.2 1.6M22.1 50.6l-0.5 1.6M51.1 20.5l1.3 0.9M54.6 25.8l-0.8 0.7M-0.5 36.4l0.1 0.3M58.8 28.5l-0.3 0.3M69.3 1.1l-0.3 0.5M19.1 3.4l-0.4 1.6M62.7 16.1l1.1 0.3M1.6 36.2l0.9 1.4M21.4 11.0l-0.5 0.9M2.1 52.3l0.2 0.5M67.8 3.0l0.2 1.3M54.7 30.1l-0.1 0.5M17.1 28.5l0.4 1.3M9.4 29.9l-0.4 0.5M41.9 10.2l0.2 0.9M24.6 13.0l-0.5 1.4M60.7 21.5l1.3 0.4M9.2 46.1l0.1 1.2M5.4 23.5l-0.4 0.5M21.2 43.9l0.3 0.9M44.7 28.8l0.7 0.6M65.4 2.5l0.4 0.2M23.5 55.7l-1.0 1.4M45.1 10.5l0.2 0.2M54.6 14.6l-0.8 0.5M68.8 44.8l0.3 0.9M50.7 17.5l-0.7 0.5M58.6 5.8l-1.5 0.5M12.5 52.0l-0.3 0.6M30.9 43.4l1.1 1.0M57.6 9.7l-1.3 1.2M22.9 12.8l-1.1 0.9M9.0 8.7l-0.2 0.6M50.1 14.8l0.7 0.2M66.4 3.6l1.4 0.9M14.0 1.4l0.1 1.6M36.4 17.9l-0.5 0.5M36.2 24.4l-1.5 0.6M53.2 52.3l-0.5 0.2M67.1 -0.2l0.1 0.4M16.7 38.4l-0.9 1.1M59.1 29.1l-0.7 0.9M-0.8 32.5l-0.4 0.0M56.7 27.2l1.0 0.4M20.5 48.3l1.3 0.3M48.3 11.9l-0.5 1.1M51.7 13.8l-1.1 1.1M12.3 55.8l0.9 0.0M57.7 26.5l0.3 0.1M55.3 25.2l1.1 0.8M65.9 12.6l-0.5 1.1M-0.0 34.0l-0.0 1.3M65.1 40.5l0.6 0.1M66.9 23.8l-1.7 0.2M59.1 27.3l-0.8 1.4" stroke-width="2.4"/><path d="M-0.5 49.3l0.8 0.4M50.5 15.0l0.9 0.2M2.2 17.1l1.3 0.2M66.6 41.6l0.0 1.1M69.7 -1.1l-1.1 1.6M51.4 52.3l0.8 2.3M7.3 29.6l1.4 0.1M13.9 50.3l1.2 2.1M17.6 27.2l-0.8 1.1M45.0 29.4l0.2 1.6M24.0 51.0l0.7 1.4M59.3 8.3l0.9 1.0M34.2 0.6l-2.1 0.4M58.1 27.0l2.1 1.0M69.2 34.8l2.0 0.5M65.1 34.8l-1.8 0.4M52.0 25.3l0.8 1.5M63.2 15.0l0.7 1.1M13.1 49.8l2.0 0.0M10.9 9.5l-1.6 0.9M0.8 29.9l-1.6 1.4M40.6 7.9l-0.8 0.3M68.9 19.2l-0.8 0.6M19.0 13.2l-1.2 2.1M4.8 31.4l-1.6 1.7M16.5 2.5l-0.7 1.0M56.3 26.4l1.9 0.7M16.8 25.5l-1.0 0.6M45.4 53.9l0.3 1.1M17.2 40.0l-0.7 0.9M71.6 39.2l-1.5 0.4M19.5 52.3l0.7 0.1M44.6 3.7l-2.1 1.3M50.2 16.1l-1.9 1.4M41.8 10.0l-1.2 0.5M0.2 35.5l1.1 0.3M46.4 10.0l-0.5 2.0M62.3 56.1l1.6 0.4" stroke-width="3.3"/></g>
<path d="M34.7 46.3l-0.5 0.1M59.2 17.2l-0.8 0.9M38.8 19.2l-1.0 0.6M0.7 32.6l0.5 0.3M44.7 39.6l-1.0 1.3M20.8 11.5l-0.7 0.7M68.8 36.1l1.5 0.1M61.8 23.9l0.1 1.3M2.7 37.0l-0.1 0.7M2.5 32.6l-1.0 0.0M32.0 42.7l-0.1 0.6M54.9 48.6l-1.0 1.1M19.1 11.7l-0.6 0.9M41.0 10.2l-0.3 1.3M64.0 42.8l-0.4 0.9M55.8 43.7l1.4 0.7M53.7 55.9l-0.7 1.1M66.9 44.5l-1.0 1.3M10.5 57.8l0.6 0.2M42.4 9.6l-0.6 0.9M33.5 20.0l-0.9 1.4M21.7 43.8l0.5 0.3M11.1 28.6l0.2 0.8M10.1 36.3l-0.2 1.6M22.1 50.6l-0.5 1.6M51.1 20.5l1.3 0.9M54.6 25.8l-0.8 0.7M-0.5 36.4l0.1 0.3M58.8 28.5l-0.3 0.3M69.3 1.1l-0.3 0.5M19.1 3.4l-0.4 1.6M62.7 16.1l1.1 0.3M1.6 36.2l0.9 1.4M21.4 11.0l-0.5 0.9M2.1 52.3l0.2 0.5M67.8 3.0l0.2 1.3M54.7 30.1l-0.1 0.5M17.1 28.5l0.4 1.3M9.4 29.9l-0.4 0.5M41.9 10.2l0.2 0.9M24.6 13.0l-0.5 1.4M60.7 21.5l1.3 0.4M9.2 46.1l0.1 1.2M5.4 23.5l-0.4 0.5M21.2 43.9l0.3 0.9M44.7 28.8l0.7 0.6M65.4 2.5l0.4 0.2M23.5 55.7l-1.0 1.4M45.1 10.5l0.2 0.2M54.6 14.6l-0.8 0.5M68.8 44.8l0.3 0.9M50.7 17.5l-0.7 0.5M58.6 5.8l-1.5 0.5M12.5 52.0l-0.3 0.6M30.9 43.4l1.1 1.0M57.6 9.7l-1.3 1.2M22.9 12.8l-1.1 0.9M9.0 8.7l-0.2 0.6M50.1 14.8l0.7 0.2M66.4 3.6l1.4 0.9M14.0 1.4l0.1 1.6M36.4 17.9l-0.5 0.5M36.2 24.4l-1.5 0.6M53.2 52.3l-0.5 0.2M67.1 -0.2l0.1 0.4M16.7 38.4l-0.9 1.1M59.1 29.1l-0.7 0.9M-0.8 32.5l-0.4 0.0M56.7 27.2l1.0 0.4M20.5 48.3l1.3 0.3M48.3 11.9l-0.5 1.1M51.7 13.8l-1.1 1.1M12.3 55.8l0.9 0.0M57.7 26.5l0.3 0.1M55.3 25.2l1.1 0.8M65.9 12.6l-0.5 1.1M-0.0 34.0l-0.0 1.3M65.1 40.5l0.6 0.1M66.9 23.8l-1.7 0.2M59.1 27.3l-0.8 1.4" stroke="#62281c" stroke-width="1.25"/>
<path d="M-0.5 49.3l0.8 0.4M50.5 15.0l0.9 0.2M2.2 17.1l1.3 0.2M66.6 41.6l0.0 1.1M69.7 -1.1l-1.1 1.6M51.4 52.3l0.8 2.3M7.3 29.6l1.4 0.1M13.9 50.3l1.2 2.1M17.6 27.2l-0.8 1.1M45.0 29.4l0.2 1.6M24.0 51.0l0.7 1.4M59.3 8.3l0.9 1.0M34.2 0.6l-2.1 0.4M58.1 27.0l2.1 1.0M69.2 34.8l2.0 0.5M65.1 34.8l-1.8 0.4M52.0 25.3l0.8 1.5M63.2 15.0l0.7 1.1M13.1 49.8l2.0 0.0M10.9 9.5l-1.6 0.9M0.8 29.9l-1.6 1.4M40.6 7.9l-0.8 0.3M68.9 19.2l-0.8 0.6M19.0 13.2l-1.2 2.1M4.8 31.4l-1.6 1.7M16.5 2.5l-0.7 1.0M56.3 26.4l1.9 0.7M16.8 25.5l-1.0 0.6M45.4 53.9l0.3 1.1M17.2 40.0l-0.7 0.9M71.6 39.2l-1.5 0.4M19.5 52.3l0.7 0.1M44.6 3.7l-2.1 1.3M50.2 16.1l-1.9 1.4M41.8 10.0l-1.2 0.5M0.2 35.5l1.1 0.3M46.4 10.0l-0.5 2.0M62.3 56.1l1.6 0.4" stroke="#30100c" stroke-width="1.9"/>
</g></svg>
<svg x="128.2" y="233.7" width="72.2" height="58.6" viewBox="0 0 72.2 58.6"><g filter="url(#tb)" fill="none" stroke-linecap="round">
<rect x="-3" y="-3" width="78.2" height="64.6" fill="#ffef9e"/>
<rect x="-3" y="-3" width="78.2" height="64.6" filter="url(#o5)" opacity="0.42"/>
<path d="M60.8 1.7h0M22.5 19.2h0M50.4 10.3h0M71.9 17.8h0M7.5 30.4h0M55.3 41.7h0M44.6 18.8h0M38.4 18.3h0M31.3 46.6h0M55.7 12.9h0M61.8 43.6h0M52.3 53.1h0M33.5 57.3h0M27.7 3.9h0M36.2 7.0h0M41.2 10.2h0M43.3 55.0h0M6.5 35.8h0M15.0 37.6h0M41.2 48.5h0M36.5 40.1h0M29.2 32.2h0M50.8 15.6h0M66.3 42.1h0M53.1 27.1h0M22.0 22.1h0M12.5 43.7h0M46.6 32.1h0M69.1 42.8h0M61.1 47.6h0M54.2 30.1h0M56.0 48.1h0M30.5 39.0h0M59.0 41.5h0M15.4 16.7h0M25.8 44.0h0M17.5 9.7h0M35.0 13.2h0M69.0 31.2h0M54.7 51.1h0M54.9 56.7h0M23.1 38.7h0M59.0 16.7h0M41.9 56.5h0M38.8 32.6h0M17.2 27.9h0M20.8 32.7h0M45.5 55.1h0M8.9 20.2h0M64.0 12.4h0M55.7 56.6h0M34.6 51.3h0M62.4 36.3h0M43.2 9.9h0M32.0 2.7h0M64.1 22.1h0M37.8 37.4h0M67.3 43.9h0M29.1 9.8h0M51.2 35.4h0M26.8 29.8h0M58.9 57.5h0M5.9 31.9h0M10.9 18.9h0M54.2 15.9h0M33.4 53.6h0M18.4 16.7h0M54.5 8.0h0M67.5 5.7h0M10.9 38.4h0M7.0 17.6h0M55.1 10.1h0M32.2 39.1h0M10.8 50.9h0M66.6 49.2h0M38.1 21.1h0M55.4 8.7h0M11.0 7.4h0M71.2 52.1h0M20.4 51.3h0M13.3 37.7h0M57.5 28.0h0M0.4 8.7h0M8.5 37.3h0M19.0 0.2h0M5.1 13.7h0M6.7 40.2h0M45.1 9.4h0M18.0 40.1h0M52.7 28.6h0M56.5 60.0h0M66.6 51.0h0M11.9 40.6h0M59.3 8.7h0M60.0 53.4h0M49.2 9.7h0M41.6 8.3h0M46.3 33.4h0M48.8 47.6h0M5.5 22.8h0M56.2 52.9h0M54.9 50.5h0M34.6 11.3h0M20.5 16.6h0M7.5 44.1h0M40.9 46.0h0M39.4 5.9h0M22.0 12.5h0M52.9 39.9h0M20.2 35.3h0M7.4 29.3h0M62.1 16.6h0M55.9 23.3h0M31.0 37.1h0M45.4 44.8h0M38.3 20.2h0M29.1 24.7h0M17.8 4.9h0M52.2 41.6h0M55.6 50.3h0M24.1 42.7h0M55.8 28.5h0M29.1 16.5h0M15.3 2.5h0M18.8 21.0h0M44.8 50.3h0M13.9 39.9h0M57.0 50.3h0M29.4 37.3h0M14.0 17.3h0M50.2 53.0h0M48.0 27.2h0M5.3 14.4h0M64.3 36.0h0M62.4 7.1h0M35.8 19.3h0M18.7 49.9h0M60.2 48.4h0M53.3 0.7h0M61.6 39.1h0M63.6 47.9h0M34.8 40.3h0M8.2 25.5h0M40.0 53.2h0M20.1 47.2h0M49.0 44.9h0M34.1 48.1h0M16.0 9.6h0M6.2 28.0h0M48.5 26.9h0M26.7 57.5h0M48.2 55.2h0M3.9 49.5h0M50.9 28.3h0M24.9 30.6h0M55.3 4.7h0M49.3 45.8h0M47.1 49.1h0M13.1 17.3h0M62.8 51.8h0M63.6 27.2h0M71.6 14.7h0M14.2 19.2h0M0.5 36.5h0M70.5 4.8h0M50.9 22.3h0M26.1 34.0h0M8.6 57.2h0M69.2 52.5h0M10.1 19.8h0M19.0 4.3h0M47.0 19.5h0M17.9 24.7h0M39.6 49.0h0M21.6 32.7h0M6.4 40.3h0M44.0 18.6h0M49.1 15.7h0M65.7 10.6h0M51.6 26.4h0M14.0 28.9h0M58.4 55.1h0M28.8 49.9h0M11.1 8.9h0M55.4 30.0h0M49.2 10.6h0M30.5 6.7h0M48.2 51.3h0M63.9 7.6h0M44.4 17.7h0M4.7 32.3h0M42.2 45.4h0M16.0 33.5h0M35.9 17.7h0M13.4 24.3h0M18.2 40.0h0M61.1 12.8h0M3.9 5.6h0M46.5 48.3h0M61.5 20.3h0M0.8 57.2h0M65.6 4.8h0M20.5 30.7h0M67.8 11.8h0M28.4 21.2h0M15.7 31.3h0M34.6 23.4h0M17.1 53.6h0M3.0 5.0h0M47.4 52.2h0M48.4 28.4h0M53.9 49.4h0M24.7 41.7h0M56.7 54.1h0M30.1 10.2h0M69.1 40.0h0M18.2 45.6h0M59.6 1.5h0M3.1 36.4h0M32.9 26.2h0M48.4 29.6h0M0.8 33.5h0M5.3 44.2h0M67.5 53.1h0M72.1 38.6h0M59.6 50.3h0M31.6 31.9h0M35.4 57.5h0M58.2 53.9h0M5.9 12.2h0" stroke="#f0b25c" stroke-width="2.0" opacity=".7"/>
<path d="M27.3 17.0h0M47.5 1.9h0M25.0 55.8h0M69.2 40.6h0M37.9 39.7h0M68.8 49.0h0M31.8 36.4h0M57.0 17.6h0M17.3 36.5h0M43.8 16.0h0M25.0 52.5h0M20.1 14.8h0M14.6 28.3h0M59.4 10.9h0M73.5 32.1h0M63.2 15.0h0M47.1 45.1h0M28.7 37.3h0M29.2 46.1h0M24.8 38.6h0M17.4 22.4h0M57.4 23.2h0M5.6 31.5h0M22.9 50.8h0M35.2 55.8h0M37.2 55.3h0M68.6 36.4h0M14.4 43.2h0M52.1 8.3h0M53.0 18.0h0M21.9 43.8h0M49.3 51.9h0M32.2 45.8h0M71.5 7.9h0M39.3 12.5h0M68.3 54.2h0M15.6 50.6h0M29.0 7.2h0M8.8 6.6h0M63.3 21.6h0M47.8 50.1h0M73.8 27.7h0M51.4 25.7h0M1.2 38.0h0M70.8 17.7h0M67.1 0.3h0M19.3 23.0h0M25.2 40.7h0M36.5 23.6h0M56.8 56.7h0M9.8 39.9h0M17.9 50.3h0M68.8 52.9h0M70.1 50.0h0M17.7 4.5h0M41.6 8.5h0M66.8 3.2h0M22.1 44.3h0M52.6 16.1h0M7.1 22.2h0M19.6 50.2h0M23.7 40.3h0M40.1 43.4h0M22.2 39.4h0M71.1 29.9h0M36.1 2.8h0M18.2 44.5h0M21.2 42.6h0M43.6 52.7h0M48.7 51.8h0M36.7 39.5h0M3.8 13.2h0M41.3 52.4h0M65.8 23.9h0M29.7 36.4h0M42.7 56.3h0M55.1 5.4h0M15.0 49.2h0M31.0 9.6h0M5.2 6.7h0M28.5 45.9h0M30.5 12.2h0M16.6 18.8h0M24.6 44.6h0M57.2 9.3h0M63.6 43.7h0M14.8 40.7h0M27.2 15.6h0M49.3 24.6h0M9.4 24.1h0M50.9 25.2h0M26.1 8.2h0M38.5 42.7h0M31.9 21.7h0M64.8 18.8h0M68.7 56.5h0M34.2 31.9h0M38.0 34.3h0M59.8 60.8h0M18.3 6.2h0M17.6 38.9h0M31.7 37.4h0M39.6 54.9h0M5.4 21.3h0M35.2 36.9h0M15.9 26.8h0M55.4 20.0h0M63.8 18.5h0M71.8 28.3h0M43.8 31.6h0M68.6 49.3h0M39.6 15.7h0M10.5 19.9h0M6.4 34.4h0M50.3 3.6h0M57.5 51.5h0M33.4 55.1h0M19.7 1.8h0M56.1 47.3h0M37.8 21.3h0M56.9 26.1h0M31.1 21.4h0M56.5 20.5h0M28.9 42.9h0M2.0 14.2h0M72.1 12.1h0M68.3 51.2h0M55.9 30.6h0M37.9 16.3h0M64.9 50.6h0M9.6 17.3h0M3.6 13.0h0M32.0 6.7h0M17.4 43.8h0M17.5 28.0h0M61.4 47.3h0M25.4 15.9h0M46.3 41.1h0M21.4 31.8h0M6.3 55.1h0M40.0 32.5h0M45.9 25.6h0M57.0 54.5h0M38.4 11.7h0M28.7 32.1h0M31.3 47.2h0M43.7 29.6h0M5.1 29.1h0M41.7 9.6h0M36.3 18.4h0M31.9 8.9h0M32.9 38.8h0M52.1 33.8h0M70.8 2.0h0M52.1 39.4h0M12.8 23.0h0M17.9 26.1h0M34.7 14.7h0M56.7 29.0h0M16.1 48.2h0M64.2 52.5h0M-0.5 29.8h0M62.9 7.7h0M55.0 49.8h0M5.8 22.6h0M50.8 57.1h0M36.7 19.2h0M21.8 32.2h0M24.6 10.5h0M2.8 34.3h0M25.7 30.6h0M20.7 47.7h0M2.2 35.4h0M36.1 1.1h0M27.4 48.6h0M40.6 0.0h0M9.9 40.4h0M55.7 29.5h0M48.0 43.5h0M3.2 14.6h0M19.7 40.4h0M52.9 35.1h0M54.8 59.6h0M12.5 6.7h0M40.3 15.1h0M34.3 34.5h0M34.0 32.5h0M30.4 22.8h0M12.9 41.2h0M47.6 18.2h0M17.4 49.4h0M7.6 34.5h0M9.0 20.0h0M15.0 35.2h0M39.7 4.2h0M26.0 0.7h0M10.4 19.8h0M38.0 50.0h0M0.6 27.9h0M68.7 42.9h0M5.0 3.6h0M70.9 29.9h0M4.2 16.5h0M36.4 12.0h0M54.2 55.8h0M45.6 14.8h0M36.6 20.2h0M56.5 8.3h0M57.7 56.8h0M25.3 42.2h0M32.6 2.2h0M22.8 38.8h0M25.6 56.6h0M28.4 26.6h0M64.0 16.4h0M57.5 50.8h0M29.9 19.0h0M39.0 49.4h0M35.8 8.3h0M20.2 5.2h0M69.1 4.3h0M61.4 6.1h0M52.6 8.1h0M33.3 11.0h0M41.3 53.8h0M55.8 53.9h0M14.6 2.0h0M70.9 26.6h0M68.6 40.3h0M16.9 1.1h0M71.9 19.0h0M23.6 52.7h0M25.0 54.3h0M61.3 30.2h0M0.2 32.1h0M5.0 10.4h0M22.8 56.9h0M59.2 9.2h0M56.9 55.5h0M17.0 22.2h0M48.4 49.7h0M49.2 17.7h0M19.3 45.1h0M37.0 13.0h0M62.8 9.5h0M13.5 42.3h0M54.0 24.3h0M34.2 15.5h0M60.8 50.0h0M45.4 2.6h0M46.5 42.3h0M34.0 36.0h0M19.1 55.1h0M19.4 46.7h0M9.0 1.6h0M48.0 47.6h0M65.8 57.4h0M43.7 24.0h0M5.9 32.2h0M57.7 44.6h0M64.2 25.9h0M28.7 39.3h0M57.2 7.8h0M62.5 6.7h0M51.7 18.9h0M18.8 47.6h0M16.8 18.2h0M40.7 10.5h0M58.9 53.1h0M42.5 1.9h0M17.8 18.8h0M49.6 15.0h0M71.9 17.0h0M25.6 33.1h0M19.9 42.1h0M68.4 2.9h0M68.3 50.2h0M72.6 47.6h0M62.5 42.0h0M1.8 19.1h0M33.8 21.8h0M69.5 2.1h0M61.0 39.8h0M29.2 41.8h0M6.9 11.7h0M68.7 17.3h0M71.7 32.6h0M17.3 22.7h0M46.0 28.9h0M35.7 45.6h0M60.3 32.2h0M66.7 9.6h0M23.0 26.5h0M45.3 53.3h0M36.1 25.1h0M2.4 34.4h0M15.1 44.0h0M39.5 52.9h0M60.6 29.8h0M7.0 28.6h0M70.4 46.2h0M27.1 15.7h0M17.1 23.3h0M59.0 54.0h0M23.1 38.4h0M16.1 43.3h0M14.8 29.4h0M57.5 50.0h0M6.8 57.7h0M41.6 14.1h0M24.3 16.7h0M0.1 53.5h0M41.5 50.6h0M46.3 14.0h0M24.6 38.8h0M22.1 11.5h0M6.4 18.0h0M52.0 36.9h0M27.3 26.4h0M8.7 12.6h0M68.8 5.0h0M52.4 33.1h0M8.5 9.4h0M13.4 40.1h0M11.3 15.7h0M22.1 45.1h0M48.3 49.4h0M21.5 21.8h0M16.7 29.3h0M6.9 53.6h0M18.2 3.6h0M67.0 16.8h0M25.9 30.7h0M68.6 7.2h0M7.7 1.0h0M17.6 46.2h0M35.6 38.8h0M17.4 48.0h0M4.7 36.5h0M41.3 17.0h0M62.7 13.8h0M38.3 40.8h0M46.8 17.7h0M23.1 17.0h0M43.3 52.0h0M60.7 49.8h0M51.8 10.0h0M55.2 58.2h0M23.0 44.2h0M50.0 24.2h0M48.8 48.7h0M33.1 51.8h0M55.6 36.8h0M11.6 41.4h0M64.1 49.1h0M0.2 3.0h0M54.8 44.0h0M14.4 18.9h0M4.1 58.6h0M53.5 11.4h0M47.6 18.3h0M22.0 37.0h0M50.2 38.0h0M41.7 23.7h0M23.6 11.4h0M55.9 54.3h0M64.4 54.4h0M3.0 23.1h0M70.8 32.0h0M27.9 16.3h0M19.7 5.8h0M9.7 15.8h0M45.2 9.5h0M32.7 53.9h0M40.0 13.6h0M46.3 54.1h0M20.1 9.6h0M10.0 37.8h0M40.1 11.1h0M15.7 38.6h0M41.2 14.3h0M18.9 48.2h0M3.1 37.4h0M28.8 16.1h0M24.3 0.1h0M8.0 27.6h0M50.8 4.7h0M14.8 29.9h0M5.7 3.5h0M31.0 21.3h0M38.1 33.2h0M12.3 25.2h0M39.4 19.7h0M59.0 5.6h0M38.9 0.5h0M25.7 18.8h0M32.9 32.5h0M3.0 4.6h0M66.0 21.6h0M56.1 58.3h0M13.3 23.5h0M16.9 29.4h0M33.9 35.8h0M20.3 50.8h0M7.4 34.0h0M41.6 24.6h0M4.9 56.8h0M6.7 30.1h0M59.9 34.5h0M30.2 44.9h0M28.9 58.4h0M56.3 20.7h0M27.1 35.9h0M52.4 15.0h0M48.4 19.1h0M13.8 37.0h0M25.1 49.2h0M62.7 45.9h0M32.8 55.8h0M44.6 52.0h0M48.4 4.0h0M33.9 44.6h0M52.1 48.6h0M65.7 41.3h0M60.5 13.4h0M60.8 13.2h0M37.4 56.6h0M39.3 24.5h0M42.5 8.1h0M41.0 22.5h0M58.0 52.9h0M26.5 55.3h0M54.6 0.5h0M34.7 38.7h0M18.6 56.4h0M63.1 35.6h0M49.4 22.0h0M19.8 43.1h0M42.7 11.9h0M28.5 44.9h0M26.8 31.2h0M14.5 40.4h0M27.1 54.8h0M58.9 4.2h0M29.4 24.0h0M63.4 13.7h0M24.3 51.3h0M22.3 26.5h0M52.6 6.0h0M46.3 19.3h0M53.6 2.4h0M71.2 25.0h0M50.8 46.4h0M70.4 4.1h0M38.8 27.9h0M68.3 5.4h0M8.3 21.9h0M56.2 50.6h0M15.6 42.8h0M16.1 40.9h0M32.1 3.2h0M14.4 25.0h0M63.0 6.4h0M44.1 41.4h0M16.9 50.9h0M28.7 43.9h0M43.7 39.9h0M23.0 0.9h0M45.3 18.1h0M9.1 26.7h0M57.5 60.0h0M50.9 39.8h0M29.7 37.4h0M20.1 40.1h0M19.0 43.8h0M47.8 51.8h0M37.1 19.8h0M56.4 46.3h0M6.9 21.2h0M40.4 10.1h0M46.6 0.2h0M27.4 22.2h0M20.9 18.7h0M34.2 39.6h0M23.2 30.5h0M14.2 51.3h0M26.6 37.2h0M48.2 3.4h0M21.6 41.1h0M33.1 22.9h0M47.5 20.3h0M70.4 46.4h0M42.9 55.7h0M65.6 42.4h0M70.4 30.7h0M48.6 10.2h0M64.2 53.8h0M6.5 23.7h0M20.8 14.4h0M6.9 14.2h0M16.1 40.5h0M1.0 0.6h0M22.7 2.9h0M47.3 14.1h0M71.5 49.8h0M48.7 45.4h0M31.1 28.3h0M25.0 48.6h0M3.9 35.5h0M25.1 10.6h0M33.5 34.1h0M45.4 15.4h0M3.7 47.3h0M59.4 58.1h0M41.5 6.5h0M45.8 6.4h0M26.4 30.0h0M61.7 22.4h0M32.6 15.6h0M1.2 7.2h0M24.7 39.2h0M11.9 11.9h0M31.5 35.4h0M37.7 37.4h0M73.3 31.8h0M41.7 11.9h0M16.1 17.4h0M43.1 33.9h0M22.3 30.9h0M29.7 48.6h0M27.4 12.5h0M3.1 2.9h0M73.3 27.9h0M10.7 29.8h0M19.7 41.7h0M67.0 24.5h0M29.6 43.1h0M17.4 22.1h0M36.0 15.2h0M6.5 50.6h0M58.5 56.6h0M64.1 33.7h0M43.4 11.6h0M20.8 32.6h0M64.8 34.3h0M4.2 38.1h0" stroke="#7e665e" stroke-width="0.95" opacity=".8"/>
<path d="M24.9 41.6h0M27.8 27.1h0M30.3 43.0h0M63.0 18.8h0M67.1 40.8h0M54.4 40.0h0M13.2 29.6h0M39.2 1.7h0M27.7 41.0h0M59.1 23.0h0M52.4 2.6h0M15.3 45.6h0M21.7 49.8h0M43.2 50.3h0M43.2 51.0h0M1.1 40.8h0M33.7 51.4h0M27.2 8.6h0M26.7 3.2h0M54.3 57.9h0M10.2 0.2h0M54.1 17.6h0M18.9 19.1h0M68.5 29.8h0M40.6 12.2h0M16.0 16.6h0M21.8 50.3h0M31.6 12.7h0M74.9 52.7h0M70.6 32.1h0M67.7 5.2h0M20.8 0.2h0M56.5 11.8h0M37.5 31.7h0M60.0 48.6h0M39.3 32.0h0M18.8 30.5h0M11.1 46.7h0M42.1 11.6h0M14.4 49.6h0M2.2 30.6h0M49.6 32.0h0M56.8 23.7h0M70.9 51.2h0M68.6 35.7h0M40.7 14.8h0M37.6 23.1h0M65.3 17.1h0M20.7 43.5h0M11.5 22.7h0M63.5 22.1h0M23.7 45.1h0M15.6 46.1h0M60.5 52.6h0M24.4 10.5h0M52.4 34.7h0M42.4 47.9h0M0.3 26.9h0M51.5 44.3h0M68.2 17.4h0M66.9 39.8h0M52.1 51.7h0M56.4 54.2h0M37.3 50.5h0M50.1 11.8h0M49.5 41.5h0M50.5 41.5h0M33.2 20.7h0M66.2 32.6h0M35.6 43.0h0M30.2 18.3h0M55.9 24.8h0M33.6 42.8h0M44.6 32.6h0M68.3 37.5h0M18.8 27.8h0M56.8 42.3h0M55.7 7.1h0M2.5 37.1h0M25.7 46.0h0M9.1 39.4h0M67.6 34.0h0M13.1 13.9h0M67.0 9.6h0M34.5 37.9h0M56.7 36.4h0M44.6 38.0h0M51.5 55.1h0M56.7 26.1h0M58.7 19.4h0M24.1 40.7h0M38.9 21.8h0M53.8 27.8h0M23.5 38.9h0M31.9 5.8h0M6.8 27.7h0M26.4 55.6h0M46.1 20.7h0M26.6 18.9h0M46.0 40.4h0M32.7 55.7h0M55.6 5.3h0M37.9 36.1h0M19.9 20.3h0M49.1 16.4h0M4.5 10.4h0M58.8 26.1h0M50.4 33.5h0M8.7 32.9h0M69.3 23.0h0M41.7 1.7h0M71.0 36.4h0M66.5 48.5h0M68.2 37.7h0M49.9 54.6h0M66.0 5.5h0M44.2 22.6h0M6.1 33.2h0M27.0 55.7h0M49.7 35.7h0M42.9 6.3h0M23.0 41.0h0M67.3 19.5h0M50.9 40.7h0M19.7 12.7h0M58.9 47.9h0M32.7 34.3h0M2.7 21.2h0M2.9 9.9h0M1.8 41.8h0M61.4 17.7h0M72.1 2.9h0M65.7 40.6h0M28.6 53.1h0M25.2 54.3h0M46.5 17.1h0M9.7 37.9h0M68.2 47.6h0M50.8 13.2h0M50.3 0.7h0M47.6 19.5h0M20.4 57.1h0M1.5 16.8h0M68.3 19.5h0M27.8 46.2h0M34.5 14.3h0M65.9 41.1h0M16.9 37.3h0M37.3 29.0h0M3.8 57.7h0M46.6 55.9h0M59.6 44.3h0M16.4 21.4h0M50.0 45.1h0M39.1 8.3h0M40.3 47.8h0M0.7 15.5h0M35.4 12.3h0M35.4 57.1h0M34.4 25.6h0M30.8 16.8h0M5.1 24.2h0M54.1 5.1h0M17.5 51.5h0M50.6 39.5h0M5.2 44.1h0M39.8 18.4h0M46.2 50.0h0M38.3 13.0h0M58.5 8.9h0M10.3 13.5h0M4.6 20.5h0M53.9 59.2h0M34.4 15.5h0M57.6 51.3h0M13.0 21.1h0M20.8 40.4h0M18.3 52.3h0M40.2 51.8h0M56.1 58.3h0M66.8 32.6h0M62.9 39.1h0M29.2 53.1h0M6.6 9.2h0M69.0 21.9h0M6.0 34.4h0M69.0 51.8h0M31.8 46.6h0M21.5 12.8h0M19.8 37.8h0M68.8 47.5h0M54.4 57.7h0M65.8 53.1h0M35.3 38.3h0M28.9 57.7h0M30.1 40.4h0M29.8 51.4h0M71.9 49.4h0M19.3 24.3h0M61.1 52.6h0M13.6 34.8h0M38.5 50.8h0M55.8 56.3h0M9.6 4.4h0M55.2 26.8h0M45.2 3.2h0M5.3 31.2h0M16.6 41.1h0M45.7 41.9h0M27.0 44.8h0M44.9 44.5h0M6.0 31.7h0M58.5 33.9h0M56.3 23.5h0M71.1 34.2h0M45.1 42.7h0M35.5 34.8h0M57.8 6.9h0M52.1 24.0h0M51.5 19.0h0M45.6 42.5h0M56.7 36.9h0M62.7 1.7h0M56.7 53.8h0M44.2 6.0h0M13.1 40.1h0M59.5 31.6h0M30.4 41.3h0M42.5 14.5h0M16.0 19.6h0M57.1 52.7h0M21.2 33.8h0M69.3 38.0h0M45.4 1.9h0M22.9 56.3h0M67.3 3.3h0M39.5 26.1h0M32.3 44.4h0M3.1 35.6h0M29.3 48.8h0M10.7 20.7h0M51.6 19.6h0M40.1 42.1h0M51.5 33.9h0M29.8 12.8h0M10.7 41.4h0M37.0 35.4h0M46.8 48.3h0M0.1 45.3h0M10.5 17.3h0M18.9 54.7h0M18.5 31.3h0M57.5 55.0h0M10.1 16.6h0M22.4 44.0h0M2.4 28.7h0M20.9 31.8h0M47.6 35.1h0M46.9 22.1h0M16.5 43.1h0M32.0 42.6h0M18.4 55.8h0M52.0 45.6h0M30.8 5.4h0M20.6 42.9h0M20.8 25.2h0M11.9 11.7h0M31.4 45.3h0M0.3 46.1h0M30.8 49.4h0M6.3 34.4h0M12.4 7.4h0M17.1 50.2h0" stroke="#7c6260" stroke-width="1.45" opacity=".75"/>
<path d="M16.4 20.1h0M63.5 19.7h0M58.1 55.5h0M42.9 14.7h0M57.0 3.9h0M23.1 44.1h0M25.8 43.7h0M69.4 45.6h0M58.5 5.5h0M38.3 18.6h0M62.2 39.7h0M30.2 17.2h0M6.4 10.6h0M39.9 9.2h0M52.3 36.6h0M15.0 41.8h0M15.4 21.1h0M15.6 22.9h0M16.8 36.7h0M51.6 40.0h0M57.9 17.7h0M2.4 6.0h0M56.2 54.0h0M16.6 36.7h0M44.8 58.2h0M50.3 36.3h0M0.8 44.8h0M35.9 53.8h0M28.4 21.9h0M21.5 41.5h0M19.6 44.2h0M63.3 11.1h0M44.6 20.7h0M28.5 42.0h0M18.4 38.6h0M57.1 59.8h0M58.3 27.3h0M26.2 44.0h0M30.0 38.7h0M30.2 39.9h0M16.2 38.9h0M54.6 57.1h0M55.5 37.6h0M12.5 51.9h0M51.7 11.9h0M6.9 48.3h0M66.8 8.0h0M57.3 29.4h0M5.9 10.1h0M28.8 21.9h0M53.5 41.3h0M53.2 51.3h0M41.5 36.4h0M73.2 30.4h0M35.1 35.7h0M47.7 43.0h0M12.9 28.0h0M68.5 5.4h0M41.3 15.4h0M45.1 45.0h0M43.6 52.9h0M31.1 28.6h0M23.9 31.0h0M35.7 39.8h0M17.2 35.5h0M59.2 52.2h0M19.4 27.9h0M52.5 58.8h0M39.0 2.4h0M41.1 50.7h0M50.8 37.1h0M29.4 22.6h0M29.1 50.8h0M17.2 22.4h0M7.8 20.2h0M7.7 28.5h0M25.6 40.3h0M34.4 13.6h0M26.9 55.0h0M69.9 47.5h0M45.0 16.0h0M8.9 8.1h0M41.5 52.4h0M45.0 9.1h0M19.6 40.3h0M68.7 46.4h0M19.7 19.9h0M70.9 27.7h0M12.2 43.9h0M57.3 5.7h0M16.7 22.1h0M59.0 55.7h0M56.1 5.4h0M41.2 11.4h0M60.7 47.4h0M21.9 49.9h0M28.4 20.9h0M42.2 52.5h0M48.2 12.5h0M71.1 33.2h0M9.4 20.5h0M41.0 38.2h0M38.0 10.9h0M7.4 33.3h0M16.5 24.8h0M4.1 43.4h0M32.3 56.6h0M66.5 37.4h0M25.5 52.4h0M64.4 21.1h0M58.7 44.0h0M30.2 39.6h0M38.4 15.0h0M49.8 28.2h0M29.4 22.8h0M30.5 53.3h0M61.3 48.9h0M17.4 22.9h0M0.9 52.7h0M69.0 31.9h0M15.9 48.3h0M44.1 43.5h0M60.3 33.1h0M64.4 42.3h0M68.4 47.5h0M28.8 36.0h0M29.4 27.7h0M44.2 41.5h0M69.2 50.3h0M16.9 37.9h0M58.5 59.4h0M2.6 33.4h0M3.0 30.8h0M2.3 31.9h0M31.6 24.7h0M35.6 56.7h0M20.4 16.6h0M70.2 41.6h0M64.9 40.1h0M69.3 3.4h0" stroke="#965034" stroke-width="1.5" opacity=".8"/>
<g filter="url(#bh)" stroke="#d66a40" opacity=".72"><path d="M30.6 37.3l-0.0 0.9M71.6 33.5l0.0 1.5M11.2 38.0l-1.3 0.1M63.9 21.4l0.3 1.7M55.2 57.5l0.4 0.7M62.8 23.0l0.0 0.9M29.7 28.4l1.3 0.4M29.4 46.5l1.3 0.4M46.1 39.1l1.7 0.5M51.2 13.5l-0.3 1.1M6.7 11.0l1.6 0.1M70.7 4.6l1.1 1.0M61.2 10.5l-1.5 0.7M57.2 50.6l-0.1 0.6M37.0 31.8l0.5 0.2M14.8 43.2l0.6 0.6M22.0 40.3l0.0 0.4M70.1 47.2l-0.7 0.2M50.2 41.7l-1.5 1.0M53.6 19.3l-1.3 0.4M19.5 32.4l-0.0 0.6M18.3 47.1l-0.7 0.7M13.3 52.1l-1.0 0.4M14.3 42.6l-0.7 1.3M20.8 6.9l-0.3 0.3M46.0 10.1l0.2 0.5M12.8 42.2l1.2 0.5M45.7 17.8l0.2 0.9" stroke-width="2.4"/><path d="M18.0 41.0l0.9 0.9M13.9 4.6l0.4 1.2M54.7 54.8l-0.8 0.8M31.8 40.5l-0.8 0.3M50.5 52.2l0.8 0.3M6.6 15.3l0.5 0.9M17.2 17.7l-1.5 0.1M30.9 41.3l-1.2 0.6M66.1 47.0l-0.1 1.6" stroke-width="3.3"/></g>
<path d="M30.6 37.3l-0.0 0.9M71.6 33.5l0.0 1.5M11.2 38.0l-1.3 0.1M63.9 21.4l0.3 1.7M55.2 57.5l0.4 0.7M62.8 23.0l0.0 0.9M29.7 28.4l1.3 0.4M29.4 46.5l1.3 0.4M46.1 39.1l1.7 0.5M51.2 13.5l-0.3 1.1M6.7 11.0l1.6 0.1M70.7 4.6l1.1 1.0M61.2 10.5l-1.5 0.7M57.2 50.6l-0.1 0.6M37.0 31.8l0.5 0.2M14.8 43.2l0.6 0.6M22.0 40.3l0.0 0.4M70.1 47.2l-0.7 0.2M50.2 41.7l-1.5 1.0M53.6 19.3l-1.3 0.4M19.5 32.4l-0.0 0.6M18.3 47.1l-0.7 0.7M13.3 52.1l-1.0 0.4M14.3 42.6l-0.7 1.3M20.8 6.9l-0.3 0.3M46.0 10.1l0.2 0.5M12.8 42.2l1.2 0.5M45.7 17.8l0.2 0.9" stroke="#62281c" stroke-width="1.25"/>
<path d="M18.0 41.0l0.9 0.9M13.9 4.6l0.4 1.2M54.7 54.8l-0.8 0.8M31.8 40.5l-0.8 0.3M50.5 52.2l0.8 0.3M6.6 15.3l0.5 0.9M17.2 17.7l-1.5 0.1M30.9 41.3l-1.2 0.6M66.1 47.0l-0.1 1.6" stroke="#562014" stroke-width="1.9"/>
</g></svg>
<svg x="205.3" y="233.7" width="72.2" height="58.6" viewBox="0 0 72.2 58.6"><g filter="url(#tb)" fill="none" stroke-linecap="round">
<rect x="-3" y="-3" width="78.2" height="64.6" fill="#ffed9a"/>
<rect x="-3" y="-3" width="78.2" height="64.6" filter="url(#o6)" opacity="0.42"/>
<path d="M18.5 29.4h0M56.5 57.3h0M15.4 43.3h0M9.9 16.7h0M20.1 24.4h0M60.8 7.9h0M14.8 34.4h0M39.6 32.9h0M51.2 4.9h0M21.2 31.8h0M67.0 19.6h0M19.4 18.0h0M34.8 54.8h0M65.7 17.1h0M49.0 40.6h0M66.2 43.1h0M48.8 55.8h0M17.9 38.4h0M64.0 46.9h0M22.9 15.4h0M31.7 3.1h0M11.0 38.7h0M26.8 47.9h0M20.0 45.4h0M60.5 14.1h0M15.1 3.8h0M36.0 53.7h0M68.8 0.4h0M69.3 25.8h0M39.4 0.8h0M36.0 27.7h0M10.4 45.4h0M57.4 23.3h0M6.3 2.3h0M7.9 31.7h0M59.7 35.7h0M13.8 4.4h0M57.5 21.9h0M50.1 19.8h0M46.0 52.9h0M69.4 0.3h0M65.5 15.8h0M7.7 29.2h0M37.8 20.9h0M18.4 5.0h0M30.2 44.9h0M27.9 45.3h0M0.9 52.3h0M50.4 5.2h0M28.8 28.3h0M70.4 4.5h0M3.9 2.6h0M7.0 55.0h0M21.2 37.8h0M59.5 53.7h0M25.2 15.2h0M24.2 41.5h0M1.0 19.1h0M12.1 52.8h0M39.4 54.8h0M10.7 5.3h0M59.2 31.0h0M29.6 41.2h0M68.9 51.6h0M70.3 2.6h0M18.8 50.4h0M44.8 9.7h0M32.7 28.7h0M61.6 7.3h0M31.3 1.2h0M12.7 7.6h0M22.5 12.0h0M36.9 8.1h0M29.3 0.9h0M64.5 25.4h0M30.6 40.2h0M43.1 25.7h0M14.8 40.9h0M40.2 10.4h0M30.7 14.4h0M10.2 21.2h0M33.2 33.9h0M51.1 57.4h0M29.9 -0.2h0M13.8 58.1h0M45.4 68.2h0M46.4 14.9h0M12.5 33.9h0M51.0 43.9h0M32.3 8.0h0M9.0 36.5h0M8.0 1.1h0M46.2 47.1h0M23.3 20.2h0M66.8 14.7h0M43.7 11.0h0M31.5 20.0h0M20.1 13.2h0M39.3 19.9h0M12.0 23.0h0M30.0 38.1h0M34.3 38.1h0M27.7 48.0h0M25.3 2.7h0M9.5 23.9h0M33.0 50.8h0M18.9 13.2h0M55.2 4.6h0M51.9 34.6h0M53.8 20.8h0M25.9 28.5h0M41.0 22.3h0M61.4 20.7h0M14.4 48.6h0M40.1 33.6h0M38.6 13.2h0M9.4 26.3h0M35.0 43.1h0M30.8 39.2h0M32.0 56.3h0M16.5 33.3h0M19.2 43.8h0M62.5 20.4h0M19.7 3.5h0M41.0 23.5h0M64.1 4.5h0M29.9 5.9h0M58.0 48.7h0M42.6 10.2h0M72.6 21.2h0M41.1 41.0h0M39.2 46.2h0M56.7 27.6h0M46.2 54.2h0M48.7 54.8h0M14.1 14.5h0M14.9 50.5h0M40.9 45.4h0M7.0 9.6h0M22.6 44.6h0M31.5 45.4h0M70.3 42.5h0M27.0 0.2h0M27.3 5.1h0M44.8 23.4h0M35.3 41.8h0M58.3 55.9h0M30.8 29.8h0M58.2 6.6h0M23.2 49.3h0M28.9 2.1h0M8.8 -0.4h0M20.3 43.6h0M27.7 0.3h0M20.6 25.7h0M31.9 20.6h0M28.7 47.2h0M31.9 19.3h0M21.7 55.8h0M31.1 37.3h0M44.8 55.3h0M2.9 17.9h0M47.0 11.1h0M55.9 20.6h0M39.1 7.1h0M24.5 22.4h0M31.3 4.8h0M59.8 2.0h0M54.2 54.2h0M36.7 35.7h0M69.5 16.2h0M15.7 40.7h0M39.2 58.0h0M57.4 8.4h0M16.4 52.0h0M50.5 25.0h0M58.3 24.8h0M63.5 4.5h0M34.7 32.9h0M24.4 35.7h0M58.6 3.7h0M24.6 27.1h0M53.5 37.8h0M49.0 52.1h0M59.4 6.9h0M13.4 53.4h0M33.9 54.6h0M39.0 18.2h0M9.0 23.7h0M12.0 0.8h0M55.1 36.6h0M71.5 19.7h0M14.8 48.3h0M64.3 34.3h0M65.1 55.8h0M23.0 11.1h0M46.2 42.1h0M7.1 13.0h0M32.8 41.8h0M59.4 3.1h0M15.2 5.2h0M54.0 11.7h0M7.8 41.5h0M57.7 6.0h0M26.2 37.7h0M63.3 53.0h0M32.9 3.4h0M24.4 15.5h0M30.6 40.0h0M10.9 47.5h0M16.3 39.7h0M61.3 19.0h0M6.5 53.1h0M15.3 51.5h0M22.2 19.2h0M39.5 36.6h0M21.3 13.1h0M43.2 15.8h0M37.3 22.1h0M62.1 18.2h0M15.7 44.6h0M57.9 12.9h0M16.3 44.1h0M17.5 27.7h0M14.4 29.3h0M8.5 20.4h0M51.1 25.4h0M36.5 15.1h0M51.3 1.7h0M3.7 16.4h0" stroke="#f0b25c" stroke-width="2.0" opacity=".7"/>
<path d="M40.5 43.3h0M36.9 17.5h0M17.5 49.7h0M23.1 26.8h0M12.3 29.8h0M70.3 52.4h0M29.0 47.3h0M29.4 44.0h0M27.5 26.6h0M14.2 41.7h0M52.5 5.3h0M0.5 28.5h0M21.0 18.3h0M32.8 21.3h0M22.4 14.8h0M55.3 0.4h0M16.5 10.5h0M16.3 31.6h0M3.2 35.5h0M38.0 57.9h0M34.6 10.9h0M51.4 9.7h0M52.3 12.5h0M69.4 59.3h0M22.5 11.1h0M0.1 39.7h0M15.4 45.6h0M22.1 46.5h0M39.5 27.9h0M31.4 46.0h0M12.3 52.9h0M42.1 10.2h0M69.3 34.7h0M26.1 24.0h0M29.5 3.7h0M54.0 36.5h0M46.8 7.6h0M45.8 15.8h0M59.0 28.0h0M36.8 41.5h0M30.0 -1.1h0M21.9 34.1h0M12.6 44.1h0M7.9 7.9h0M62.2 26.0h0M37.7 56.5h0M20.3 3.3h0M65.6 1.6h0M68.4 19.9h0M34.5 20.7h0M13.1 53.2h0M24.3 47.4h0M31.4 21.0h0M12.2 19.8h0M36.4 21.5h0M39.3 58.4h0M26.8 41.3h0M30.9 38.4h0M48.0 54.5h0M67.7 0.3h0M38.6 15.9h0M37.3 22.2h0M62.9 37.1h0M67.1 57.6h0M57.8 17.9h0M34.3 21.2h0M57.5 23.0h0M55.6 16.3h0M25.2 15.5h0M56.4 4.6h0M40.8 62.2h0M61.0 19.5h0M34.9 12.4h0M15.9 42.2h0M16.1 18.7h0M38.5 13.5h0M38.5 13.4h0M65.4 24.1h0M37.3 47.2h0M57.1 49.3h0M11.8 0.5h0M54.6 9.3h0M23.9 45.9h0M1.2 36.8h0M39.8 59.3h0M6.8 54.8h0M12.1 48.6h0M0.0 2.0h0M20.7 15.6h0M36.2 44.1h0M18.4 15.6h0M29.8 41.9h0M70.0 34.0h0M34.5 48.4h0M9.2 8.7h0M26.0 45.4h0M29.9 -1.0h0M13.6 26.1h0M2.7 14.4h0M56.6 44.1h0M37.5 55.8h0M17.5 44.3h0M38.1 25.2h0M22.6 12.1h0M55.0 35.3h0M51.3 45.1h0M0.3 41.5h0M66.6 1.5h0M25.2 24.1h0M64.2 15.5h0M9.0 29.3h0M29.7 54.9h0M31.2 51.2h0M1.9 24.2h0M6.4 30.7h0M35.8 4.4h0M13.8 17.8h0M48.3 37.3h0M49.6 15.5h0M27.3 11.3h0M67.9 9.3h0M32.3 46.7h0M31.4 41.7h0M29.6 37.0h0M49.7 53.4h0M33.7 9.4h0M20.5 47.4h0M46.3 56.8h0M58.1 40.8h0M48.8 17.3h0M39.6 35.9h0M5.5 26.6h0M23.4 16.3h0M50.1 51.8h0M31.6 11.7h0M53.9 42.2h0M25.5 0.2h0M33.7 2.0h0M60.2 46.2h0M31.7 3.4h0M24.2 16.6h0M10.0 41.5h0M44.5 50.9h0M25.2 16.7h0M38.7 34.1h0M36.3 19.4h0M1.3 30.2h0M12.6 9.8h0M55.5 14.5h0M32.9 42.0h0M21.5 37.9h0M18.5 14.4h0M38.7 52.0h0M61.9 52.4h0M9.1 8.5h0M48.6 51.5h0M70.8 11.5h0M32.8 17.6h0M33.9 14.5h0M7.4 4.7h0M35.1 11.3h0M19.8 18.4h0M64.6 30.1h0M37.9 39.6h0M19.3 11.4h0M53.5 8.0h0M12.3 18.2h0M9.5 38.1h0M30.4 33.5h0M9.6 1.0h0M3.9 43.7h0M21.5 16.0h0M39.1 -3.8h0M48.9 11.9h0M22.4 51.7h0M65.6 48.9h0M31.9 -1.8h0M24.4 8.9h0M52.2 12.4h0M1.0 44.5h0M71.2 33.9h0M49.3 51.6h0M36.4 42.2h0M10.9 54.9h0M49.5 53.8h0M14.3 14.7h0M63.2 54.1h0M8.8 11.6h0M50.4 5.9h0M28.0 38.3h0M66.3 26.9h0M67.6 20.1h0M37.1 33.3h0M34.8 42.6h0M49.3 36.9h0M58.8 24.2h0M69.2 46.5h0M51.2 39.0h0M67.8 27.8h0M16.1 46.3h0M21.4 14.0h0M43.2 12.2h0M42.7 7.8h0M39.4 18.8h0M9.3 6.9h0M30.8 55.6h0M43.9 46.4h0M8.1 12.0h0M58.8 19.8h0M42.1 35.7h0M65.0 8.9h0M54.3 39.2h0M23.3 8.4h0M67.0 21.8h0M33.4 1.5h0M34.1 15.4h0M34.4 19.5h0M25.1 37.1h0M2.6 24.5h0M65.8 28.4h0M18.9 10.2h0M45.1 1.2h0M16.3 3.1h0M25.9 27.6h0M0.1 27.0h0M68.3 34.3h0M37.7 38.6h0M22.5 37.0h0M22.6 56.0h0M49.6 51.9h0M17.5 39.3h0M52.0 14.5h0M41.2 20.5h0M26.4 45.5h0M14.5 52.2h0M32.1 -2.0h0M15.3 48.1h0M15.1 34.7h0M64.2 5.9h0M5.1 16.6h0M54.9 3.9h0M32.6 50.8h0M41.1 21.8h0M26.1 40.0h0M1.0 9.7h0M8.8 31.4h0M63.8 8.6h0M62.2 23.1h0M66.2 34.7h0M45.9 17.4h0M5.5 23.9h0M19.6 47.0h0M65.4 9.9h0M28.9 19.4h0M67.6 0.2h0M14.7 50.5h0M38.0 58.1h0M47.5 16.0h0M42.9 57.9h0M51.5 48.9h0M58.0 12.7h0M33.2 11.9h0M5.3 26.9h0M38.4 24.3h0M8.3 29.7h0M11.7 2.7h0M39.8 2.7h0M66.1 35.7h0M2.0 57.6h0M59.6 47.7h0M53.0 35.9h0M63.5 41.8h0M73.1 14.0h0M10.3 52.5h0M9.6 29.1h0M62.3 24.4h0M65.2 7.5h0M68.0 54.8h0M67.4 34.5h0M15.5 44.6h0M39.0 45.7h0M35.5 44.8h0M71.4 27.0h0M50.7 30.2h0M47.5 48.4h0M18.6 5.0h0M23.4 14.8h0M67.1 29.0h0M64.1 54.9h0M8.2 39.0h0M65.9 55.6h0M56.6 27.8h0M55.9 15.1h0M8.6 36.6h0M61.5 45.2h0M9.3 17.4h0M55.3 30.8h0M4.2 13.8h0M55.7 53.2h0M14.0 19.8h0M56.9 57.1h0M39.8 20.4h0M39.2 2.8h0M48.7 55.9h0M34.3 4.7h0M39.1 18.9h0M40.2 41.3h0M0.7 30.1h0M8.7 33.2h0M67.3 52.2h0M58.4 37.6h0M64.5 42.3h0M3.9 9.1h0M25.4 15.1h0M22.9 35.3h0M38.8 16.4h0M59.5 23.4h0M27.6 28.4h0M12.2 1.0h0M40.9 48.0h0M33.0 50.2h0M56.9 23.2h0M41.4 32.9h0M63.3 48.3h0M13.7 34.0h0M62.4 16.4h0M27.2 55.7h0M25.0 45.3h0M23.8 34.2h0M9.4 10.8h0M36.6 5.8h0M14.3 5.8h0M64.6 36.6h0M29.2 46.1h0M35.3 41.9h0M4.8 35.5h0M63.9 8.2h0M49.9 43.2h0M35.7 3.9h0M57.3 38.9h0M46.7 56.8h0M50.0 14.5h0M48.8 59.5h0M21.7 44.1h0M18.0 53.0h0M25.6 1.6h0M26.8 23.8h0M1.8 42.7h0M1.0 52.7h0M61.9 6.7h0M23.8 28.1h0M45.4 13.1h0M13.1 53.9h0M54.0 40.5h0M31.9 41.0h0M36.2 41.7h0M60.3 6.4h0M32.5 2.7h0M49.3 29.8h0M22.8 9.5h0M39.6 36.5h0M59.1 22.8h0M58.0 13.6h0M21.5 21.5h0M21.7 43.3h0M11.7 57.0h0M1.9 8.0h0M61.5 15.0h0M19.7 19.0h0M41.0 34.2h0M50.6 53.0h0M58.9 3.0h0M47.2 42.2h0M4.6 24.3h0M71.5 23.9h0M29.4 40.8h0M62.7 27.4h0M55.2 20.4h0M32.5 44.5h0M23.9 44.1h0M41.5 36.2h0M13.0 10.3h0M41.3 16.5h0M59.2 18.9h0M20.9 44.8h0M66.0 58.1h0M57.8 13.5h0M11.8 16.6h0M54.0 1.6h0M49.9 14.1h0M61.1 19.3h0M11.1 26.5h0M15.5 33.5h0M12.8 23.9h0M11.3 17.0h0M37.0 58.5h0M49.4 14.0h0M10.5 33.1h0M20.9 22.5h0M60.7 21.5h0M20.9 58.6h0M52.5 0.1h0M26.1 28.8h0M27.1 57.7h0M58.9 32.5h0M27.9 41.9h0M34.8 13.0h0M57.0 48.6h0M58.1 28.7h0M26.7 8.9h0M15.5 43.1h0M53.6 4.4h0M57.8 0.1h0M36.2 2.0h0M40.5 38.1h0M18.5 45.4h0M57.3 37.4h0M45.2 41.0h0M9.0 22.4h0M55.8 29.8h0M15.1 30.5h0M58.7 33.1h0M29.7 39.4h0M38.8 4.6h0M10.8 34.3h0M62.6 35.5h0M37.8 0.7h0M45.1 34.6h0M55.9 4.8h0M68.2 7.1h0M66.7 27.7h0M26.8 8.4h0M40.4 1.3h0M33.7 3.4h0M70.8 26.2h0M58.8 35.1h0M6.3 58.3h0M39.3 10.6h0M33.7 43.4h0M53.4 7.3h0M21.8 48.6h0M16.7 48.1h0M70.4 35.8h0M68.0 48.2h0M42.5 58.6h0M22.7 13.9h0M30.9 40.3h0M25.5 1.1h0M23.6 37.8h0M46.3 4.3h0M35.7 50.3h0M42.3 17.3h0M32.5 50.2h0M43.6 24.2h0M30.9 14.9h0M72.7 22.3h0M53.3 43.1h0M71.7 39.6h0M37.8 13.2h0M48.6 10.1h0M33.0 23.1h0M55.5 11.5h0M42.8 52.1h0M19.0 0.6h0M64.1 36.9h0M31.8 41.4h0M70.6 24.2h0M34.1 42.0h0M0.6 24.1h0M39.9 26.3h0M36.8 50.8h0M53.1 48.7h0M60.0 22.2h0M60.4 37.1h0M42.5 50.3h0M51.7 55.7h0M52.9 2.1h0M72.0 43.3h0M52.9 48.2h0M62.8 49.6h0M20.5 32.1h0M8.9 19.1h0M21.4 28.4h0M22.9 39.2h0M68.2 5.8h0M48.8 14.2h0M40.5 23.3h0M37.8 0.1h0M66.8 33.7h0M56.7 3.1h0M0.0 47.0h0M0.3 17.7h0M23.0 1.3h0M15.3 45.9h0M34.8 -0.0h0M20.9 34.3h0M31.0 31.5h0M0.9 41.6h0M3.1 13.8h0M40.1 5.0h0M20.9 2.2h0M61.0 44.6h0M70.4 40.7h0M49.2 58.7h0M46.6 19.4h0M4.4 7.8h0M7.1 47.9h0M39.2 38.0h0M64.7 24.9h0M43.7 9.9h0M35.6 10.6h0M40.7 23.5h0M68.5 -0.3h0M52.6 13.0h0M49.6 52.4h0M39.6 16.8h0M71.0 49.3h0M20.6 21.2h0M21.7 17.8h0M9.5 22.3h0M29.5 1.9h0M33.0 0.0h0M13.7 46.2h0M43.3 40.5h0M66.9 26.2h0M54.4 56.6h0M42.6 17.1h0M30.2 10.3h0M66.0 20.1h0M0.3 39.6h0M54.2 14.6h0M48.6 55.0h0M42.0 15.0h0M15.0 15.4h0M22.8 14.1h0M70.0 46.7h0M13.3 24.4h0M23.7 42.0h0M1.5 10.6h0M3.2 46.8h0M3.3 33.1h0M54.9 16.6h0M41.8 20.1h0M33.5 8.4h0M11.4 19.1h0M69.2 28.3h0" stroke="#7e665e" stroke-width="0.95" opacity=".8"/>
<path d="M37.8 35.6h0M67.0 24.8h0M60.2 45.8h0M3.3 47.9h0M51.9 18.5h0M30.6 46.9h0M16.1 49.6h0M20.2 36.7h0M12.8 32.7h0M44.6 13.3h0M37.7 41.4h0M32.5 8.0h0M71.7 2.1h0M9.9 30.0h0M60.1 42.3h0M16.5 4.2h0M8.4 23.5h0M39.1 50.1h0M66.7 28.6h0M57.2 26.5h0M20.0 34.3h0M50.3 17.1h0M70.4 22.1h0M17.6 5.1h0M17.1 49.5h0M37.1 16.2h0M23.4 13.6h0M26.8 41.0h0M44.1 18.8h0M26.1 1.6h0M69.5 5.9h0M45.1 50.0h0M55.1 17.1h0M1.3 34.8h0M43.8 60.6h0M66.6 27.5h0M62.4 2.5h0M60.6 26.9h0M2.3 25.3h0M66.0 21.9h0M42.3 39.0h0M19.3 0.7h0M22.5 27.5h0M54.4 25.8h0M5.1 5.9h0M48.9 36.6h0M62.0 1.1h0M40.7 27.0h0M32.6 28.6h0M37.4 36.3h0M21.9 30.9h0M26.9 3.2h0M69.1 3.7h0M30.3 31.1h0M31.5 56.5h0M49.0 29.9h0M6.6 29.9h0M70.0 35.2h0M28.4 17.2h0M54.0 13.1h0M31.3 26.5h0M14.1 58.3h0M15.3 19.0h0M39.1 55.3h0M28.6 22.1h0M5.0 22.6h0M71.5 48.2h0M65.8 29.5h0M40.0 57.1h0M17.7 45.4h0M60.2 40.7h0M18.2 44.9h0M59.7 5.6h0M35.3 2.8h0M51.2 23.6h0M29.8 9.7h0M41.3 28.1h0M58.6 33.0h0M60.8 38.2h0M30.3 39.6h0M45.8 50.8h0M28.3 49.1h0M65.6 44.9h0M59.7 40.5h0M27.9 15.0h0M28.2 16.5h0M60.7 47.2h0M16.2 39.1h0M42.7 57.6h0M11.0 19.0h0M69.6 27.4h0M67.5 53.0h0M18.5 54.3h0M40.8 16.6h0M7.7 54.9h0M5.3 35.8h0M40.4 61.3h0M21.6 53.2h0M1.6 43.0h0M12.9 9.6h0M30.7 0.6h0M15.4 44.5h0M59.6 7.5h0M56.9 44.2h0M16.2 43.1h0M30.4 37.8h0M61.6 52.2h0M8.5 44.3h0M61.1 18.4h0M2.1 15.9h0M5.3 13.2h0M18.2 5.8h0M36.5 5.3h0M18.9 15.8h0M69.2 3.3h0M58.7 37.7h0M31.4 40.3h0M13.6 15.4h0M41.0 5.2h0M60.8 42.2h0M54.1 50.6h0M21.4 19.1h0M13.6 6.9h0M48.2 56.8h0M69.5 26.6h0M57.8 55.8h0M19.4 34.9h0M5.3 22.2h0M62.6 21.8h0M18.3 47.1h0M53.5 13.3h0M57.8 44.7h0M58.3 5.0h0M45.5 12.8h0M69.4 36.3h0M47.7 52.7h0M45.2 10.0h0M33.9 44.4h0M22.8 25.4h0M43.5 55.5h0M52.4 46.8h0M71.6 18.7h0M16.0 28.3h0M40.9 52.1h0M39.9 52.9h0M22.3 38.4h0M47.9 37.1h0M33.8 38.7h0M35.0 2.4h0M26.1 47.8h0M38.8 38.4h0M38.5 22.2h0M9.6 31.1h0M50.0 27.0h0M3.3 40.8h0M32.0 24.4h0M22.8 12.9h0M30.0 11.6h0M42.9 0.2h0M38.4 26.7h0M23.1 58.2h0M42.5 18.4h0M9.2 43.2h0M31.2 3.2h0M52.2 16.5h0M17.7 45.0h0M9.1 46.4h0M4.7 43.5h0M49.3 13.1h0M52.4 3.0h0M64.5 0.2h0M53.4 -0.9h0M69.0 33.6h0M34.8 10.6h0M23.8 18.8h0M11.3 16.8h0M24.9 51.9h0M37.1 16.0h0M0.2 6.4h0M1.4 42.4h0M65.3 44.0h0M38.6 40.3h0M46.6 19.0h0M25.6 31.6h0M20.7 58.4h0M68.7 22.6h0M22.0 19.1h0M22.1 48.7h0M12.2 26.0h0M71.5 54.4h0M68.6 32.3h0M65.3 24.8h0M37.5 14.6h0M18.8 49.0h0M3.0 17.2h0M12.5 22.9h0M6.3 16.8h0M20.5 34.9h0M15.6 18.6h0M8.3 28.0h0M26.3 33.1h0M53.7 32.2h0M42.2 55.5h0M39.6 1.4h0M35.0 23.3h0M16.8 49.0h0M41.0 10.1h0M12.3 18.2h0M36.4 19.8h0M53.9 3.3h0M4.9 22.2h0M5.2 42.9h0M15.6 1.7h0M66.4 0.9h0M49.5 24.3h0M59.0 28.0h0M35.7 48.9h0M59.0 48.8h0M15.6 35.6h0M13.7 3.9h0M39.4 34.3h0M48.3 16.6h0M58.1 7.2h0M48.1 5.8h0M24.0 0.9h0M0.6 35.3h0M33.8 5.0h0M17.2 47.1h0M40.6 36.7h0M59.4 0.1h0M9.2 30.9h0M9.2 4.8h0M36.6 41.8h0M54.6 35.8h0M11.2 14.5h0M10.7 38.3h0M14.7 2.6h0M33.0 32.4h0M25.1 22.3h0M68.2 5.4h0M26.7 24.0h0M43.4 37.9h0M63.3 58.8h0M20.2 13.9h0M58.2 6.9h0M41.1 46.3h0M47.7 52.4h0M3.9 44.2h0M68.3 53.9h0M69.3 56.0h0M23.1 38.9h0M22.3 37.0h0M32.9 20.1h0M1.7 16.2h0M14.9 32.2h0M44.6 33.1h0M38.8 9.7h0M31.4 51.7h0M6.2 7.9h0M61.0 41.8h0M37.9 17.0h0M7.9 30.2h0M70.7 9.9h0M21.4 30.2h0M48.1 53.3h0M25.1 53.1h0M11.1 43.6h0M48.3 51.2h0M1.1 7.4h0M8.9 20.4h0M25.6 47.0h0M55.7 46.6h0M3.1 42.4h0" stroke="#7c6260" stroke-width="1.45" opacity=".75"/>
<path d="M65.2 56.5h0M-0.2 32.1h0M62.5 0.6h0M59.4 21.4h0M34.5 43.7h0M71.7 18.0h0M10.6 30.3h0M33.2 45.2h0M43.0 33.5h0M25.3 47.9h0M14.3 46.7h0M9.0 4.3h0M15.4 46.1h0M64.3 20.0h0M35.1 14.3h0M37.0 2.5h0M41.9 59.7h0M56.9 3.0h0M67.5 30.3h0M18.1 42.0h0M36.2 2.6h0M8.4 23.6h0M74.1 17.9h0M2.0 30.8h0M6.4 10.8h0M29.1 35.3h0M55.3 22.5h0M36.0 18.2h0M30.2 1.0h0M35.7 52.0h0M68.5 3.3h0M26.5 3.4h0M33.8 -1.5h0M63.4 6.0h0M49.8 8.9h0M18.4 8.4h0M13.9 32.8h0M19.7 31.6h0M9.3 14.9h0M27.3 43.7h0M46.3 11.6h0M40.4 34.7h0M12.6 5.7h0M8.9 9.9h0M62.9 20.7h0M69.3 36.2h0M59.9 48.7h0M36.8 0.6h0M33.1 41.3h0M69.0 18.1h0M65.4 40.7h0M65.0 20.2h0M28.7 -0.7h0M24.7 31.8h0M67.6 29.4h0M37.6 18.5h0M10.9 20.2h0M63.4 19.6h0M49.4 14.4h0M72.4 20.8h0M43.6 33.5h0M17.8 7.8h0M19.3 6.2h0M65.3 54.9h0M70.2 33.0h0M6.4 10.7h0M45.5 56.1h0M32.1 33.3h0M72.0 19.1h0M33.1 41.0h0M33.5 4.1h0M33.3 1.6h0M52.0 25.2h0M8.8 41.7h0M52.4 30.9h0M23.3 20.9h0M11.8 1.0h0M38.4 19.7h0M11.6 19.4h0M19.6 45.4h0M19.1 38.1h0M11.2 5.2h0M46.6 52.0h0M66.1 35.1h0M16.3 20.5h0M21.0 22.2h0M6.6 10.1h0M33.1 3.6h0M8.2 13.9h0M63.9 27.7h0M46.6 2.7h0M47.9 53.0h0M3.2 40.6h0M59.0 19.4h0M28.2 40.0h0M70.3 48.0h0M64.4 55.6h0M33.0 47.7h0M56.3 12.8h0M10.6 29.1h0M15.9 52.0h0M73.7 19.7h0M22.5 13.7h0M33.3 26.4h0M4.4 18.2h0M23.2 40.5h0M35.8 18.3h0M30.4 2.9h0M6.3 55.0h0M1.7 25.7h0M8.3 43.6h0M63.8 19.8h0M51.1 35.5h0M63.1 20.7h0M25.0 47.5h0M51.4 34.1h0M31.4 -2.4h0M18.6 38.3h0M51.8 10.3h0M24.2 16.4h0M60.8 52.9h0M28.5 0.1h0M64.6 24.8h0M35.8 40.1h0M3.3 11.1h0M65.9 51.5h0M37.5 13.7h0M13.6 44.7h0M70.3 17.8h0M61.8 19.7h0M32.6 44.3h0M57.5 23.9h0M29.6 16.3h0M68.2 30.0h0M17.8 42.2h0M41.7 21.0h0M6.5 12.7h0M26.7 26.4h0M48.6 36.2h0M51.5 54.1h0M61.5 31.2h0M24.4 22.3h0M34.4 16.8h0M22.5 49.4h0M24.4 26.2h0M20.6 29.7h0M0.9 35.1h0M34.4 4.6h0M58.5 1.1h0M37.4 13.3h0" stroke="#965034" stroke-width="1.5" opacity=".8"/>
<g filter="url(#bh)" stroke="#d66a40" opacity=".72"><path d="M16.4 46.9l-1.4 0.6M60.4 57.4l0.8 1.4M33.7 40.9l0.8 0.4M0.7 30.7l0.6 0.6M59.9 22.7l-1.2 0.4M39.4 48.7l1.6 0.1M44.2 35.9l-0.6 1.1M5.1 32.8l1.1 1.0M67.7 33.7l-0.8 1.2M38.9 36.7l-0.4 0.7M66.5 57.2l-0.2 1.6M15.1 46.2l-0.4 0.1M60.3 55.6l-0.7 0.7M11.0 36.1l-0.6 0.5M9.8 37.0l-0.0 0.8M17.0 13.6l0.4 0.1M20.9 16.5l-0.4 0.4M59.9 4.2l-0.7 0.3M53.5 28.3l-1.2 0.5M12.1 30.9l-0.6 0.2M33.5 43.3l-1.3 0.0M10.4 30.9l0.1 0.5M43.0 55.2l-1.1 0.1M37.4 1.4l-0.1 0.4M21.5 18.4l0.7 0.8M46.9 56.6l1.4 0.2M19.0 1.8l-1.2 0.3M31.0 4.1l0.5 0.5M8.1 1.3l-1.2 0.5M62.6 6.9l-1.3 0.0" stroke-width="2.4"/><path d="M56.3 33.5l-1.5 0.4M32.1 41.1l-1.6 0.3M24.8 46.3l-1.5 0.4M31.1 43.8l-0.0 1.4M28.4 2.0l-1.7 0.5M38.0 20.7l1.4 1.0M3.2 32.2l0.7 0.0M34.3 50.9l-0.2 1.7M61.2 22.9l-0.4 1.5M57.2 30.8l-1.2 1.2" stroke-width="3.3"/></g>
<path d="M16.4 46.9l-1.4 0.6M60.4 57.4l0.8 1.4M33.7 40.9l0.8 0.4M0.7 30.7l0.6 0.6M59.9 22.7l-1.2 0.4M39.4 48.7l1.6 0.1M44.2 35.9l-0.6 1.1M5.1 32.8l1.1 1.0M67.7 33.7l-0.8 1.2M38.9 36.7l-0.4 0.7M66.5 57.2l-0.2 1.6M15.1 46.2l-0.4 0.1M60.3 55.6l-0.7 0.7M11.0 36.1l-0.6 0.5M9.8 37.0l-0.0 0.8M17.0 13.6l0.4 0.1M20.9 16.5l-0.4 0.4M59.9 4.2l-0.7 0.3M53.5 28.3l-1.2 0.5M12.1 30.9l-0.6 0.2M33.5 43.3l-1.3 0.0M10.4 30.9l0.1 0.5M43.0 55.2l-1.1 0.1M37.4 1.4l-0.1 0.4M21.5 18.4l0.7 0.8M46.9 56.6l1.4 0.2M19.0 1.8l-1.2 0.3M31.0 4.1l0.5 0.5M8.1 1.3l-1.2 0.5M62.6 6.9l-1.3 0.0" stroke="#62281c" stroke-width="1.25"/>
<path d="M56.3 33.5l-1.5 0.4M32.1 41.1l-1.6 0.3M24.8 46.3l-1.5 0.4M31.1 43.8l-0.0 1.4M28.4 2.0l-1.7 0.5M38.0 20.7l1.4 1.0M3.2 32.2l0.7 0.0M34.3 50.9l-0.2 1.7M61.2 22.9l-0.4 1.5M57.2 30.8l-1.2 1.2" stroke="#562014" stroke-width="1.9"/>
</g></svg>
<svg x="282.8" y="233.7" width="72.2" height="58.6" viewBox="0 0 72.2 58.6"><g filter="url(#tb)" fill="none" stroke-linecap="round">
<rect x="-3" y="-3" width="78.2" height="64.6" fill="#ffec98"/>
<rect x="-3" y="-3" width="78.2" height="64.6" filter="url(#o7)" opacity="0.42"/>
<path d="M21.1 47.6h0M14.3 47.9h0M15.7 50.6h0M23.1 34.8h0M31.8 30.5h0M71.4 20.1h0M55.3 35.3h0M36.0 29.2h0M63.1 43.9h0M42.1 41.5h0M34.6 39.3h0M34.4 35.0h0M44.2 43.3h0M67.8 23.3h0M42.1 59.7h0M17.2 46.9h0M28.2 15.3h0M3.0 30.1h0M62.3 40.8h0M30.6 20.8h0M59.1 48.3h0M25.2 20.4h0M20.3 19.7h0M31.4 37.1h0M29.2 9.2h0M35.2 53.0h0M57.0 46.2h0M22.8 14.5h0M65.8 10.7h0M58.8 26.6h0M52.0 2.9h0M14.8 19.3h0M39.0 45.6h0M17.9 4.2h0M51.3 -0.2h0M36.3 38.7h0M49.3 13.9h0M29.8 36.2h0M45.1 17.9h0M49.9 39.1h0M7.3 13.7h0M72.0 1.4h0M8.5 11.6h0M20.7 57.4h0M69.6 50.8h0M45.2 11.6h0M62.3 4.5h0M46.3 51.3h0M15.8 56.0h0M15.4 10.6h0M19.6 14.4h0M45.7 37.5h0M37.1 28.0h0M1.7 38.3h0M12.6 56.0h0M36.3 37.5h0M40.9 59.9h0M46.8 6.4h0M59.2 14.0h0M35.1 16.1h0M9.8 43.3h0M14.6 11.5h0M28.2 50.8h0M10.0 44.3h0M10.1 39.6h0M65.3 4.6h0M60.8 22.2h0M22.4 31.7h0M13.1 7.6h0M46.7 35.1h0M68.1 11.7h0M35.3 30.3h0M7.3 19.8h0M60.0 3.9h0M47.0 14.9h0M12.1 11.4h0M21.2 8.7h0M46.9 21.0h0M33.1 44.7h0M59.0 20.0h0M47.8 1.9h0M41.5 18.3h0M25.6 56.6h0M47.4 10.2h0M21.3 42.7h0M69.7 54.7h0M54.6 5.4h0M33.7 58.5h0M60.8 44.5h0M54.2 25.0h0M0.7 35.4h0M58.0 0.3h0M58.5 6.6h0M45.9 2.7h0M21.0 21.4h0M11.8 10.5h0M7.4 13.7h0M65.3 10.7h0M23.4 21.4h0M18.4 13.0h0M1.5 6.1h0M0.6 22.2h0M54.0 8.0h0M4.0 21.1h0M9.1 35.1h0M46.0 25.0h0M60.2 25.2h0M68.5 50.5h0M2.8 8.2h0M42.9 12.9h0M14.8 45.6h0M6.9 5.5h0M35.0 34.7h0M14.9 4.6h0M22.2 14.4h0M23.7 57.2h0M35.0 13.6h0M71.5 0.8h0M23.8 61.9h0M54.2 48.1h0M33.1 37.3h0M63.0 48.7h0M60.1 40.0h0M21.4 30.3h0M29.9 27.6h0M66.5 44.0h0M47.6 22.3h0M40.1 26.1h0M57.8 32.9h0M30.7 15.0h0M20.5 11.4h0M20.5 29.9h0M49.0 10.0h0M26.4 50.7h0M64.9 10.0h0M11.1 39.4h0M31.8 8.3h0M66.1 50.4h0M3.4 5.7h0M60.9 21.8h0M40.7 24.3h0M67.9 -1.2h0M69.2 -6.1h0M11.7 13.8h0M45.5 0.1h0M63.3 18.4h0M24.1 19.7h0M32.0 31.7h0M3.8 33.6h0M69.9 54.5h0M53.6 38.5h0M17.2 33.3h0M12.5 40.0h0M26.6 48.1h0M40.1 33.3h0M48.3 40.7h0M36.6 16.2h0M50.0 38.0h0M24.7 2.7h0M9.1 49.3h0M45.2 35.9h0M31.1 53.5h0M6.9 51.5h0M11.2 22.9h0M65.2 0.9h0M59.1 45.9h0M39.7 56.9h0M68.6 30.5h0M56.8 46.0h0M61.7 45.8h0M37.7 26.7h0M12.6 4.1h0M12.8 51.2h0M21.9 14.6h0M63.1 0.3h0M71.7 5.4h0M60.1 4.3h0M21.2 12.7h0M34.2 35.0h0M16.6 48.1h0M67.4 43.5h0M59.8 33.1h0M2.0 20.3h0M11.3 18.6h0M35.7 37.4h0M22.2 42.2h0M41.5 44.5h0M3.6 19.0h0M54.3 -1.7h0M13.1 17.5h0M67.5 43.4h0M7.5 17.8h0M61.0 32.9h0M67.1 10.3h0M15.4 54.3h0M61.7 31.8h0M44.6 48.6h0M30.3 15.4h0M11.7 55.3h0M59.5 32.3h0" stroke="#f0b25c" stroke-width="2.0" opacity=".7"/>
<path d="M56.0 24.2h0M48.1 42.3h0M22.7 20.0h0M1.9 30.8h0M44.3 43.0h0M52.2 24.4h0M50.3 19.0h0M61.5 5.0h0M15.5 51.7h0M62.5 47.8h0M25.6 32.3h0M56.3 55.4h0M71.2 48.1h0M9.7 5.5h0M58.5 18.9h0M10.4 24.6h0M41.6 24.3h0M62.0 27.2h0M44.4 9.6h0M2.8 6.2h0M66.0 51.1h0M23.4 30.1h0M56.6 25.2h0M33.3 44.5h0M49.6 18.8h0M17.0 21.4h0M9.3 20.0h0M50.0 20.1h0M4.4 28.3h0M3.9 14.5h0M-3.0 9.7h0M32.5 12.5h0M60.4 12.7h0M57.4 8.2h0M50.0 46.3h0M1.4 6.9h0M66.8 47.2h0M16.0 13.5h0M64.8 44.3h0M54.4 32.3h0M6.2 29.1h0M62.9 29.7h0M7.6 32.5h0M22.8 22.9h0M42.8 36.7h0M49.9 1.2h0M61.9 25.8h0M71.9 7.9h0M1.9 54.7h0M59.9 4.9h0M29.4 2.9h0M17.4 5.2h0M31.9 35.7h0M43.8 11.8h0M67.0 49.0h0M57.9 14.9h0M15.3 49.8h0M45.1 0.6h0M50.6 2.6h0M39.2 60.3h0M63.5 36.4h0M57.1 54.8h0M33.7 27.9h0M11.5 2.2h0M26.5 23.7h0M69.0 57.4h0M27.8 41.7h0M6.2 58.2h0M42.9 58.4h0M10.8 14.1h0M7.6 55.6h0M21.2 38.9h0M50.9 15.4h0M17.9 19.1h0M39.4 37.6h0M44.3 8.0h0M4.2 12.2h0M64.7 17.1h0M42.9 60.0h0M53.3 38.7h0M9.4 55.8h0M40.8 47.4h0M40.3 34.0h0M51.1 40.6h0M20.7 29.3h0M41.5 3.7h0M6.9 12.8h0M36.5 36.3h0M49.1 23.0h0M37.4 27.3h0M33.3 29.7h0M23.5 19.4h0M57.0 46.0h0M45.8 11.7h0M40.3 57.8h0M39.4 0.4h0M53.9 31.6h0M53.7 35.7h0M35.6 29.2h0M22.9 26.0h0M48.4 39.2h0M13.4 21.3h0M37.4 49.1h0M21.0 51.9h0M26.7 18.6h0M44.3 39.1h0M42.7 12.6h0M42.1 4.2h0M58.3 5.5h0M20.3 40.6h0M12.5 52.0h0M3.3 14.7h0M2.5 32.4h0M56.3 15.5h0M68.7 13.0h0M49.8 46.4h0M13.6 9.8h0M11.7 38.4h0M22.9 36.6h0M63.3 44.8h0M64.8 5.8h0M49.9 42.5h0M67.5 3.2h0M53.2 45.5h0M64.3 52.6h0M24.6 44.2h0M52.8 44.5h0M71.7 10.3h0M49.1 42.5h0M65.1 3.6h0M66.7 3.9h0M67.5 52.2h0M60.7 12.7h0M34.2 41.4h0M62.2 32.2h0M57.9 48.8h0M30.9 11.8h0M62.5 57.3h0M56.5 45.7h0M67.8 9.8h0M5.1 54.7h0M49.1 37.0h0M59.2 45.4h0M16.3 20.7h0M51.8 44.0h0M61.7 11.5h0M25.4 54.8h0M12.3 53.7h0M3.2 6.6h0M-2.6 6.5h0M69.3 53.5h0M69.8 1.7h0M59.8 57.1h0M3.4 6.1h0M66.3 18.1h0M43.9 39.5h0M18.4 21.0h0M38.5 33.0h0M55.5 16.9h0M28.7 44.2h0M38.1 16.4h0M4.0 40.7h0M61.8 4.1h0M55.5 33.4h0M31.5 30.4h0M5.8 31.3h0M25.2 1.9h0M70.5 26.3h0M28.3 25.8h0M-0.5 7.7h0M40.0 8.6h0M51.6 31.7h0M10.8 51.6h0M4.7 55.4h0M59.2 1.3h0M71.1 54.2h0M33.0 38.3h0M62.4 26.3h0M39.2 57.4h0M35.0 37.5h0M54.0 20.0h0M5.2 36.0h0M19.5 31.4h0M14.0 11.4h0M66.7 9.8h0M18.2 37.6h0M7.3 36.6h0M48.4 32.7h0M18.1 59.5h0M48.1 11.5h0M37.7 27.9h0M57.8 17.7h0M3.9 52.4h0M22.4 53.5h0M52.4 33.3h0M69.0 11.8h0M66.8 14.8h0M32.8 18.8h0M28.0 49.6h0M15.4 43.6h0M4.0 4.7h0M16.6 42.8h0M38.2 38.8h0M19.3 8.2h0M24.7 1.7h0M14.0 33.0h0M17.7 22.0h0M40.3 13.7h0M45.9 35.2h0M42.3 47.0h0M4.1 17.5h0M23.1 15.9h0M47.4 35.0h0M8.5 38.3h0M58.3 48.4h0M71.6 -2.2h0M39.1 10.1h0M67.4 15.3h0M63.0 32.3h0M22.2 36.1h0M32.2 9.2h0M42.5 19.9h0M36.8 29.2h0M29.4 35.7h0M50.4 44.9h0M26.7 47.3h0M6.4 14.2h0M59.5 29.2h0M53.6 20.4h0M42.2 11.6h0M34.6 26.0h0M53.9 15.3h0M56.2 38.8h0M18.5 39.5h0M71.6 0.6h0M57.5 3.6h0M59.2 47.5h0M35.9 29.1h0M70.4 30.5h0M24.8 23.3h0M62.2 30.7h0M58.3 31.8h0M20.0 52.8h0M28.4 20.7h0M33.5 38.7h0M32.6 58.4h0M12.1 46.1h0M21.6 2.0h0M58.9 47.8h0M59.0 46.5h0M14.7 53.1h0M62.4 17.5h0M32.8 20.7h0M18.6 42.1h0M13.8 46.7h0M49.7 36.8h0M13.6 13.2h0M13.6 40.9h0M42.8 58.5h0M25.3 39.0h0M29.3 53.7h0M55.3 58.5h0M2.4 57.7h0M42.2 15.2h0M45.5 2.1h0M61.6 22.7h0M68.3 12.3h0M50.0 3.9h0M10.0 17.4h0M35.8 25.3h0M9.4 45.6h0M25.3 19.9h0M17.2 42.6h0M5.1 53.7h0M28.9 22.8h0M59.2 29.8h0M25.9 8.2h0M59.5 44.6h0M52.9 31.7h0M53.9 28.0h0M2.7 28.8h0M5.2 30.2h0M19.3 31.9h0M33.4 14.9h0M14.1 27.6h0M3.1 37.0h0M52.5 35.7h0M47.6 18.0h0M14.4 56.1h0M44.9 3.9h0M39.1 52.3h0M27.3 48.3h0M0.9 38.5h0M12.8 12.8h0M54.8 47.3h0M58.0 46.6h0M7.3 28.6h0M47.0 37.5h0M25.1 9.4h0M49.1 23.4h0M29.8 18.4h0M12.6 11.0h0M59.0 25.4h0M1.7 51.2h0M56.4 49.8h0M15.5 44.6h0M24.8 56.5h0M47.2 13.2h0M59.7 25.3h0M4.0 39.9h0M39.4 4.3h0M71.3 49.0h0M45.7 20.0h0M62.3 14.4h0M9.4 54.4h0M59.9 29.5h0M34.5 41.0h0M60.3 23.9h0M32.1 30.9h0M30.6 20.6h0M39.6 22.7h0M42.7 13.8h0M7.1 55.9h0M15.0 52.1h0M21.1 20.1h0M18.8 36.1h0M57.4 49.5h0M10.3 11.5h0M71.4 52.8h0M6.9 17.9h0M59.0 46.2h0M2.3 54.5h0M17.6 4.9h0M10.3 55.6h0M52.0 18.9h0M29.2 19.3h0M23.3 57.0h0M5.5 39.4h0M12.1 4.9h0M60.9 33.7h0M19.0 13.0h0M59.0 47.9h0M24.9 31.9h0M63.1 15.4h0M17.7 25.3h0M65.6 33.2h0M57.1 55.4h0M0.7 7.7h0M66.6 13.9h0M34.0 34.9h0M15.2 42.4h0M60.6 23.8h0M10.2 53.1h0M14.3 13.3h0M14.4 7.7h0M26.9 17.0h0M28.6 13.4h0M8.2 33.9h0M59.3 -0.1h0M69.2 10.2h0M5.0 14.6h0M55.2 45.9h0M55.4 47.3h0M30.8 19.9h0M35.7 37.5h0M38.3 41.5h0M62.7 17.6h0M51.4 -1.6h0M36.0 6.0h0M11.8 14.1h0M8.5 52.2h0M18.7 33.1h0M56.8 25.7h0M6.7 57.6h0M61.1 46.2h0M30.2 44.2h0M31.8 27.3h0M56.8 0.7h0M16.4 22.4h0M32.2 47.2h0M56.4 34.0h0M37.2 46.8h0M57.8 6.0h0M46.6 23.0h0M62.4 45.2h0M33.4 15.2h0M50.0 40.2h0M16.9 46.2h0M22.1 44.1h0M57.9 30.2h0M36.0 46.7h0M13.5 48.8h0M60.6 1.5h0M18.5 28.1h0M27.5 49.6h0M68.5 28.6h0M26.9 19.6h0M42.8 6.8h0M54.9 43.1h0M67.0 19.7h0M26.2 38.1h0M6.1 51.4h0M14.2 18.4h0M44.2 9.0h0M57.0 43.4h0M33.3 42.1h0M1.9 40.0h0M42.1 11.1h0M19.8 31.9h0M64.6 6.7h0M73.7 11.6h0M69.4 26.9h0M29.8 24.3h0M0.2 22.3h0M24.6 51.4h0M57.6 16.4h0M16.2 49.9h0M7.9 19.3h0M66.5 22.2h0M46.1 17.8h0M1.8 12.5h0M42.3 10.3h0M55.6 3.9h0M19.9 25.9h0M55.7 29.1h0M24.9 44.5h0M46.5 51.2h0M6.7 53.1h0M47.9 54.2h0M46.9 37.3h0M40.7 55.7h0M63.0 42.7h0M5.7 45.3h0M69.1 21.0h0M33.9 19.3h0M4.5 25.5h0M71.5 23.7h0M22.1 8.1h0M54.1 0.5h0M14.7 15.2h0M27.1 12.9h0M33.0 35.4h0M43.3 18.2h0M15.6 5.0h0M20.2 26.8h0M36.8 32.2h0M1.5 8.2h0M41.3 57.3h0M11.4 31.8h0M14.7 50.0h0M50.8 4.8h0M46.1 12.4h0M61.5 35.9h0M56.1 30.7h0M13.9 40.4h0M60.9 1.8h0M67.4 14.9h0M44.8 40.0h0M16.5 47.2h0M9.7 31.0h0M65.3 44.6h0M14.0 51.4h0M18.0 5.6h0M68.6 51.5h0M59.0 28.2h0M54.4 37.1h0M36.1 56.7h0M29.2 23.7h0M52.4 2.5h0M36.8 49.4h0M24.1 19.7h0M4.6 29.9h0M47.3 39.8h0M22.6 23.0h0M44.8 -0.9h0M67.5 11.4h0M64.2 23.5h0M43.7 44.3h0M38.0 49.9h0M61.8 48.0h0M66.7 49.0h0M45.3 34.6h0M27.0 19.4h0M48.1 15.0h0M45.6 5.9h0M5.2 53.0h0M61.8 42.7h0M31.6 13.9h0M59.6 43.4h0M70.3 7.2h0M3.7 55.5h0M19.1 46.7h0M62.2 34.2h0M25.4 34.8h0M54.8 17.3h0M28.6 7.2h0M56.0 48.7h0M23.0 28.7h0M10.9 41.3h0M41.0 49.4h0M59.3 26.2h0M28.5 10.6h0M34.9 18.9h0M37.9 30.2h0M8.8 33.9h0M12.3 52.1h0M24.7 57.3h0M29.1 19.4h0M39.0 10.2h0M24.1 21.7h0M46.5 16.1h0M18.7 17.0h0M36.1 13.9h0M27.7 46.8h0M38.3 29.5h0M29.4 12.2h0M45.4 49.9h0M70.7 42.0h0M14.6 10.9h0M3.0 47.8h0M54.8 45.7h0M68.9 46.4h0M45.6 26.9h0M39.3 21.4h0M71.3 8.9h0M21.9 2.7h0M69.7 53.3h0M2.4 56.5h0M32.7 25.9h0M21.3 56.7h0M66.2 36.5h0M51.9 48.9h0M35.3 23.6h0" stroke="#7e665e" stroke-width="0.95" opacity=".8"/>
<path d="M10.6 53.3h0M11.8 23.4h0M28.0 16.8h0M61.9 21.8h0M31.2 3.2h0M66.2 20.5h0M8.6 36.9h0M45.0 17.1h0M70.9 47.9h0M39.7 14.0h0M38.7 1.7h0M22.5 48.9h0M25.5 55.8h0M5.3 2.7h0M48.4 11.4h0M43.5 42.2h0M35.7 37.9h0M39.3 11.8h0M50.6 2.7h0M17.2 4.7h0M64.3 17.6h0M63.9 41.7h0M67.2 43.8h0M53.9 49.9h0M57.0 39.3h0M36.9 34.8h0M64.5 39.8h0M50.1 45.5h0M47.9 36.1h0M11.6 57.1h0M43.4 47.2h0M12.1 20.5h0M56.0 46.8h0M48.0 41.5h0M62.8 13.2h0M3.5 47.5h0M25.1 15.0h0M14.8 23.4h0M26.7 42.2h0M25.6 8.2h0M65.8 40.6h0M5.9 11.1h0M26.2 22.4h0M43.1 24.9h0M36.8 31.4h0M51.5 3.5h0M39.0 54.5h0M64.4 6.1h0M52.9 50.0h0M9.9 37.8h0M66.8 30.7h0M27.8 14.5h0M12.5 5.3h0M59.4 42.6h0M9.1 54.8h0M70.9 8.7h0M40.7 56.7h0M33.8 27.6h0M8.4 51.9h0M12.8 55.9h0M10.8 14.8h0M39.0 37.0h0M39.5 32.4h0M51.4 20.8h0M36.2 25.2h0M46.3 39.7h0M66.2 18.1h0M59.1 28.8h0M58.0 28.2h0M43.7 45.8h0M66.6 17.5h0M53.5 12.6h0M50.1 25.9h0M21.6 29.3h0M10.6 13.0h0M34.2 32.3h0M47.4 21.6h0M6.7 18.9h0M71.2 30.0h0M56.2 4.2h0M20.6 29.0h0M8.4 38.6h0M11.7 53.7h0M32.5 39.3h0M10.5 53.4h0M62.9 22.3h0M16.9 1.9h0M44.2 21.4h0M69.0 10.8h0M14.9 20.6h0M47.8 37.4h0M26.9 18.7h0M65.5 58.5h0M52.0 4.2h0M61.5 3.0h0M43.2 21.7h0M60.2 47.0h0M22.2 18.7h0M49.0 15.6h0M65.8 21.7h0M54.2 22.8h0M65.2 24.4h0M29.0 44.5h0M63.8 4.0h0M20.8 9.5h0M36.9 41.5h0M2.2 8.7h0M38.6 39.1h0M65.2 25.6h0M55.0 7.5h0M15.6 22.0h0M71.9 51.4h0M29.7 16.0h0M12.3 13.7h0M33.5 36.8h0M5.2 33.6h0M14.2 10.0h0M11.5 7.5h0M61.5 39.2h0M49.7 15.2h0M42.0 59.6h0M55.9 49.4h0M52.1 41.6h0M72.1 1.1h0M3.4 11.7h0M3.3 40.5h0M71.8 5.0h0M48.9 41.2h0M49.3 12.6h0M13.6 14.7h0M17.3 51.6h0M66.1 43.6h0M31.9 18.5h0M35.7 39.3h0M65.6 12.5h0M60.9 32.3h0M63.5 25.2h0M7.6 54.0h0M6.9 1.8h0M70.6 5.2h0M11.1 51.6h0M65.3 24.5h0M12.5 13.2h0M63.1 13.7h0M15.0 44.4h0M41.2 39.8h0M59.5 46.6h0M58.8 3.7h0M54.6 14.0h0M6.5 55.2h0M64.8 2.6h0M64.6 14.6h0M22.7 54.6h0M63.3 39.2h0M0.8 37.0h0M2.2 37.4h0M45.2 13.0h0M4.5 39.5h0M16.7 38.6h0M41.6 11.6h0M33.5 5.8h0M38.5 16.2h0M22.5 5.6h0M47.0 38.1h0M22.6 24.1h0M41.7 49.7h0M46.8 39.8h0M47.0 36.4h0M41.1 15.3h0M41.6 51.6h0M21.5 28.3h0M65.8 19.0h0M66.6 18.3h0M35.1 51.1h0M17.2 30.1h0M48.3 46.2h0M2.0 20.1h0M40.6 15.6h0M72.7 2.1h0M67.5 29.5h0M69.1 26.7h0M47.2 18.3h0M24.9 52.5h0M38.5 54.3h0M9.9 15.5h0M33.1 44.7h0M55.6 33.6h0M42.0 4.3h0M32.5 37.6h0M43.2 10.5h0M46.5 42.5h0M30.9 2.5h0M19.6 23.1h0M27.7 20.1h0M21.6 23.5h0M53.6 44.2h0M54.1 45.9h0M1.5 31.4h0M25.1 29.7h0M56.5 45.5h0M30.6 2.7h0M64.9 31.9h0M6.6 38.2h0M3.0 13.0h0M32.4 46.5h0M34.2 53.7h0M35.0 8.6h0M67.8 23.7h0M69.8 15.0h0M6.1 3.9h0M20.0 53.1h0M41.7 6.9h0M12.9 16.7h0M70.7 50.6h0M47.4 8.7h0M36.5 36.3h0M10.2 3.5h0M47.9 18.3h0M56.7 28.8h0M40.9 27.4h0M39.6 7.2h0M0.1 31.8h0M46.1 40.5h0M57.6 50.8h0M31.5 27.2h0M4.3 51.3h0M39.5 48.6h0M27.9 31.3h0M41.6 12.9h0M23.6 18.7h0M70.4 7.1h0M47.5 24.7h0M34.2 38.3h0M25.0 56.2h0M66.8 50.5h0M66.6 51.4h0M51.9 40.9h0M56.3 16.3h0M24.2 15.8h0M5.4 55.7h0M9.5 35.7h0M4.3 14.7h0M34.0 37.6h0M0.5 0.3h0M47.3 31.5h0M57.9 33.7h0M7.7 40.9h0M47.7 3.6h0M63.7 12.6h0M64.7 13.6h0M47.5 6.6h0M44.6 18.6h0M6.5 52.7h0M13.6 17.7h0M41.7 36.9h0M54.1 29.3h0M6.2 52.6h0M18.0 16.1h0M41.3 43.0h0M65.9 34.2h0M13.5 13.0h0M55.0 42.4h0M22.3 33.5h0M62.4 49.6h0M23.5 51.5h0M70.6 18.1h0" stroke="#7c6260" stroke-width="1.45" opacity=".75"/>
<path d="M33.9 42.3h0M37.9 31.1h0M36.2 46.2h0M8.6 17.5h0M16.1 22.6h0M58.5 3.0h0M52.7 32.1h0M20.8 57.2h0M34.6 49.4h0M57.5 23.0h0M27.0 17.6h0M70.0 8.4h0M57.1 31.9h0M59.3 26.6h0M9.0 41.4h0M70.7 -1.5h0M4.4 41.9h0M39.3 11.2h0M36.1 28.2h0M25.1 46.0h0M22.1 29.4h0M27.7 18.2h0M58.7 30.2h0M66.5 10.2h0M53.1 14.3h0M25.5 18.4h0M13.6 13.3h0M62.0 36.8h0M34.3 27.4h0M58.7 32.1h0M34.6 24.2h0M1.2 10.4h0M43.5 5.2h0M11.1 53.1h0M49.1 3.3h0M45.8 22.5h0M22.4 56.7h0M27.1 2.2h0M71.6 20.5h0M14.1 2.4h0M71.3 52.2h0M44.5 22.5h0M9.5 35.8h0M18.9 29.7h0M13.8 46.5h0M31.3 18.2h0M59.4 3.1h0M69.0 11.4h0M68.9 6.3h0M59.8 5.4h0M66.8 15.2h0M18.3 0.6h0M49.0 21.6h0M46.8 37.8h0M33.9 39.9h0M45.5 20.6h0M6.4 44.6h0M36.8 29.1h0M14.7 10.1h0M20.6 20.5h0M32.2 17.7h0M43.9 22.1h0M5.7 33.8h0M68.1 12.3h0M25.9 0.1h0M40.5 58.6h0M19.2 8.1h0M10.4 40.3h0M57.5 14.1h0M59.0 14.4h0M52.8 5.8h0M61.8 43.2h0M51.2 -1.3h0M23.6 44.0h0M36.0 40.1h0M65.8 21.3h0M39.6 23.2h0M17.6 28.4h0M47.4 41.2h0M57.6 39.2h0M52.3 34.1h0M59.3 47.6h0M70.7 -0.0h0M22.6 54.7h0M26.8 39.7h0M1.3 10.2h0M7.1 7.4h0M34.2 43.0h0M31.4 41.7h0M53.9 17.0h0M3.3 35.7h0M14.8 7.9h0M63.3 5.9h0M61.6 12.1h0M18.8 26.9h0M59.7 24.0h0M56.5 32.3h0M36.3 16.2h0M32.8 30.8h0M70.5 7.4h0M10.6 29.7h0M14.6 31.1h0M42.0 38.3h0M62.7 1.1h0M20.0 10.0h0" stroke="#965034" stroke-width="1.5" opacity=".8"/>
<g filter="url(#bh)" stroke="#d66a40" opacity=".72"><path d="M54.3 17.3l-1.4 0.2M70.2 2.1l-1.6 0.0M62.6 44.7l-0.4 1.4M66.1 34.5l0.2 1.4M30.7 42.7l-0.4 0.1M42.4 36.6l0.8 0.0M62.7 19.4l0.4 0.6M50.7 44.7l-0.1 0.5M48.4 33.1l0.8 0.9M35.1 28.2l1.0 0.7M40.1 15.7l-0.6 0.3M11.7 36.1l1.1 0.4M18.1 33.6l-1.4 0.2M60.3 27.0l0.0 0.5M61.0 4.2l0.5 1.0M31.6 42.8l0.9 0.3M4.7 37.7l0.9 0.3M33.7 34.0l-0.7 1.3" stroke-width="2.4"/><path d="M32.1 42.2l-1.1 0.3M57.5 32.8l0.5 1.6M33.6 30.9l1.1 0.9M3.0 51.3l0.8 0.9M22.0 44.6l0.8 0.7M62.0 42.2l0.6 1.2" stroke-width="3.3"/></g>
<path d="M54.3 17.3l-1.4 0.2M70.2 2.1l-1.6 0.0M62.6 44.7l-0.4 1.4M66.1 34.5l0.2 1.4M30.7 42.7l-0.4 0.1M42.4 36.6l0.8 0.0M62.7 19.4l0.4 0.6M50.7 44.7l-0.1 0.5M48.4 33.1l0.8 0.9M35.1 28.2l1.0 0.7M40.1 15.7l-0.6 0.3M11.7 36.1l1.1 0.4M18.1 33.6l-1.4 0.2M60.3 27.0l0.0 0.5M61.0 4.2l0.5 1.0M31.6 42.8l0.9 0.3M4.7 37.7l0.9 0.3M33.7 34.0l-0.7 1.3" stroke="#62281c" stroke-width="1.25"/>
<path d="M32.1 42.2l-1.1 0.3M57.5 32.8l0.5 1.6M33.6 30.9l1.1 0.9M3.0 51.3l0.8 0.9M22.0 44.6l0.8 0.7M62.0 42.2l0.6 1.2" stroke="#562014" stroke-width="1.9"/>
</g></svg>
<line x1="336.60" y1="288.20" x2="353.00" y2="288.20" stroke="#000" stroke-width="1.5"/>
<text x="344.80" y="285.20" font-size="5.2" text-anchor="middle" font-weight="bold">100μM</text>
<text x="-0.30" y="319.60" font-size="14.6" text-anchor="start" font-weight="bold">D</text>
<text transform="translate(14.80,374.80) rotate(-90)" font-size="9.6" text-anchor="middle" font-weight="bold" style="stroke-width:.38px">Relative Migration Cells</text>
<line x1="51.10" y1="373.80" x2="51.10" y2="369.78" stroke="#000" stroke-width="1.25"/>
<line x1="48.80" y1="369.78" x2="53.40" y2="369.78" stroke="#000" stroke-width="1.3"/>
<line x1="61.10" y1="339.38" x2="61.10" y2="335.98" stroke="#000" stroke-width="1.25"/>
<line x1="58.80" y1="335.98" x2="63.40" y2="335.98" stroke="#000" stroke-width="1.3"/>
<rect x="46.60" y="373.90" width="9.50" height="51.50" fill="#fff" stroke="#000" stroke-width="1.35"/>
<rect x="56.10" y="339.38" width="10.10" height="86.02" fill="#000"/>
<line x1="83.50" y1="394.22" x2="83.50" y2="392.83" stroke="#000" stroke-width="1.25"/>
<line x1="81.20" y1="392.83" x2="85.80" y2="392.83" stroke="#000" stroke-width="1.3"/>
<line x1="93.50" y1="392.78" x2="93.50" y2="391.39" stroke="#000" stroke-width="1.25"/>
<line x1="91.20" y1="391.39" x2="95.80" y2="391.39" stroke="#000" stroke-width="1.3"/>
<rect x="79.00" y="394.32" width="9.50" height="31.08" fill="#fff" stroke="#000" stroke-width="1.35"/>
<rect x="88.50" y="392.78" width="10.10" height="32.62" fill="#000"/>
<line x1="116.10" y1="403.79" x2="116.10" y2="402.40" stroke="#000" stroke-width="1.25"/>
<line x1="113.80" y1="402.40" x2="118.40" y2="402.40" stroke="#000" stroke-width="1.3"/>
<line x1="126.10" y1="403.48" x2="126.10" y2="402.45" stroke="#000" stroke-width="1.25"/>
<line x1="123.80" y1="402.45" x2="128.40" y2="402.45" stroke="#000" stroke-width="1.3"/>
<rect x="111.60" y="403.89" width="9.50" height="21.51" fill="#fff" stroke="#000" stroke-width="1.35"/>
<rect x="121.10" y="403.48" width="10.10" height="21.92" fill="#000"/>
<line x1="148.60" y1="414.90" x2="148.60" y2="413.21" stroke="#000" stroke-width="1.25"/>
<line x1="146.30" y1="413.21" x2="150.90" y2="413.21" stroke="#000" stroke-width="1.3"/>
<line x1="158.60" y1="412.10" x2="158.60" y2="411.17" stroke="#000" stroke-width="1.25"/>
<line x1="156.30" y1="411.17" x2="160.90" y2="411.17" stroke="#000" stroke-width="1.3"/>
<rect x="144.10" y="415.00" width="9.50" height="10.40" fill="#fff" stroke="#000" stroke-width="1.35"/>
<rect x="153.60" y="412.10" width="10.10" height="13.30" fill="#000"/>
<line x1="33.40" y1="321.90" x2="33.40" y2="426.10" stroke="#000" stroke-width="1.5"/>
<line x1="32.70" y1="425.40" x2="176.80" y2="425.40" stroke="#000" stroke-width="1.5"/>
<line x1="30.00" y1="425.40" x2="33.40" y2="425.40" stroke="#000" stroke-width="1.3"/>
<text x="27.40" y="427.65" font-size="6.3" text-anchor="end" font-weight="bold">0.0</text>
<line x1="30.00" y1="404.82" x2="33.40" y2="404.82" stroke="#000" stroke-width="1.3"/>
<text x="27.40" y="407.07" font-size="6.3" text-anchor="end" font-weight="bold">.4</text>
<line x1="30.00" y1="384.24" x2="33.40" y2="384.24" stroke="#000" stroke-width="1.3"/>
<text x="27.40" y="386.49" font-size="6.3" text-anchor="end" font-weight="bold">.8</text>
<line x1="30.00" y1="363.66" x2="33.40" y2="363.66" stroke="#000" stroke-width="1.3"/>
<text x="27.40" y="365.91" font-size="6.3" text-anchor="end" font-weight="bold">1.2</text>
<line x1="30.00" y1="343.08" x2="33.40" y2="343.08" stroke="#000" stroke-width="1.3"/>
<text x="27.40" y="345.33" font-size="6.3" text-anchor="end" font-weight="bold">1.6</text>
<line x1="30.00" y1="322.50" x2="33.40" y2="322.50" stroke="#000" stroke-width="1.3"/>
<text x="27.40" y="324.75" font-size="6.3" text-anchor="end" font-weight="bold">2.0</text>
<line x1="56.10" y1="425.40" x2="56.10" y2="427.40" stroke="#000" stroke-width="1.2"/>
<line x1="88.50" y1="425.40" x2="88.50" y2="427.40" stroke="#000" stroke-width="1.2"/>
<line x1="121.10" y1="425.40" x2="121.10" y2="427.40" stroke="#000" stroke-width="1.2"/>
<line x1="153.60" y1="425.40" x2="153.60" y2="427.40" stroke="#000" stroke-width="1.2"/>
<text x="54.80" y="435.30" font-size="7" text-anchor="middle" font-weight="bold">0</text>
<text x="87.80" y="435.30" font-size="7" text-anchor="middle" font-weight="bold">15</text>
<text x="120.30" y="435.30" font-size="7" text-anchor="middle" font-weight="bold">30</text>
<text x="153.40" y="435.30" font-size="7" text-anchor="middle" font-weight="bold">60</text>
<line x1="85.00" y1="438.00" x2="157.60" y2="438.00" stroke="#000" stroke-width="0.9"/>
<text x="123.50" y="445.70" font-size="7.2" text-anchor="middle" font-weight="bold">CsA (μM)</text>
<text x="84.00" y="391.99" font-size="9.5" text-anchor="middle" font-weight="bold" style="stroke-width:0">**</text>
<text x="116.20" y="400.79" font-size="9.5" text-anchor="middle" font-weight="bold" style="stroke-width:0">**</text>
<text x="148.30" y="412.19" font-size="9.5" text-anchor="middle" font-weight="bold" style="stroke-width:0">**</text>
<text x="93.00" y="387.40" font-size="5.3" text-anchor="middle" font-weight="bold" font-style="italic" style="stroke-width:.15px">##</text>
<text x="125.90" y="400.20" font-size="5.3" text-anchor="middle" font-weight="bold" font-style="italic" style="stroke-width:.15px">##</text>
<text x="158.00" y="407.90" font-size="5.3" text-anchor="middle" font-weight="bold" font-style="italic" style="stroke-width:.15px">##</text>
<rect x="136.10" y="324.50" width="13.90" height="2.60" rx="0.9" fill="#fff" stroke="#000" stroke-width="1.35"/>
<rect x="135.50" y="332.00" width="15.10" height="3.80" rx="1.2" fill="#000"/>
<text x="155.40" y="328.00" font-size="6.2" text-anchor="start" font-weight="bold">CON</text>
<text x="155.40" y="336.10" font-size="6.2" text-anchor="start" font-weight="bold">MCT</text>
<text x="179.20" y="319.60" font-size="14.6" text-anchor="start" font-weight="bold">E</text>
<text transform="translate(201.00,374.10) rotate(-90)" font-size="9.3" text-anchor="middle" font-weight="bold" style="stroke-width:.38px">Migration Inhibition by CsA</text>
<line x1="240.35" y1="384.47" x2="240.35" y2="381.69" stroke="#000" stroke-width="1.25"/>
<line x1="238.05" y1="381.69" x2="242.65" y2="381.69" stroke="#000" stroke-width="1.3"/>
<line x1="253.65" y1="361.22" x2="253.65" y2="359.42" stroke="#000" stroke-width="1.25"/>
<line x1="251.35" y1="359.42" x2="255.95" y2="359.42" stroke="#000" stroke-width="1.3"/>
<rect x="234.20" y="384.57" width="12.80" height="39.93" fill="#fff" stroke="#000" stroke-width="1.35"/>
<rect x="247.00" y="361.22" width="13.40" height="63.28" fill="#000"/>
<line x1="283.55" y1="364.51" x2="283.55" y2="361.73" stroke="#000" stroke-width="1.25"/>
<line x1="281.25" y1="361.73" x2="285.85" y2="361.73" stroke="#000" stroke-width="1.3"/>
<line x1="296.85" y1="347.63" x2="296.85" y2="346.60" stroke="#000" stroke-width="1.25"/>
<line x1="294.55" y1="346.60" x2="299.15" y2="346.60" stroke="#000" stroke-width="1.3"/>
<rect x="277.40" y="364.61" width="12.80" height="59.89" fill="#fff" stroke="#000" stroke-width="1.35"/>
<rect x="290.20" y="347.63" width="13.40" height="76.87" fill="#000"/>
<line x1="327.05" y1="343.83" x2="327.05" y2="341.36" stroke="#000" stroke-width="1.25"/>
<line x1="324.75" y1="341.36" x2="329.35" y2="341.36" stroke="#000" stroke-width="1.3"/>
<line x1="340.35" y1="337.60" x2="340.35" y2="336.57" stroke="#000" stroke-width="1.25"/>
<line x1="338.05" y1="336.57" x2="342.65" y2="336.57" stroke="#000" stroke-width="1.3"/>
<rect x="320.90" y="343.93" width="12.80" height="80.57" fill="#fff" stroke="#000" stroke-width="1.35"/>
<rect x="333.70" y="337.60" width="13.40" height="86.90" fill="#000"/>
<line x1="218.60" y1="321.00" x2="218.60" y2="425.20" stroke="#000" stroke-width="1.5"/>
<line x1="217.90" y1="424.50" x2="362.30" y2="424.50" stroke="#000" stroke-width="1.5"/>
<line x1="215.20" y1="424.50" x2="218.60" y2="424.50" stroke="#000" stroke-width="1.3"/>
<text x="212.60" y="426.75" font-size="6.3" text-anchor="end" font-weight="bold">0.0</text>
<line x1="215.20" y1="403.92" x2="218.60" y2="403.92" stroke="#000" stroke-width="1.3"/>
<text x="212.60" y="406.17" font-size="6.3" text-anchor="end" font-weight="bold">.2</text>
<line x1="215.20" y1="383.34" x2="218.60" y2="383.34" stroke="#000" stroke-width="1.3"/>
<text x="212.60" y="385.59" font-size="6.3" text-anchor="end" font-weight="bold">.4</text>
<line x1="215.20" y1="362.76" x2="218.60" y2="362.76" stroke="#000" stroke-width="1.3"/>
<text x="212.60" y="365.01" font-size="6.3" text-anchor="end" font-weight="bold">.6</text>
<line x1="215.20" y1="342.18" x2="218.60" y2="342.18" stroke="#000" stroke-width="1.3"/>
<text x="212.60" y="344.43" font-size="6.3" text-anchor="end" font-weight="bold">.8</text>
<line x1="215.20" y1="321.60" x2="218.60" y2="321.60" stroke="#000" stroke-width="1.3"/>
<text x="212.60" y="323.85" font-size="6.3" text-anchor="end" font-weight="bold">1.0</text>
<line x1="247.00" y1="424.50" x2="247.00" y2="426.50" stroke="#000" stroke-width="1.2"/>
<line x1="290.20" y1="424.50" x2="290.20" y2="426.50" stroke="#000" stroke-width="1.2"/>
<line x1="333.70" y1="424.50" x2="333.70" y2="426.50" stroke="#000" stroke-width="1.2"/>
<text x="247.60" y="434.30" font-size="7" text-anchor="middle" font-weight="bold">15</text>
<text x="291.00" y="434.30" font-size="7" text-anchor="middle" font-weight="bold">30</text>
<text x="334.00" y="434.30" font-size="7" text-anchor="middle" font-weight="bold">60</text>
<line x1="248.20" y1="437.60" x2="333.00" y2="437.60" stroke="#000" stroke-width="0.9"/>
<text x="297.00" y="444.70" font-size="7.2" text-anchor="middle" font-weight="bold">CsA (μM)</text>
<text x="253.30" y="356.05" font-size="6.2" text-anchor="middle" font-weight="bold" font-family="'Liberation Serif', 'Times New Roman', serif" style="stroke-width:.1px">ΔΔ</text>
<text x="296.20" y="342.45" font-size="6.2" text-anchor="middle" font-weight="bold" font-family="'Liberation Serif', 'Times New Roman', serif" style="stroke-width:.1px">ΔΔ</text>
<text x="340.00" y="333.15" font-size="6.2" text-anchor="middle" font-weight="bold" font-family="'Liberation Serif', 'Times New Roman', serif" style="stroke-width:.1px">Δ</text>
<rect x="228.20" y="321.40" width="13.90" height="2.70" rx="0.9" fill="#fff" stroke="#000" stroke-width="1.35"/>
<rect x="227.60" y="329.10" width="15.10" height="3.90" rx="1.2" fill="#000"/>
<text x="246.00" y="324.95" font-size="6.2" text-anchor="start" font-weight="bold">CON</text>
<text x="246.00" y="333.25" font-size="6.2" text-anchor="start" font-weight="bold">MCT</text>
<text x="-0.60" y="455.90" font-size="14.4" text-anchor="start" font-weight="bold">F</text>
<text transform="translate(13.40,511.50) rotate(-90)" font-size="9.7" text-anchor="middle" font-weight="bold" style="stroke-width:.38px">Apoptosis Cells %</text>
<line x1="46.75" y1="490.60" x2="46.75" y2="480.80" stroke="#000" stroke-width="1.25"/>
<line x1="44.45" y1="480.80" x2="49.05" y2="480.80" stroke="#000" stroke-width="1.3"/>
<line x1="56.65" y1="537.50" x2="56.65" y2="534.88" stroke="#000" stroke-width="1.25"/>
<line x1="54.35" y1="534.88" x2="58.95" y2="534.88" stroke="#000" stroke-width="1.3"/>
<rect x="42.30" y="490.70" width="9.40" height="73.00" fill="#fff" stroke="#000" stroke-width="1.35"/>
<rect x="51.70" y="537.50" width="10.00" height="26.20" fill="#000"/>
<line x1="79.45" y1="487.72" x2="79.45" y2="478.10" stroke="#000" stroke-width="1.25"/>
<line x1="77.15" y1="478.10" x2="81.75" y2="478.10" stroke="#000" stroke-width="1.3"/>
<line x1="89.35" y1="537.50" x2="89.35" y2="532.10" stroke="#000" stroke-width="1.25"/>
<line x1="87.05" y1="532.10" x2="91.65" y2="532.10" stroke="#000" stroke-width="1.3"/>
<rect x="75.00" y="487.82" width="9.40" height="75.88" fill="#fff" stroke="#000" stroke-width="1.35"/>
<rect x="84.40" y="537.50" width="10.00" height="26.20" fill="#000"/>
<line x1="112.35" y1="489.03" x2="112.35" y2="475.41" stroke="#000" stroke-width="1.25"/>
<line x1="110.05" y1="475.41" x2="114.65" y2="475.41" stroke="#000" stroke-width="1.3"/>
<line x1="122.25" y1="536.09" x2="122.25" y2="530.69" stroke="#000" stroke-width="1.25"/>
<line x1="119.95" y1="530.69" x2="124.55" y2="530.69" stroke="#000" stroke-width="1.3"/>
<rect x="107.90" y="489.13" width="9.40" height="74.57" fill="#fff" stroke="#000" stroke-width="1.35"/>
<rect x="117.30" y="536.09" width="10.00" height="27.61" fill="#000"/>
<line x1="144.85" y1="533.57" x2="144.85" y2="531.47" stroke="#000" stroke-width="1.25"/>
<line x1="142.55" y1="531.47" x2="147.15" y2="531.47" stroke="#000" stroke-width="1.3"/>
<line x1="154.75" y1="548.69" x2="154.75" y2="546.85" stroke="#000" stroke-width="1.25"/>
<line x1="152.45" y1="546.85" x2="157.05" y2="546.85" stroke="#000" stroke-width="1.3"/>
<rect x="140.40" y="533.67" width="9.40" height="30.03" fill="#fff" stroke="#000" stroke-width="1.35"/>
<rect x="149.80" y="548.69" width="10.00" height="15.01" fill="#000"/>
<line x1="28.90" y1="458.30" x2="28.90" y2="564.40" stroke="#000" stroke-width="1.5"/>
<line x1="28.20" y1="563.70" x2="172.70" y2="563.70" stroke="#000" stroke-width="1.5"/>
<line x1="25.50" y1="563.70" x2="28.90" y2="563.70" stroke="#000" stroke-width="1.3"/>
<text x="22.90" y="565.95" font-size="6.3" text-anchor="end" font-weight="bold">0</text>
<line x1="25.50" y1="537.50" x2="28.90" y2="537.50" stroke="#000" stroke-width="1.3"/>
<text x="22.90" y="539.75" font-size="6.3" text-anchor="end" font-weight="bold">1</text>
<line x1="25.50" y1="511.30" x2="28.90" y2="511.30" stroke="#000" stroke-width="1.3"/>
<text x="22.90" y="513.55" font-size="6.3" text-anchor="end" font-weight="bold">2</text>
<line x1="25.50" y1="485.10" x2="28.90" y2="485.10" stroke="#000" stroke-width="1.3"/>
<text x="22.90" y="487.35" font-size="6.3" text-anchor="end" font-weight="bold">3</text>
<line x1="25.50" y1="458.90" x2="28.90" y2="458.90" stroke="#000" stroke-width="1.3"/>
<text x="22.90" y="461.15" font-size="6.3" text-anchor="end" font-weight="bold">4</text>
<line x1="51.70" y1="563.70" x2="51.70" y2="565.70" stroke="#000" stroke-width="1.2"/>
<line x1="84.40" y1="563.70" x2="84.40" y2="565.70" stroke="#000" stroke-width="1.2"/>
<line x1="117.30" y1="563.70" x2="117.30" y2="565.70" stroke="#000" stroke-width="1.2"/>
<line x1="149.80" y1="563.70" x2="149.80" y2="565.70" stroke="#000" stroke-width="1.2"/>
<text x="51.70" y="573.30" font-size="7" text-anchor="middle" font-weight="bold">0</text>
<text x="84.50" y="573.30" font-size="7" text-anchor="middle" font-weight="bold">15</text>
<text x="117.30" y="573.30" font-size="7" text-anchor="middle" font-weight="bold">30</text>
<text x="150.20" y="573.30" font-size="7" text-anchor="middle" font-weight="bold">60</text>
<line x1="81.30" y1="574.50" x2="153.50" y2="574.50" stroke="#000" stroke-width="0.9"/>
<text x="120.00" y="581.80" font-size="7.2" text-anchor="middle" font-weight="bold">CsA (μM)</text>
<text x="144.00" y="529.49" font-size="9.5" text-anchor="middle" font-weight="bold" style="stroke-width:0">**</text>
<text x="153.50" y="544.30" font-size="5.3" text-anchor="middle" font-weight="bold" font-style="italic" style="stroke-width:.15px">#</text>
<rect x="133.00" y="461.50" width="13.90" height="2.70" rx="0.9" fill="#fff" stroke="#000" stroke-width="1.35"/>
<rect x="132.40" y="469.00" width="15.10" height="3.90" rx="1.2" fill="#000"/>
<text x="150.80" y="465.05" font-size="6.3" text-anchor="start" font-weight="bold">CON</text>
<text x="150.80" y="473.15" font-size="6.3" text-anchor="start" font-weight="bold">MCT</text>
<rect x="0" y="582.8" width="365" height="1.2" fill="#e6e6e6"/>
</svg>
</body>
</html>
